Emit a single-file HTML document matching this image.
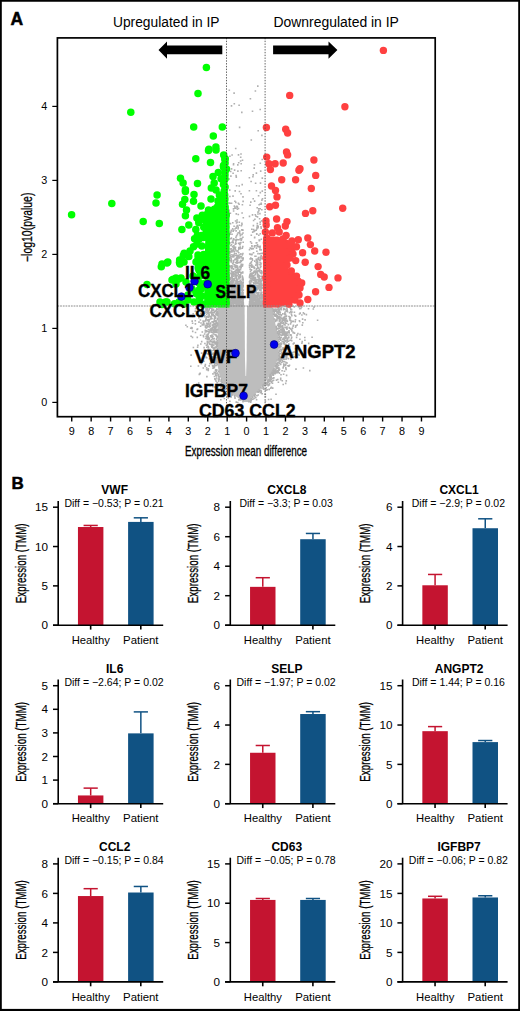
<!DOCTYPE html>
<html><head><meta charset="utf-8"><style>
html,body{margin:0;padding:0;background:#fff;overflow:hidden;width:520px;height:1011px;}
svg{display:block;font-family:"Liberation Sans", sans-serif;}
</style></head><body>
<svg width="520" height="1011" viewBox="0 0 520 1011">
<rect width="520" height="1011" fill="#fff"/>
<text x="10.40" y="25.00" font-size="17.5" text-anchor="start" font-weight="bold" stroke="#000" stroke-width="0.5">A</text>
<text x="113.00" y="26.60" font-size="13.8" text-anchor="start" textLength="106.5" lengthAdjust="spacingAndGlyphs">Upregulated in IP</text>
<text x="273.40" y="26.60" font-size="13.8" text-anchor="start" textLength="125.5" lengthAdjust="spacingAndGlyphs">Downregulated in IP</text>
<polygon points="218.0,306 218.0,309 217.9,312 217.9,315 217.9,318 217.8,321 217.8,324 217.8,327 217.7,330 217.7,333 217.7,336 217.6,339 217.6,342 217.6,345 217.5,348 217.5,351 217.5,354 217.5,357 217.5,360 217.5,363 217.7,366 218.3,369 218.9,372 219.5,375 220.7,378 221.9,381 223.1,384 225.5,387 228.5,390 231.5,393 235.4,396 239.5,399 244.2,402 248.4,402 250.7,399 253.3,396 256.4,393 259.2,390 261.5,387 263.9,384 266.2,381 268.2,378 270.1,375 272.0,372 273.9,369 275.2,366 276.3,363 277.4,360 278.5,357 278.6,354 278.7,351 278.8,348 278.9,345 278.9,342 278.8,339 278.1,336 277.4,333 276.8,330 276.1,327 275.4,324 274.7,321 274.1,318 273.6,315 273.1,312 272.5,309 272.0,306" fill="#bdbdbd"/>
<path fill="#b0b0b0" d="M212.3 305.6h1.6v1.6h-1.6zM210.8 338.7h1.6v1.6h-1.6zM294.4 320.8h1.6v1.6h-1.6zM212.1 340.6h1.6v1.6h-1.6zM268.9 382.4h1.6v1.6h-1.6zM283.0 351.3h1.6v1.6h-1.6zM211.8 345.6h1.6v1.6h-1.6zM287.2 331.3h1.6v1.6h-1.6zM208.8 315.8h1.6v1.6h-1.6zM218.4 378.5h1.6v1.6h-1.6zM280.5 358.4h1.6v1.6h-1.6zM211.3 321.0h1.6v1.6h-1.6zM215.1 328.6h1.6v1.6h-1.6zM203.3 353.9h1.6v1.6h-1.6zM212.5 313.9h1.6v1.6h-1.6zM273.2 372.1h1.6v1.6h-1.6zM210.8 312.4h1.6v1.6h-1.6zM274.6 370.4h1.6v1.6h-1.6zM220.0 386.3h1.6v1.6h-1.6zM216.2 341.1h1.6v1.6h-1.6zM210.2 315.7h1.6v1.6h-1.6zM281.4 353.9h1.6v1.6h-1.6zM194.8 310.2h1.6v1.6h-1.6zM210.1 311.4h1.6v1.6h-1.6zM285.1 347.9h1.6v1.6h-1.6zM254.1 396.0h1.6v1.6h-1.6zM267.2 383.7h1.6v1.6h-1.6zM207.0 315.4h1.6v1.6h-1.6zM279.3 360.2h1.6v1.6h-1.6zM194.8 308.0h1.6v1.6h-1.6zM204.0 316.0h1.6v1.6h-1.6zM204.1 342.7h1.6v1.6h-1.6zM269.1 380.3h1.6v1.6h-1.6zM211.0 346.3h1.6v1.6h-1.6zM286.8 338.6h1.6v1.6h-1.6zM205.0 319.8h1.6v1.6h-1.6zM278.2 306.3h1.6v1.6h-1.6zM268.6 384.1h1.6v1.6h-1.6zM215.3 305.4h1.6v1.6h-1.6zM211.0 308.9h1.6v1.6h-1.6zM200.4 313.3h1.6v1.6h-1.6zM284.1 315.4h1.6v1.6h-1.6zM277.7 358.6h1.6v1.6h-1.6zM215.7 330.1h1.6v1.6h-1.6zM202.7 312.8h1.6v1.6h-1.6zM206.6 322.8h1.6v1.6h-1.6zM214.7 317.0h1.6v1.6h-1.6zM286.9 337.9h1.6v1.6h-1.6zM286.2 320.5h1.6v1.6h-1.6zM281.3 320.1h1.6v1.6h-1.6zM274.4 305.6h1.6v1.6h-1.6zM291.2 311.2h1.6v1.6h-1.6zM272.7 369.2h1.6v1.6h-1.6zM278.1 329.8h1.6v1.6h-1.6zM210.7 328.9h1.6v1.6h-1.6zM238.5 398.8h1.6v1.6h-1.6zM286.7 310.8h1.6v1.6h-1.6zM290.3 308.6h1.6v1.6h-1.6zM208.2 338.9h1.6v1.6h-1.6zM214.2 330.1h1.6v1.6h-1.6zM279.2 337.0h1.6v1.6h-1.6zM269.2 379.9h1.6v1.6h-1.6zM212.2 347.1h1.6v1.6h-1.6zM258.2 390.4h1.6v1.6h-1.6zM274.2 308.9h1.6v1.6h-1.6zM207.8 346.7h1.6v1.6h-1.6zM280.3 331.5h1.6v1.6h-1.6zM212.6 311.9h1.6v1.6h-1.6zM278.3 343.7h1.6v1.6h-1.6zM220.0 399.0h1.6v1.6h-1.6zM212.2 335.4h1.6v1.6h-1.6zM211.5 324.7h1.6v1.6h-1.6zM204.2 314.9h1.6v1.6h-1.6zM283.0 320.0h1.6v1.6h-1.6zM278.2 338.9h1.6v1.6h-1.6zM279.9 377.6h1.6v1.6h-1.6zM283.3 331.8h1.6v1.6h-1.6zM205.1 326.8h1.6v1.6h-1.6zM295.8 336.6h1.6v1.6h-1.6zM278.5 311.3h1.6v1.6h-1.6zM204.5 329.5h1.6v1.6h-1.6zM271.8 374.1h1.6v1.6h-1.6zM290.6 308.9h1.6v1.6h-1.6zM216.4 343.5h1.6v1.6h-1.6zM285.7 305.9h1.6v1.6h-1.6zM214.0 329.3h1.6v1.6h-1.6zM252.1 398.4h1.6v1.6h-1.6zM283.4 329.2h1.6v1.6h-1.6zM285.8 322.4h1.6v1.6h-1.6zM214.5 306.1h1.6v1.6h-1.6zM206.6 311.5h1.6v1.6h-1.6zM285.1 326.8h1.6v1.6h-1.6zM227.5 392.3h1.6v1.6h-1.6zM197.7 385.1h1.6v1.6h-1.6zM258.5 390.7h1.6v1.6h-1.6zM211.3 328.0h1.6v1.6h-1.6zM271.7 382.4h1.6v1.6h-1.6zM285.4 317.5h1.6v1.6h-1.6zM205.4 330.9h1.6v1.6h-1.6zM285.3 334.2h1.6v1.6h-1.6zM213.7 312.0h1.6v1.6h-1.6zM199.3 372.4h1.6v1.6h-1.6zM288.9 327.5h1.6v1.6h-1.6zM280.6 317.7h1.6v1.6h-1.6zM242.2 400.8h1.6v1.6h-1.6zM282.2 338.2h1.6v1.6h-1.6zM212.8 340.5h1.6v1.6h-1.6zM207.1 312.0h1.6v1.6h-1.6zM278.2 346.6h1.6v1.6h-1.6zM211.8 331.8h1.6v1.6h-1.6zM282.7 328.1h1.6v1.6h-1.6zM205.9 313.4h1.6v1.6h-1.6zM254.1 394.2h1.6v1.6h-1.6zM276.9 366.0h1.6v1.6h-1.6zM272.9 308.4h1.6v1.6h-1.6zM273.1 377.1h1.6v1.6h-1.6zM277.6 305.4h1.6v1.6h-1.6zM213.4 319.5h1.6v1.6h-1.6zM278.1 354.5h1.6v1.6h-1.6zM206.5 343.6h1.6v1.6h-1.6zM280.2 325.7h1.6v1.6h-1.6zM213.8 311.1h1.6v1.6h-1.6zM207.4 337.7h1.6v1.6h-1.6zM286.2 341.4h1.6v1.6h-1.6zM280.6 308.0h1.6v1.6h-1.6zM263.0 388.4h1.6v1.6h-1.6zM190.7 326.8h1.6v1.6h-1.6zM214.6 315.8h1.6v1.6h-1.6zM278.0 307.1h1.6v1.6h-1.6zM214.5 353.1h1.6v1.6h-1.6zM211.8 364.7h1.6v1.6h-1.6zM204.9 337.7h1.6v1.6h-1.6zM210.9 307.5h1.6v1.6h-1.6zM277.1 361.4h1.6v1.6h-1.6zM212.1 365.1h1.6v1.6h-1.6zM220.7 389.8h1.6v1.6h-1.6zM291.7 327.3h1.6v1.6h-1.6zM285.3 334.8h1.6v1.6h-1.6zM292.4 320.6h1.6v1.6h-1.6zM204.2 310.4h1.6v1.6h-1.6zM208.0 323.1h1.6v1.6h-1.6zM229.1 400.4h1.6v1.6h-1.6zM283.8 352.4h1.6v1.6h-1.6zM213.7 325.7h1.6v1.6h-1.6zM282.9 363.2h1.6v1.6h-1.6zM279.7 363.7h1.6v1.6h-1.6zM292.3 331.8h1.6v1.6h-1.6zM234.1 396.5h1.6v1.6h-1.6zM256.8 391.1h1.6v1.6h-1.6zM248.5 400.6h1.6v1.6h-1.6zM217.9 375.6h1.6v1.6h-1.6zM278.8 343.3h1.6v1.6h-1.6zM215.7 350.1h1.6v1.6h-1.6zM280.1 316.9h1.6v1.6h-1.6zM290.3 334.6h1.6v1.6h-1.6zM250.9 397.9h1.6v1.6h-1.6zM206.4 307.5h1.6v1.6h-1.6zM215.7 309.1h1.6v1.6h-1.6zM302.0 322.0h1.6v1.6h-1.6zM221.2 382.0h1.6v1.6h-1.6zM309.0 369.8h1.6v1.6h-1.6zM289.0 316.9h1.6v1.6h-1.6zM191.7 336.6h1.6v1.6h-1.6zM289.1 317.4h1.6v1.6h-1.6zM211.7 342.1h1.6v1.6h-1.6zM281.2 352.8h1.6v1.6h-1.6zM278.3 357.1h1.6v1.6h-1.6zM207.2 309.8h1.6v1.6h-1.6zM298.6 306.2h1.6v1.6h-1.6zM286.0 355.1h1.6v1.6h-1.6zM216.1 329.9h1.6v1.6h-1.6zM205.7 330.0h1.6v1.6h-1.6zM254.6 393.8h1.6v1.6h-1.6zM310.0 352.3h1.6v1.6h-1.6zM284.8 313.6h1.6v1.6h-1.6zM276.4 305.9h1.6v1.6h-1.6zM277.8 327.2h1.6v1.6h-1.6zM286.1 334.7h1.6v1.6h-1.6zM284.8 340.3h1.6v1.6h-1.6zM304.0 336.7h1.6v1.6h-1.6zM209.8 322.9h1.6v1.6h-1.6zM205.6 344.4h1.6v1.6h-1.6zM279.6 348.5h1.6v1.6h-1.6zM253.3 397.7h1.6v1.6h-1.6zM213.6 354.5h1.6v1.6h-1.6zM214.5 364.9h1.6v1.6h-1.6zM227.4 397.1h1.6v1.6h-1.6zM277.8 336.9h1.6v1.6h-1.6zM211.8 325.1h1.6v1.6h-1.6zM204.0 350.3h1.6v1.6h-1.6zM281.5 359.5h1.6v1.6h-1.6zM209.1 351.0h1.6v1.6h-1.6zM210.4 353.7h1.6v1.6h-1.6zM217.7 384.3h1.6v1.6h-1.6zM211.8 335.5h1.6v1.6h-1.6zM282.8 322.5h1.6v1.6h-1.6zM276.7 363.5h1.6v1.6h-1.6zM268.2 380.1h1.6v1.6h-1.6zM191.2 326.9h1.6v1.6h-1.6zM223.0 394.9h1.6v1.6h-1.6zM290.6 337.8h1.6v1.6h-1.6zM217.4 373.8h1.6v1.6h-1.6zM283.0 365.3h1.6v1.6h-1.6zM207.5 367.9h1.6v1.6h-1.6zM274.6 365.7h1.6v1.6h-1.6zM253.3 394.8h1.6v1.6h-1.6zM217.8 370.6h1.6v1.6h-1.6zM282.1 330.6h1.6v1.6h-1.6zM278.7 352.8h1.6v1.6h-1.6zM264.5 393.4h1.6v1.6h-1.6zM206.0 307.9h1.6v1.6h-1.6zM211.0 314.0h1.6v1.6h-1.6zM211.2 308.2h1.6v1.6h-1.6zM202.3 314.4h1.6v1.6h-1.6zM282.9 357.8h1.6v1.6h-1.6zM216.5 348.8h1.6v1.6h-1.6zM202.8 335.8h1.6v1.6h-1.6zM276.9 332.7h1.6v1.6h-1.6zM282.6 353.9h1.6v1.6h-1.6zM283.5 342.8h1.6v1.6h-1.6zM286.8 351.5h1.6v1.6h-1.6zM178.5 315.1h1.6v1.6h-1.6zM216.2 325.8h1.6v1.6h-1.6zM295.2 368.3h1.6v1.6h-1.6zM273.7 318.2h1.6v1.6h-1.6zM212.1 344.0h1.6v1.6h-1.6zM276.3 311.6h1.6v1.6h-1.6zM256.2 394.9h1.6v1.6h-1.6zM281.7 322.4h1.6v1.6h-1.6zM207.7 310.3h1.6v1.6h-1.6zM277.1 359.2h1.6v1.6h-1.6zM286.3 327.7h1.6v1.6h-1.6zM211.3 334.2h1.6v1.6h-1.6zM301.4 340.8h1.6v1.6h-1.6zM272.8 370.3h1.6v1.6h-1.6zM215.1 333.9h1.6v1.6h-1.6zM282.5 341.0h1.6v1.6h-1.6zM186.5 326.0h1.6v1.6h-1.6zM269.7 373.7h1.6v1.6h-1.6zM267.9 379.0h1.6v1.6h-1.6zM215.7 343.3h1.6v1.6h-1.6zM282.6 342.2h1.6v1.6h-1.6zM278.8 349.5h1.6v1.6h-1.6zM264.3 383.1h1.6v1.6h-1.6zM207.1 334.4h1.6v1.6h-1.6zM223.9 392.8h1.6v1.6h-1.6zM288.4 326.8h1.6v1.6h-1.6zM286.0 356.2h1.6v1.6h-1.6zM190.0 365.4h1.6v1.6h-1.6zM278.4 353.1h1.6v1.6h-1.6zM231.4 394.1h1.6v1.6h-1.6zM235.5 401.3h1.6v1.6h-1.6zM214.1 364.9h1.6v1.6h-1.6zM276.2 318.8h1.6v1.6h-1.6zM280.5 336.6h1.6v1.6h-1.6zM286.4 337.2h1.6v1.6h-1.6zM282.4 366.4h1.6v1.6h-1.6zM214.0 378.1h1.6v1.6h-1.6zM279.0 332.6h1.6v1.6h-1.6zM208.1 353.1h1.6v1.6h-1.6zM206.1 324.9h1.6v1.6h-1.6zM299.4 312.3h1.6v1.6h-1.6zM210.3 317.0h1.6v1.6h-1.6zM213.6 327.8h1.6v1.6h-1.6zM234.2 396.6h1.6v1.6h-1.6zM195.7 306.7h1.6v1.6h-1.6zM208.7 319.0h1.6v1.6h-1.6zM206.7 309.8h1.6v1.6h-1.6zM213.9 322.5h1.6v1.6h-1.6zM277.7 358.2h1.6v1.6h-1.6zM217.6 378.7h1.6v1.6h-1.6zM293.6 311.5h1.6v1.6h-1.6zM288.8 311.9h1.6v1.6h-1.6zM206.0 346.4h1.6v1.6h-1.6zM213.7 349.9h1.6v1.6h-1.6zM196.5 336.6h1.6v1.6h-1.6zM284.5 318.9h1.6v1.6h-1.6zM285.8 319.9h1.6v1.6h-1.6zM274.6 308.8h1.6v1.6h-1.6zM201.2 314.0h1.6v1.6h-1.6zM292.7 324.5h1.6v1.6h-1.6zM276.4 317.1h1.6v1.6h-1.6zM277.3 312.4h1.6v1.6h-1.6zM216.6 350.0h1.6v1.6h-1.6zM194.5 319.9h1.6v1.6h-1.6zM289.8 310.8h1.6v1.6h-1.6zM260.8 387.2h1.6v1.6h-1.6zM280.0 363.2h1.6v1.6h-1.6zM206.2 336.8h1.6v1.6h-1.6zM208.3 318.8h1.6v1.6h-1.6zM279.6 357.6h1.6v1.6h-1.6zM277.6 322.7h1.6v1.6h-1.6zM274.4 310.5h1.6v1.6h-1.6zM273.3 369.9h1.6v1.6h-1.6zM275.3 367.8h1.6v1.6h-1.6zM275.3 319.3h1.6v1.6h-1.6zM277.9 317.8h1.6v1.6h-1.6zM278.5 309.5h1.6v1.6h-1.6zM286.1 327.3h1.6v1.6h-1.6zM288.9 346.1h1.6v1.6h-1.6zM277.3 308.4h1.6v1.6h-1.6zM276.1 320.0h1.6v1.6h-1.6zM277.8 313.5h1.6v1.6h-1.6zM279.6 331.3h1.6v1.6h-1.6zM289.3 339.4h1.6v1.6h-1.6zM312.5 308.2h1.6v1.6h-1.6zM283.1 333.0h1.6v1.6h-1.6zM212.2 353.5h1.6v1.6h-1.6zM215.2 320.1h1.6v1.6h-1.6zM227.2 393.9h1.6v1.6h-1.6zM216.0 308.0h1.6v1.6h-1.6zM194.7 331.7h1.6v1.6h-1.6zM214.6 329.4h1.6v1.6h-1.6zM279.9 379.0h1.6v1.6h-1.6zM216.3 331.6h1.6v1.6h-1.6zM277.1 306.7h1.6v1.6h-1.6zM215.1 313.3h1.6v1.6h-1.6zM214.5 371.7h1.6v1.6h-1.6zM206.8 336.2h1.6v1.6h-1.6zM203.1 360.5h1.6v1.6h-1.6zM210.0 339.8h1.6v1.6h-1.6zM213.3 323.3h1.6v1.6h-1.6zM191.2 327.7h1.6v1.6h-1.6zM279.3 359.3h1.6v1.6h-1.6zM276.1 367.5h1.6v1.6h-1.6zM200.8 352.3h1.6v1.6h-1.6zM216.6 361.9h1.6v1.6h-1.6zM278.6 372.3h1.6v1.6h-1.6zM207.9 341.2h1.6v1.6h-1.6zM276.9 316.9h1.6v1.6h-1.6zM285.2 336.6h1.6v1.6h-1.6zM197.3 308.3h1.6v1.6h-1.6zM277.2 331.3h1.6v1.6h-1.6zM265.6 381.7h1.6v1.6h-1.6zM230.6 394.5h1.6v1.6h-1.6zM281.4 332.3h1.6v1.6h-1.6zM215.1 354.4h1.6v1.6h-1.6zM212.8 349.3h1.6v1.6h-1.6zM223.4 388.7h1.6v1.6h-1.6zM199.0 373.2h1.6v1.6h-1.6zM282.3 347.1h1.6v1.6h-1.6zM214.5 378.6h1.6v1.6h-1.6zM276.6 315.1h1.6v1.6h-1.6zM281.2 327.3h1.6v1.6h-1.6zM288.1 315.7h1.6v1.6h-1.6zM280.8 353.6h1.6v1.6h-1.6zM205.7 327.1h1.6v1.6h-1.6zM270.8 381.7h1.6v1.6h-1.6zM216.6 313.2h1.6v1.6h-1.6zM211.6 356.2h1.6v1.6h-1.6zM208.4 307.8h1.6v1.6h-1.6zM285.3 305.7h1.6v1.6h-1.6zM275.8 365.0h1.6v1.6h-1.6zM288.2 334.2h1.6v1.6h-1.6zM282.8 337.3h1.6v1.6h-1.6zM249.9 401.4h1.6v1.6h-1.6zM280.5 343.5h1.6v1.6h-1.6zM212.4 321.8h1.6v1.6h-1.6zM208.4 308.9h1.6v1.6h-1.6zM280.6 355.9h1.6v1.6h-1.6zM211.6 327.1h1.6v1.6h-1.6zM207.8 310.2h1.6v1.6h-1.6zM213.2 355.6h1.6v1.6h-1.6zM214.7 369.5h1.6v1.6h-1.6zM278.9 306.8h1.6v1.6h-1.6zM227.6 390.3h1.6v1.6h-1.6zM279.8 308.1h1.6v1.6h-1.6zM215.8 375.1h1.6v1.6h-1.6zM281.3 369.9h1.6v1.6h-1.6zM215.5 357.5h1.6v1.6h-1.6zM286.8 340.0h1.6v1.6h-1.6zM215.6 331.5h1.6v1.6h-1.6zM270.0 378.7h1.6v1.6h-1.6zM208.2 331.8h1.6v1.6h-1.6zM208.2 348.8h1.6v1.6h-1.6zM205.5 356.8h1.6v1.6h-1.6zM262.7 386.5h1.6v1.6h-1.6zM264.4 383.3h1.6v1.6h-1.6zM280.7 351.5h1.6v1.6h-1.6zM202.1 313.1h1.6v1.6h-1.6zM215.1 358.5h1.6v1.6h-1.6zM216.3 362.5h1.6v1.6h-1.6zM304.3 319.1h1.6v1.6h-1.6zM267.9 378.6h1.6v1.6h-1.6zM264.0 384.4h1.6v1.6h-1.6zM199.9 312.4h1.6v1.6h-1.6zM283.0 308.2h1.6v1.6h-1.6zM301.1 342.5h1.6v1.6h-1.6zM205.3 335.6h1.6v1.6h-1.6zM290.9 329.1h1.6v1.6h-1.6zM217.5 373.9h1.6v1.6h-1.6zM272.9 308.9h1.6v1.6h-1.6zM296.4 324.2h1.6v1.6h-1.6zM214.5 356.6h1.6v1.6h-1.6zM278.8 355.3h1.6v1.6h-1.6zM272.8 313.3h1.6v1.6h-1.6zM214.1 320.3h1.6v1.6h-1.6zM216.9 314.8h1.6v1.6h-1.6zM278.5 336.3h1.6v1.6h-1.6zM288.2 329.9h1.6v1.6h-1.6zM191.9 330.6h1.6v1.6h-1.6zM280.1 342.3h1.6v1.6h-1.6zM270.0 376.7h1.6v1.6h-1.6zM276.5 369.7h1.6v1.6h-1.6zM214.9 378.8h1.6v1.6h-1.6zM278.7 362.5h1.6v1.6h-1.6zM284.1 313.5h1.6v1.6h-1.6zM203.4 312.4h1.6v1.6h-1.6zM283.1 305.4h1.6v1.6h-1.6zM284.2 335.6h1.6v1.6h-1.6zM279.8 359.2h1.6v1.6h-1.6zM212.8 308.4h1.6v1.6h-1.6zM281.9 354.5h1.6v1.6h-1.6zM216.4 347.4h1.6v1.6h-1.6zM207.7 338.9h1.6v1.6h-1.6zM220.4 378.8h1.6v1.6h-1.6zM288.0 336.2h1.6v1.6h-1.6zM215.8 345.0h1.6v1.6h-1.6zM285.4 361.7h1.6v1.6h-1.6zM281.3 354.8h1.6v1.6h-1.6zM211.0 329.2h1.6v1.6h-1.6zM285.4 356.6h1.6v1.6h-1.6zM209.4 325.5h1.6v1.6h-1.6zM214.5 328.0h1.6v1.6h-1.6zM281.9 338.5h1.6v1.6h-1.6zM212.6 356.5h1.6v1.6h-1.6zM298.9 320.7h1.6v1.6h-1.6zM285.4 339.5h1.6v1.6h-1.6zM283.7 370.4h1.6v1.6h-1.6zM197.1 344.6h1.6v1.6h-1.6zM215.3 360.3h1.6v1.6h-1.6zM209.9 357.3h1.6v1.6h-1.6zM270.6 386.5h1.6v1.6h-1.6zM279.1 338.4h1.6v1.6h-1.6zM225.1 392.3h1.6v1.6h-1.6zM285.5 380.1h1.6v1.6h-1.6zM284.2 308.5h1.6v1.6h-1.6zM273.6 308.6h1.6v1.6h-1.6zM214.5 346.2h1.6v1.6h-1.6zM215.8 373.0h1.6v1.6h-1.6zM214.6 334.2h1.6v1.6h-1.6zM285.8 374.6h1.6v1.6h-1.6zM279.4 313.3h1.6v1.6h-1.6zM283.1 317.7h1.6v1.6h-1.6zM278.2 354.5h1.6v1.6h-1.6zM275.6 313.6h1.6v1.6h-1.6zM212.3 312.1h1.6v1.6h-1.6zM213.6 366.8h1.6v1.6h-1.6zM215.6 361.1h1.6v1.6h-1.6zM211.5 309.6h1.6v1.6h-1.6zM277.1 361.9h1.6v1.6h-1.6zM214.1 317.8h1.6v1.6h-1.6zM210.4 351.3h1.6v1.6h-1.6zM273.5 311.2h1.6v1.6h-1.6zM206.8 353.1h1.6v1.6h-1.6zM216.8 386.0h1.6v1.6h-1.6zM209.2 329.9h1.6v1.6h-1.6zM204.8 306.5h1.6v1.6h-1.6zM212.8 341.9h1.6v1.6h-1.6zM285.0 367.1h1.6v1.6h-1.6zM194.5 310.5h1.6v1.6h-1.6zM278.3 369.4h1.6v1.6h-1.6zM209.1 343.4h1.6v1.6h-1.6zM293.2 356.1h1.6v1.6h-1.6zM278.6 320.0h1.6v1.6h-1.6zM209.1 362.8h1.6v1.6h-1.6zM214.2 362.3h1.6v1.6h-1.6zM213.0 348.3h1.6v1.6h-1.6zM292.0 354.1h1.6v1.6h-1.6zM264.8 389.3h1.6v1.6h-1.6zM207.5 369.6h1.6v1.6h-1.6zM278.2 337.0h1.6v1.6h-1.6zM215.5 370.4h1.6v1.6h-1.6zM212.5 320.9h1.6v1.6h-1.6zM273.9 309.9h1.6v1.6h-1.6zM289.9 319.9h1.6v1.6h-1.6zM213.9 340.6h1.6v1.6h-1.6zM290.8 308.8h1.6v1.6h-1.6zM263.9 383.5h1.6v1.6h-1.6zM237.0 401.7h1.6v1.6h-1.6zM279.4 324.1h1.6v1.6h-1.6zM210.6 362.7h1.6v1.6h-1.6zM206.8 326.2h1.6v1.6h-1.6zM203.0 314.2h1.6v1.6h-1.6zM210.9 358.2h1.6v1.6h-1.6zM281.4 340.5h1.6v1.6h-1.6zM274.7 308.2h1.6v1.6h-1.6zM212.6 329.5h1.6v1.6h-1.6zM288.3 331.5h1.6v1.6h-1.6zM298.7 313.2h1.6v1.6h-1.6zM283.4 338.7h1.6v1.6h-1.6zM278.4 343.1h1.6v1.6h-1.6zM208.4 318.8h1.6v1.6h-1.6zM294.7 326.4h1.6v1.6h-1.6zM273.4 314.0h1.6v1.6h-1.6zM285.3 309.8h1.6v1.6h-1.6zM277.0 331.0h1.6v1.6h-1.6zM271.7 372.4h1.6v1.6h-1.6zM288.1 343.3h1.6v1.6h-1.6zM280.7 349.6h1.6v1.6h-1.6zM278.0 351.7h1.6v1.6h-1.6zM204.3 365.3h1.6v1.6h-1.6zM282.6 348.0h1.6v1.6h-1.6zM217.3 384.8h1.6v1.6h-1.6zM283.9 361.0h1.6v1.6h-1.6zM280.9 306.4h1.6v1.6h-1.6zM216.5 360.6h1.6v1.6h-1.6zM288.1 336.9h1.6v1.6h-1.6zM284.8 364.6h1.6v1.6h-1.6zM289.0 316.2h1.6v1.6h-1.6zM216.3 328.7h1.6v1.6h-1.6zM212.7 309.7h1.6v1.6h-1.6zM282.6 328.5h1.6v1.6h-1.6zM269.5 374.1h1.6v1.6h-1.6zM209.9 360.1h1.6v1.6h-1.6zM285.8 319.3h1.6v1.6h-1.6zM295.1 325.1h1.6v1.6h-1.6zM250.1 398.4h1.6v1.6h-1.6zM201.4 308.5h1.6v1.6h-1.6zM286.2 331.3h1.6v1.6h-1.6zM284.7 322.3h1.6v1.6h-1.6zM199.8 325.4h1.6v1.6h-1.6zM208.4 331.1h1.6v1.6h-1.6zM274.8 371.9h1.6v1.6h-1.6zM215.9 358.5h1.6v1.6h-1.6zM212.8 328.5h1.6v1.6h-1.6zM267.2 378.9h1.6v1.6h-1.6zM213.2 331.2h1.6v1.6h-1.6zM210.7 327.8h1.6v1.6h-1.6zM213.3 337.9h1.6v1.6h-1.6zM248.0 400.9h1.6v1.6h-1.6zM279.1 344.3h1.6v1.6h-1.6zM275.8 314.4h1.6v1.6h-1.6zM214.5 343.2h1.6v1.6h-1.6zM216.8 372.3h1.6v1.6h-1.6zM285.7 315.3h1.6v1.6h-1.6zM279.0 320.0h1.6v1.6h-1.6zM197.9 382.3h1.6v1.6h-1.6zM215.8 350.2h1.6v1.6h-1.6zM208.1 313.4h1.6v1.6h-1.6zM239.8 399.0h1.6v1.6h-1.6zM283.9 305.5h1.6v1.6h-1.6zM279.5 337.5h1.6v1.6h-1.6zM279.3 359.5h1.6v1.6h-1.6zM205.7 311.5h1.6v1.6h-1.6zM208.5 337.8h1.6v1.6h-1.6zM259.6 392.0h1.6v1.6h-1.6zM311.3 336.4h1.6v1.6h-1.6zM209.3 384.8h1.6v1.6h-1.6zM283.3 358.5h1.6v1.6h-1.6zM284.2 336.6h1.6v1.6h-1.6zM276.0 310.9h1.6v1.6h-1.6zM287.0 347.8h1.6v1.6h-1.6zM287.6 306.0h1.6v1.6h-1.6zM270.0 387.3h1.6v1.6h-1.6zM282.8 340.4h1.6v1.6h-1.6zM278.7 350.1h1.6v1.6h-1.6zM291.3 305.4h1.6v1.6h-1.6zM280.6 342.6h1.6v1.6h-1.6zM275.7 379.3h1.6v1.6h-1.6zM223.4 389.0h1.6v1.6h-1.6zM285.4 310.3h1.6v1.6h-1.6zM293.7 332.3h1.6v1.6h-1.6zM203.1 322.8h1.6v1.6h-1.6zM264.5 382.9h1.6v1.6h-1.6zM204.5 320.1h1.6v1.6h-1.6zM265.5 387.1h1.6v1.6h-1.6zM287.8 340.4h1.6v1.6h-1.6zM284.9 382.6h1.6v1.6h-1.6zM278.9 313.7h1.6v1.6h-1.6zM207.4 350.1h1.6v1.6h-1.6zM279.3 316.2h1.6v1.6h-1.6zM204.6 363.7h1.6v1.6h-1.6zM275.4 309.2h1.6v1.6h-1.6zM212.8 338.2h1.6v1.6h-1.6zM279.3 345.1h1.6v1.6h-1.6zM190.3 354.3h1.6v1.6h-1.6zM268.7 378.3h1.6v1.6h-1.6zM228.8 390.6h1.6v1.6h-1.6zM275.8 309.3h1.6v1.6h-1.6zM212.9 367.0h1.6v1.6h-1.6zM291.0 314.8h1.6v1.6h-1.6zM206.8 338.6h1.6v1.6h-1.6zM215.1 349.9h1.6v1.6h-1.6zM214.0 328.9h1.6v1.6h-1.6zM273.3 368.1h1.6v1.6h-1.6zM291.3 352.2h1.6v1.6h-1.6zM257.4 394.2h1.6v1.6h-1.6zM211.6 336.0h1.6v1.6h-1.6zM215.2 350.3h1.6v1.6h-1.6zM289.7 323.2h1.6v1.6h-1.6zM274.3 314.8h1.6v1.6h-1.6zM214.9 341.6h1.6v1.6h-1.6zM272.9 372.8h1.6v1.6h-1.6zM220.3 380.6h1.6v1.6h-1.6zM202.3 320.2h1.6v1.6h-1.6zM301.1 314.2h1.6v1.6h-1.6zM283.1 316.6h1.6v1.6h-1.6zM214.7 326.0h1.6v1.6h-1.6zM316.8 319.5h1.6v1.6h-1.6zM215.6 325.3h1.6v1.6h-1.6zM215.2 360.8h1.6v1.6h-1.6zM216.3 381.9h1.6v1.6h-1.6zM234.2 397.5h1.6v1.6h-1.6zM203.8 315.9h1.6v1.6h-1.6zM275.5 363.7h1.6v1.6h-1.6zM223.1 385.0h1.6v1.6h-1.6zM283.1 341.2h1.6v1.6h-1.6zM282.4 328.9h1.6v1.6h-1.6zM215.7 331.2h1.6v1.6h-1.6zM284.2 349.7h1.6v1.6h-1.6zM281.1 357.7h1.6v1.6h-1.6zM211.2 344.0h1.6v1.6h-1.6zM194.6 323.1h1.6v1.6h-1.6zM257.5 391.3h1.6v1.6h-1.6zM212.7 341.4h1.6v1.6h-1.6zM282.5 353.4h1.6v1.6h-1.6zM275.4 366.7h1.6v1.6h-1.6zM202.5 334.7h1.6v1.6h-1.6zM275.6 308.6h1.6v1.6h-1.6zM277.7 315.8h1.6v1.6h-1.6zM187.2 315.2h1.6v1.6h-1.6zM283.4 334.1h1.6v1.6h-1.6zM263.2 383.6h1.6v1.6h-1.6zM288.7 364.4h1.6v1.6h-1.6zM214.9 326.2h1.6v1.6h-1.6zM271.8 372.2h1.6v1.6h-1.6zM277.8 323.8h1.6v1.6h-1.6zM280.0 307.5h1.6v1.6h-1.6zM282.3 367.2h1.6v1.6h-1.6zM219.0 376.0h1.6v1.6h-1.6zM273.7 309.7h1.6v1.6h-1.6zM294.9 315.3h1.6v1.6h-1.6zM207.1 323.7h1.6v1.6h-1.6zM291.1 330.1h1.6v1.6h-1.6zM278.0 368.1h1.6v1.6h-1.6zM202.5 311.9h1.6v1.6h-1.6zM298.3 354.4h1.6v1.6h-1.6zM215.3 380.4h1.6v1.6h-1.6zM260.0 389.5h1.6v1.6h-1.6zM274.4 315.5h1.6v1.6h-1.6zM216.6 317.4h1.6v1.6h-1.6zM213.9 347.1h1.6v1.6h-1.6zM280.6 309.0h1.6v1.6h-1.6zM274.3 313.6h1.6v1.6h-1.6zM210.4 341.0h1.6v1.6h-1.6zM270.5 373.2h1.6v1.6h-1.6zM216.1 337.4h1.6v1.6h-1.6zM285.0 335.2h1.6v1.6h-1.6zM275.2 371.8h1.6v1.6h-1.6zM207.4 333.2h1.6v1.6h-1.6zM215.4 322.5h1.6v1.6h-1.6zM212.1 365.7h1.6v1.6h-1.6zM213.8 363.9h1.6v1.6h-1.6zM275.9 328.9h1.6v1.6h-1.6zM284.0 339.5h1.6v1.6h-1.6zM201.8 312.8h1.6v1.6h-1.6zM191.8 322.4h1.6v1.6h-1.6zM216.9 328.9h1.6v1.6h-1.6zM298.6 319.9h1.6v1.6h-1.6zM282.6 322.0h1.6v1.6h-1.6zM272.6 311.0h1.6v1.6h-1.6zM215.0 326.7h1.6v1.6h-1.6zM220.9 383.4h1.6v1.6h-1.6zM286.1 307.8h1.6v1.6h-1.6zM216.5 345.5h1.6v1.6h-1.6zM216.0 351.9h1.6v1.6h-1.6zM279.9 323.0h1.6v1.6h-1.6zM278.2 357.0h1.6v1.6h-1.6zM207.0 319.7h1.6v1.6h-1.6zM213.9 354.3h1.6v1.6h-1.6zM282.7 342.9h1.6v1.6h-1.6zM210.2 328.3h1.6v1.6h-1.6zM278.6 336.1h1.6v1.6h-1.6zM225.5 393.9h1.6v1.6h-1.6zM213.7 341.7h1.6v1.6h-1.6zM275.0 315.4h1.6v1.6h-1.6zM285.8 357.7h1.6v1.6h-1.6zM211.7 353.3h1.6v1.6h-1.6zM289.8 328.1h1.6v1.6h-1.6zM215.4 321.3h1.6v1.6h-1.6zM280.3 313.9h1.6v1.6h-1.6zM214.1 347.9h1.6v1.6h-1.6zM212.2 373.1h1.6v1.6h-1.6zM291.5 320.6h1.6v1.6h-1.6zM205.0 352.6h1.6v1.6h-1.6zM282.3 317.3h1.6v1.6h-1.6zM281.6 333.3h1.6v1.6h-1.6zM202.5 321.1h1.6v1.6h-1.6zM290.2 358.3h1.6v1.6h-1.6zM208.4 308.5h1.6v1.6h-1.6zM281.6 332.2h1.6v1.6h-1.6zM191.4 320.3h1.6v1.6h-1.6zM213.4 365.6h1.6v1.6h-1.6zM278.0 361.5h1.6v1.6h-1.6zM281.7 333.3h1.6v1.6h-1.6zM210.2 343.6h1.6v1.6h-1.6zM297.6 305.8h1.6v1.6h-1.6zM284.5 355.2h1.6v1.6h-1.6zM214.4 317.3h1.6v1.6h-1.6zM284.7 332.2h1.6v1.6h-1.6zM211.0 345.8h1.6v1.6h-1.6zM202.5 309.1h1.6v1.6h-1.6zM275.2 393.4h1.6v1.6h-1.6zM215.7 314.2h1.6v1.6h-1.6zM212.6 329.6h1.6v1.6h-1.6zM199.6 319.2h1.6v1.6h-1.6zM216.4 310.6h1.6v1.6h-1.6zM283.9 352.2h1.6v1.6h-1.6zM293.3 342.2h1.6v1.6h-1.6zM287.3 345.3h1.6v1.6h-1.6zM266.9 380.3h1.6v1.6h-1.6zM203.9 351.5h1.6v1.6h-1.6zM283.1 318.9h1.6v1.6h-1.6zM200.9 340.8h1.6v1.6h-1.6zM285.9 351.9h1.6v1.6h-1.6zM279.3 323.5h1.6v1.6h-1.6zM278.3 313.5h1.6v1.6h-1.6zM278.1 367.0h1.6v1.6h-1.6zM278.8 319.0h1.6v1.6h-1.6zM278.1 358.1h1.6v1.6h-1.6zM216.2 356.9h1.6v1.6h-1.6zM278.2 359.0h1.6v1.6h-1.6zM279.5 360.3h1.6v1.6h-1.6zM281.3 319.5h1.6v1.6h-1.6zM223.8 385.8h1.6v1.6h-1.6zM279.3 360.7h1.6v1.6h-1.6zM281.5 379.9h1.6v1.6h-1.6zM277.8 327.6h1.6v1.6h-1.6zM208.4 313.9h1.6v1.6h-1.6zM205.0 319.0h1.6v1.6h-1.6zM201.4 305.9h1.6v1.6h-1.6zM213.0 314.8h1.6v1.6h-1.6zM277.8 309.9h1.6v1.6h-1.6zM206.0 335.5h1.6v1.6h-1.6zM192.6 346.7h1.6v1.6h-1.6zM278.5 359.7h1.6v1.6h-1.6zM215.0 374.6h1.6v1.6h-1.6zM213.0 352.2h1.6v1.6h-1.6zM279.5 326.1h1.6v1.6h-1.6zM267.8 398.7h1.6v1.6h-1.6zM283.3 364.2h1.6v1.6h-1.6zM204.3 349.4h1.6v1.6h-1.6zM211.2 352.6h1.6v1.6h-1.6zM278.0 325.4h1.6v1.6h-1.6zM286.6 320.3h1.6v1.6h-1.6zM208.9 324.5h1.6v1.6h-1.6zM197.6 365.2h1.6v1.6h-1.6zM216.5 363.9h1.6v1.6h-1.6zM210.3 330.5h1.6v1.6h-1.6zM249.5 399.8h1.6v1.6h-1.6zM216.3 312.1h1.6v1.6h-1.6zM267.2 381.3h1.6v1.6h-1.6zM207.6 311.8h1.6v1.6h-1.6zM284.6 352.4h1.6v1.6h-1.6zM294.8 347.9h1.6v1.6h-1.6zM211.6 305.3h1.6v1.6h-1.6zM282.0 326.8h1.6v1.6h-1.6zM290.6 313.3h1.6v1.6h-1.6zM305.6 313.8h1.6v1.6h-1.6zM203.7 349.2h1.6v1.6h-1.6zM272.6 374.3h1.6v1.6h-1.6zM270.8 380.9h1.6v1.6h-1.6zM212.9 347.4h1.6v1.6h-1.6zM288.8 318.0h1.6v1.6h-1.6zM207.0 330.7h1.6v1.6h-1.6zM264.3 393.5h1.6v1.6h-1.6zM279.5 352.9h1.6v1.6h-1.6zM220.7 385.8h1.6v1.6h-1.6zM275.5 325.8h1.6v1.6h-1.6zM209.5 340.6h1.6v1.6h-1.6zM212.2 324.0h1.6v1.6h-1.6zM275.9 327.6h1.6v1.6h-1.6zM278.8 368.5h1.6v1.6h-1.6zM279.1 327.2h1.6v1.6h-1.6zM288.4 332.1h1.6v1.6h-1.6zM278.5 349.9h1.6v1.6h-1.6zM275.5 367.7h1.6v1.6h-1.6zM290.0 308.5h1.6v1.6h-1.6zM221.4 381.4h1.6v1.6h-1.6zM230.4 396.1h1.6v1.6h-1.6zM214.9 371.4h1.6v1.6h-1.6zM282.0 313.1h1.6v1.6h-1.6zM230.6 392.8h1.6v1.6h-1.6zM281.6 324.7h1.6v1.6h-1.6zM262.7 388.3h1.6v1.6h-1.6zM290.0 334.1h1.6v1.6h-1.6zM202.5 367.2h1.6v1.6h-1.6zM279.7 325.1h1.6v1.6h-1.6zM209.8 322.3h1.6v1.6h-1.6zM301.8 318.3h1.6v1.6h-1.6zM219.8 383.5h1.6v1.6h-1.6zM288.1 336.6h1.6v1.6h-1.6zM273.4 371.3h1.6v1.6h-1.6zM213.5 371.5h1.6v1.6h-1.6zM279.5 311.4h1.6v1.6h-1.6zM277.6 381.5h1.6v1.6h-1.6zM209.6 348.7h1.6v1.6h-1.6zM205.8 367.1h1.6v1.6h-1.6zM205.1 324.6h1.6v1.6h-1.6zM215.8 350.4h1.6v1.6h-1.6zM208.0 315.2h1.6v1.6h-1.6zM208.9 315.6h1.6v1.6h-1.6zM211.5 324.6h1.6v1.6h-1.6zM273.1 309.2h1.6v1.6h-1.6zM290.3 321.7h1.6v1.6h-1.6zM299.1 338.4h1.6v1.6h-1.6zM260.2 387.2h1.6v1.6h-1.6zM255.0 396.9h1.6v1.6h-1.6zM210.3 335.8h1.6v1.6h-1.6zM284.1 339.5h1.6v1.6h-1.6zM191.8 315.7h1.6v1.6h-1.6zM277.0 311.2h1.6v1.6h-1.6zM262.0 385.3h1.6v1.6h-1.6zM293.9 314.6h1.6v1.6h-1.6zM282.5 318.7h1.6v1.6h-1.6zM207.4 345.7h1.6v1.6h-1.6zM261.4 392.9h1.6v1.6h-1.6zM217.9 380.7h1.6v1.6h-1.6zM255.8 398.9h1.6v1.6h-1.6zM215.4 310.0h1.6v1.6h-1.6zM205.8 318.8h1.6v1.6h-1.6zM286.1 328.4h1.6v1.6h-1.6zM276.2 316.8h1.6v1.6h-1.6zM283.1 360.7h1.6v1.6h-1.6zM279.0 346.5h1.6v1.6h-1.6zM206.5 340.9h1.6v1.6h-1.6zM284.2 311.6h1.6v1.6h-1.6zM280.0 321.4h1.6v1.6h-1.6zM286.6 332.1h1.6v1.6h-1.6zM206.4 323.5h1.6v1.6h-1.6zM190.3 335.5h1.6v1.6h-1.6zM289.5 307.1h1.6v1.6h-1.6zM216.3 329.2h1.6v1.6h-1.6zM210.6 310.6h1.6v1.6h-1.6zM211.4 352.4h1.6v1.6h-1.6zM278.8 322.7h1.6v1.6h-1.6zM209.5 328.6h1.6v1.6h-1.6zM279.4 319.2h1.6v1.6h-1.6zM215.4 361.2h1.6v1.6h-1.6zM214.3 372.8h1.6v1.6h-1.6zM208.2 320.6h1.6v1.6h-1.6zM208.4 365.1h1.6v1.6h-1.6zM260.3 390.2h1.6v1.6h-1.6zM276.7 315.2h1.6v1.6h-1.6zM277.6 371.3h1.6v1.6h-1.6zM216.6 335.5h1.6v1.6h-1.6zM216.7 342.1h1.6v1.6h-1.6zM216.7 324.1h1.6v1.6h-1.6zM210.4 336.1h1.6v1.6h-1.6zM271.9 387.3h1.6v1.6h-1.6zM298.0 353.5h1.6v1.6h-1.6zM207.5 325.5h1.6v1.6h-1.6zM281.4 328.9h1.6v1.6h-1.6zM293.5 306.1h1.6v1.6h-1.6zM274.1 308.6h1.6v1.6h-1.6zM208.1 352.1h1.6v1.6h-1.6zM292.6 331.5h1.6v1.6h-1.6zM274.3 373.0h1.6v1.6h-1.6zM203.3 346.8h1.6v1.6h-1.6zM211.0 313.6h1.6v1.6h-1.6zM216.4 339.7h1.6v1.6h-1.6zM202.3 323.3h1.6v1.6h-1.6zM210.8 317.9h1.6v1.6h-1.6zM313.2 306.3h1.6v1.6h-1.6zM207.1 345.5h1.6v1.6h-1.6zM211.0 350.0h1.6v1.6h-1.6zM214.1 360.2h1.6v1.6h-1.6zM216.4 335.6h1.6v1.6h-1.6zM214.4 323.4h1.6v1.6h-1.6zM278.3 357.6h1.6v1.6h-1.6zM215.5 360.5h1.6v1.6h-1.6zM282.8 373.4h1.6v1.6h-1.6zM215.6 335.5h1.6v1.6h-1.6zM207.8 312.2h1.6v1.6h-1.6zM215.7 338.4h1.6v1.6h-1.6zM279.2 314.0h1.6v1.6h-1.6zM214.2 315.4h1.6v1.6h-1.6zM238.1 399.1h1.6v1.6h-1.6zM278.5 331.0h1.6v1.6h-1.6zM213.5 340.3h1.6v1.6h-1.6zM270.8 372.2h1.6v1.6h-1.6zM207.3 369.0h1.6v1.6h-1.6zM307.7 308.0h1.6v1.6h-1.6zM282.6 334.1h1.6v1.6h-1.6zM218.2 376.9h1.6v1.6h-1.6zM264.9 382.4h1.6v1.6h-1.6zM216.0 314.0h1.6v1.6h-1.6zM279.6 337.7h1.6v1.6h-1.6zM275.5 370.9h1.6v1.6h-1.6zM270.4 377.1h1.6v1.6h-1.6zM204.6 326.1h1.6v1.6h-1.6zM283.1 307.4h1.6v1.6h-1.6zM216.2 328.6h1.6v1.6h-1.6zM267.0 380.3h1.6v1.6h-1.6zM200.0 343.2h1.6v1.6h-1.6zM272.3 309.4h1.6v1.6h-1.6zM270.4 375.3h1.6v1.6h-1.6zM215.6 346.5h1.6v1.6h-1.6zM185.1 324.5h1.6v1.6h-1.6zM281.6 325.3h1.6v1.6h-1.6zM222.4 396.0h1.6v1.6h-1.6zM213.9 386.2h1.6v1.6h-1.6zM279.0 327.5h1.6v1.6h-1.6zM239.8 399.1h1.6v1.6h-1.6zM280.8 361.5h1.6v1.6h-1.6zM277.6 308.3h1.6v1.6h-1.6zM217.7 380.4h1.6v1.6h-1.6zM284.3 320.6h1.6v1.6h-1.6zM271.8 307.8h1.6v1.6h-1.6zM281.9 331.1h1.6v1.6h-1.6zM210.3 349.8h1.6v1.6h-1.6zM266.9 382.0h1.6v1.6h-1.6zM278.4 341.0h1.6v1.6h-1.6zM295.1 351.4h1.6v1.6h-1.6zM276.4 367.4h1.6v1.6h-1.6zM260.5 391.8h1.6v1.6h-1.6zM206.5 306.2h1.6v1.6h-1.6zM292.3 325.4h1.6v1.6h-1.6zM294.7 318.9h1.6v1.6h-1.6zM279.1 360.2h1.6v1.6h-1.6zM303.6 313.1h1.6v1.6h-1.6zM211.3 361.2h1.6v1.6h-1.6zM280.2 356.6h1.6v1.6h-1.6zM264.6 395.8h1.6v1.6h-1.6zM281.8 357.4h1.6v1.6h-1.6zM213.5 337.7h1.6v1.6h-1.6zM214.4 333.9h1.6v1.6h-1.6zM280.7 321.8h1.6v1.6h-1.6zM218.0 378.3h1.6v1.6h-1.6zM206.8 312.5h1.6v1.6h-1.6zM218.1 379.6h1.6v1.6h-1.6zM207.3 335.9h1.6v1.6h-1.6zM213.5 326.1h1.6v1.6h-1.6zM215.7 321.6h1.6v1.6h-1.6zM213.7 375.7h1.6v1.6h-1.6zM284.3 333.0h1.6v1.6h-1.6zM276.6 310.5h1.6v1.6h-1.6zM265.9 382.8h1.6v1.6h-1.6zM282.1 361.0h1.6v1.6h-1.6zM282.3 330.1h1.6v1.6h-1.6zM277.8 333.8h1.6v1.6h-1.6zM280.2 373.9h1.6v1.6h-1.6zM215.1 342.3h1.6v1.6h-1.6zM212.9 344.4h1.6v1.6h-1.6zM285.3 368.6h1.6v1.6h-1.6zM266.7 382.7h1.6v1.6h-1.6zM198.3 356.9h1.6v1.6h-1.6zM279.9 329.1h1.6v1.6h-1.6zM209.8 307.5h1.6v1.6h-1.6zM206.5 338.8h1.6v1.6h-1.6zM210.1 356.2h1.6v1.6h-1.6zM275.0 365.1h1.6v1.6h-1.6zM280.3 313.9h1.6v1.6h-1.6zM276.8 324.6h1.6v1.6h-1.6zM278.8 317.4h1.6v1.6h-1.6zM205.3 317.3h1.6v1.6h-1.6zM265.8 384.0h1.6v1.6h-1.6zM283.1 364.0h1.6v1.6h-1.6zM284.6 335.5h1.6v1.6h-1.6zM212.3 330.2h1.6v1.6h-1.6zM263.0 384.1h1.6v1.6h-1.6zM279.7 334.2h1.6v1.6h-1.6zM215.5 334.9h1.6v1.6h-1.6zM284.4 317.3h1.6v1.6h-1.6zM216.5 336.5h1.6v1.6h-1.6zM276.6 315.7h1.6v1.6h-1.6zM196.8 328.2h1.6v1.6h-1.6zM271.6 372.1h1.6v1.6h-1.6zM202.9 320.8h1.6v1.6h-1.6zM278.3 315.7h1.6v1.6h-1.6zM205.9 356.9h1.6v1.6h-1.6zM286.0 333.3h1.6v1.6h-1.6zM217.1 312.6h1.6v1.6h-1.6zM277.0 378.7h1.6v1.6h-1.6zM279.0 350.5h1.6v1.6h-1.6zM302.6 312.1h1.6v1.6h-1.6zM207.5 319.1h1.6v1.6h-1.6zM192.4 312.9h1.6v1.6h-1.6zM279.9 339.3h1.6v1.6h-1.6zM269.0 376.3h1.6v1.6h-1.6zM228.1 392.3h1.6v1.6h-1.6zM280.9 329.2h1.6v1.6h-1.6zM285.0 363.4h1.6v1.6h-1.6zM214.5 364.8h1.6v1.6h-1.6zM227.1 388.7h1.6v1.6h-1.6zM206.5 308.4h1.6v1.6h-1.6zM223.6 397.7h1.6v1.6h-1.6zM205.9 368.9h1.6v1.6h-1.6zM213.7 331.3h1.6v1.6h-1.6zM277.8 311.6h1.6v1.6h-1.6zM211.1 311.6h1.6v1.6h-1.6zM211.2 317.7h1.6v1.6h-1.6zM210.3 350.9h1.6v1.6h-1.6zM278.7 313.7h1.6v1.6h-1.6zM290.6 311.4h1.6v1.6h-1.6zM287.7 357.8h1.6v1.6h-1.6zM281.3 330.4h1.6v1.6h-1.6zM284.2 330.9h1.6v1.6h-1.6zM210.2 335.0h1.6v1.6h-1.6zM304.1 339.4h1.6v1.6h-1.6zM201.4 315.8h1.6v1.6h-1.6zM207.4 336.2h1.6v1.6h-1.6zM199.8 334.5h1.6v1.6h-1.6zM251.9 396.3h1.6v1.6h-1.6zM276.4 371.8h1.6v1.6h-1.6zM262.3 387.2h1.6v1.6h-1.6zM215.8 360.1h1.6v1.6h-1.6zM205.1 307.8h1.6v1.6h-1.6zM301.5 324.3h1.6v1.6h-1.6zM217.9 374.5h1.6v1.6h-1.6zM204.3 312.2h1.6v1.6h-1.6zM213.0 333.2h1.6v1.6h-1.6zM211.3 352.5h1.6v1.6h-1.6zM258.5 389.3h1.6v1.6h-1.6zM285.2 358.3h1.6v1.6h-1.6zM287.8 347.1h1.6v1.6h-1.6zM202.2 359.6h1.6v1.6h-1.6zM264.6 400.4h1.6v1.6h-1.6zM280.1 345.8h1.6v1.6h-1.6zM203.2 324.2h1.6v1.6h-1.6zM216.2 360.3h1.6v1.6h-1.6zM283.4 351.8h1.6v1.6h-1.6zM205.3 309.6h1.6v1.6h-1.6zM300.9 306.2h1.6v1.6h-1.6zM210.7 345.4h1.6v1.6h-1.6zM196.8 346.4h1.6v1.6h-1.6zM212.2 367.4h1.6v1.6h-1.6zM278.6 320.6h1.6v1.6h-1.6zM269.2 375.0h1.6v1.6h-1.6zM307.9 342.6h1.6v1.6h-1.6zM277.4 333.1h1.6v1.6h-1.6zM281.6 318.1h1.6v1.6h-1.6zM285.3 356.1h1.6v1.6h-1.6zM279.1 337.3h1.6v1.6h-1.6zM201.3 310.7h1.6v1.6h-1.6zM291.6 305.4h1.6v1.6h-1.6zM276.2 365.6h1.6v1.6h-1.6zM274.2 305.2h1.6v1.6h-1.6zM276.3 310.4h1.6v1.6h-1.6zM282.5 348.6h1.6v1.6h-1.6zM280.1 343.9h1.6v1.6h-1.6zM248.2 400.7h1.6v1.6h-1.6zM277.2 328.0h1.6v1.6h-1.6zM274.4 319.6h1.6v1.6h-1.6zM265.5 389.3h1.6v1.6h-1.6zM232.0 393.9h1.6v1.6h-1.6zM290.9 336.5h1.6v1.6h-1.6zM198.0 316.8h1.6v1.6h-1.6zM283.2 357.1h1.6v1.6h-1.6zM207.4 306.3h1.6v1.6h-1.6zM267.4 384.9h1.6v1.6h-1.6zM281.3 348.6h1.6v1.6h-1.6zM207.2 306.1h1.6v1.6h-1.6zM289.7 319.6h1.6v1.6h-1.6zM204.7 305.9h1.6v1.6h-1.6zM273.5 311.6h1.6v1.6h-1.6zM268.2 379.7h1.6v1.6h-1.6zM277.9 368.9h1.6v1.6h-1.6zM215.5 321.3h1.6v1.6h-1.6zM286.5 334.4h1.6v1.6h-1.6zM211.6 336.3h1.6v1.6h-1.6zM295.5 356.8h1.6v1.6h-1.6zM276.7 359.2h1.6v1.6h-1.6zM269.5 379.3h1.6v1.6h-1.6zM289.6 317.0h1.6v1.6h-1.6zM286.3 362.2h1.6v1.6h-1.6zM214.3 342.6h1.6v1.6h-1.6zM201.5 331.2h1.6v1.6h-1.6zM277.5 333.2h1.6v1.6h-1.6zM209.3 329.3h1.6v1.6h-1.6zM208.7 326.2h1.6v1.6h-1.6zM278.7 309.0h1.6v1.6h-1.6zM200.1 306.0h1.6v1.6h-1.6zM273.9 314.8h1.6v1.6h-1.6zM213.1 311.8h1.6v1.6h-1.6zM282.9 309.0h1.6v1.6h-1.6zM213.5 315.1h1.6v1.6h-1.6zM213.1 325.3h1.6v1.6h-1.6zM277.2 369.7h1.6v1.6h-1.6zM207.9 321.1h1.6v1.6h-1.6zM277.4 323.4h1.6v1.6h-1.6zM285.1 343.5h1.6v1.6h-1.6zM278.6 347.0h1.6v1.6h-1.6zM293.2 342.4h1.6v1.6h-1.6zM224.7 388.4h1.6v1.6h-1.6zM277.9 334.2h1.6v1.6h-1.6zM206.1 375.8h1.6v1.6h-1.6zM215.8 377.2h1.6v1.6h-1.6zM284.4 333.5h1.6v1.6h-1.6zM206.3 333.8h1.6v1.6h-1.6zM289.2 319.3h1.6v1.6h-1.6zM216.8 323.1h1.6v1.6h-1.6zM276.2 362.6h1.6v1.6h-1.6zM214.6 310.7h1.6v1.6h-1.6zM214.2 361.2h1.6v1.6h-1.6zM217.7 378.2h1.6v1.6h-1.6zM216.5 318.8h1.6v1.6h-1.6zM208.4 337.3h1.6v1.6h-1.6zM289.6 354.0h1.6v1.6h-1.6zM272.0 377.5h1.6v1.6h-1.6zM203.9 333.2h1.6v1.6h-1.6zM259.6 389.8h1.6v1.6h-1.6zM200.5 363.0h1.6v1.6h-1.6zM276.7 315.3h1.6v1.6h-1.6zM278.7 310.4h1.6v1.6h-1.6zM286.5 338.7h1.6v1.6h-1.6zM207.6 316.4h1.6v1.6h-1.6zM210.3 331.5h1.6v1.6h-1.6zM274.7 369.1h1.6v1.6h-1.6zM201.5 324.1h1.6v1.6h-1.6zM283.7 341.5h1.6v1.6h-1.6zM290.9 340.0h1.6v1.6h-1.6zM298.9 307.9h1.6v1.6h-1.6zM302.6 367.2h1.6v1.6h-1.6zM288.1 365.5h1.6v1.6h-1.6zM283.0 337.7h1.6v1.6h-1.6zM274.1 371.9h1.6v1.6h-1.6zM277.8 364.5h1.6v1.6h-1.6zM277.3 317.2h1.6v1.6h-1.6zM215.3 364.6h1.6v1.6h-1.6zM213.0 326.3h1.6v1.6h-1.6zM286.4 309.3h1.6v1.6h-1.6zM283.0 355.7h1.6v1.6h-1.6zM213.6 317.8h1.6v1.6h-1.6zM211.3 358.3h1.6v1.6h-1.6zM198.2 321.3h1.6v1.6h-1.6zM260.5 390.4h1.6v1.6h-1.6zM196.3 328.7h1.6v1.6h-1.6zM212.3 359.1h1.6v1.6h-1.6zM198.5 373.6h1.6v1.6h-1.6zM287.5 323.8h1.6v1.6h-1.6zM228.6 391.2h1.6v1.6h-1.6zM267.5 381.3h1.6v1.6h-1.6zM296.2 334.3h1.6v1.6h-1.6zM212.8 352.8h1.6v1.6h-1.6zM233.8 395.0h1.6v1.6h-1.6zM197.0 310.2h1.6v1.6h-1.6zM293.3 351.2h1.6v1.6h-1.6zM208.7 358.1h1.6v1.6h-1.6zM282.2 326.6h1.6v1.6h-1.6zM283.3 323.9h1.6v1.6h-1.6zM269.6 373.8h1.6v1.6h-1.6zM278.3 335.7h1.6v1.6h-1.6zM272.2 370.0h1.6v1.6h-1.6zM231.5 393.3h1.6v1.6h-1.6zM292.5 343.1h1.6v1.6h-1.6zM210.3 328.1h1.6v1.6h-1.6zM206.0 315.8h1.6v1.6h-1.6zM216.0 312.3h1.6v1.6h-1.6zM286.3 331.9h1.6v1.6h-1.6zM211.9 337.8h1.6v1.6h-1.6zM281.5 355.2h1.6v1.6h-1.6zM214.5 310.2h1.6v1.6h-1.6zM276.2 365.3h1.6v1.6h-1.6zM216.3 343.9h1.6v1.6h-1.6zM205.8 322.5h1.6v1.6h-1.6zM262.3 384.3h1.6v1.6h-1.6zM215.2 324.2h1.6v1.6h-1.6zM284.0 343.7h1.6v1.6h-1.6zM207.6 329.0h1.6v1.6h-1.6zM208.9 307.2h1.6v1.6h-1.6zM216.3 321.7h1.6v1.6h-1.6zM206.6 342.3h1.6v1.6h-1.6zM209.8 335.1h1.6v1.6h-1.6zM214.5 320.1h1.6v1.6h-1.6zM275.0 372.2h1.6v1.6h-1.6zM250.2 399.9h1.6v1.6h-1.6zM212.1 386.0h1.6v1.6h-1.6zM208.2 353.0h1.6v1.6h-1.6zM214.7 331.7h1.6v1.6h-1.6zM204.8 320.0h1.6v1.6h-1.6zM268.4 388.6h1.6v1.6h-1.6zM273.9 313.8h1.6v1.6h-1.6zM276.2 370.5h1.6v1.6h-1.6zM281.1 334.4h1.6v1.6h-1.6zM189.9 327.5h1.6v1.6h-1.6zM216.5 311.0h1.6v1.6h-1.6zM278.8 329.9h1.6v1.6h-1.6zM216.5 308.4h1.6v1.6h-1.6zM287.1 365.0h1.6v1.6h-1.6zM278.5 310.8h1.6v1.6h-1.6zM214.5 324.1h1.6v1.6h-1.6zM280.6 314.9h1.6v1.6h-1.6zM283.9 312.9h1.6v1.6h-1.6zM299.3 333.6h1.6v1.6h-1.6zM215.1 369.0h1.6v1.6h-1.6zM219.1 376.0h1.6v1.6h-1.6zM279.9 328.9h1.6v1.6h-1.6zM292.0 351.8h1.6v1.6h-1.6zM297.1 332.8h1.6v1.6h-1.6zM272.8 379.4h1.6v1.6h-1.6zM206.2 316.2h1.6v1.6h-1.6zM278.5 320.0h1.6v1.6h-1.6zM300.1 307.6h1.6v1.6h-1.6zM284.5 324.2h1.6v1.6h-1.6zM204.5 331.2h1.6v1.6h-1.6zM276.8 332.4h1.6v1.6h-1.6zM280.6 321.7h1.6v1.6h-1.6zM266.5 388.9h1.6v1.6h-1.6zM215.5 329.6h1.6v1.6h-1.6zM213.6 327.1h1.6v1.6h-1.6zM250.5 399.7h1.6v1.6h-1.6zM276.1 316.3h1.6v1.6h-1.6zM216.0 369.2h1.6v1.6h-1.6zM210.7 361.4h1.6v1.6h-1.6zM215.4 326.2h1.6v1.6h-1.6zM277.0 311.9h1.6v1.6h-1.6zM213.3 349.2h1.6v1.6h-1.6zM278.2 355.8h1.6v1.6h-1.6zM286.2 326.3h1.6v1.6h-1.6zM200.2 322.2h1.6v1.6h-1.6zM275.8 362.9h1.6v1.6h-1.6zM215.5 353.5h1.6v1.6h-1.6zM215.8 362.5h1.6v1.6h-1.6zM278.1 345.8h1.6v1.6h-1.6zM284.5 334.6h1.6v1.6h-1.6zM284.2 326.6h1.6v1.6h-1.6zM269.4 377.2h1.6v1.6h-1.6zM282.4 383.7h1.6v1.6h-1.6zM209.4 312.0h1.6v1.6h-1.6zM284.5 333.9h1.6v1.6h-1.6zM271.8 380.2h1.6v1.6h-1.6zM207.3 348.4h1.6v1.6h-1.6zM211.3 314.8h1.6v1.6h-1.6zM261.2 392.9h1.6v1.6h-1.6zM210.8 327.4h1.6v1.6h-1.6zM201.1 314.1h1.6v1.6h-1.6zM213.7 375.7h1.6v1.6h-1.6zM284.7 337.5h1.6v1.6h-1.6zM273.1 309.6h1.6v1.6h-1.6zM213.9 316.1h1.6v1.6h-1.6zM278.0 327.7h1.6v1.6h-1.6zM205.4 356.6h1.6v1.6h-1.6zM283.3 316.6h1.6v1.6h-1.6zM210.3 340.9h1.6v1.6h-1.6zM209.8 318.2h1.6v1.6h-1.6zM274.6 320.6h1.6v1.6h-1.6zM279.2 356.8h1.6v1.6h-1.6zM278.7 333.2h1.6v1.6h-1.6zM214.3 358.8h1.6v1.6h-1.6zM281.0 355.1h1.6v1.6h-1.6zM209.0 307.1h1.6v1.6h-1.6zM270.3 398.4h1.6v1.6h-1.6zM281.4 320.4h1.6v1.6h-1.6zM208.6 342.8h1.6v1.6h-1.6zM271.4 371.5h1.6v1.6h-1.6zM265.0 384.1h1.6v1.6h-1.6zM182.2 312.1h1.6v1.6h-1.6zM276.4 365.4h1.6v1.6h-1.6zM270.7 378.9h1.6v1.6h-1.6zM283.4 330.5h1.6v1.6h-1.6zM231.5 284.2h1.6v1.6h-1.6zM230.6 229.6h1.6v1.6h-1.6zM230.7 275.4h1.6v1.6h-1.6zM239.5 290.0h1.6v1.6h-1.6zM241.8 259.4h1.6v1.6h-1.6zM230.5 248.0h1.6v1.6h-1.6zM239.5 234.9h1.6v1.6h-1.6zM229.8 304.3h1.6v1.6h-1.6zM241.3 286.2h1.6v1.6h-1.6zM238.9 257.1h1.6v1.6h-1.6zM234.3 299.2h1.6v1.6h-1.6zM240.8 263.4h1.6v1.6h-1.6zM241.7 288.1h1.6v1.6h-1.6zM232.9 290.9h1.6v1.6h-1.6zM241.8 291.0h1.6v1.6h-1.6zM232.3 273.0h1.6v1.6h-1.6zM228.9 299.1h1.6v1.6h-1.6zM240.5 287.2h1.6v1.6h-1.6zM241.6 282.2h1.6v1.6h-1.6zM238.0 254.4h1.6v1.6h-1.6zM237.0 290.0h1.6v1.6h-1.6zM238.8 247.1h1.6v1.6h-1.6zM234.2 291.7h1.6v1.6h-1.6zM229.9 294.0h1.6v1.6h-1.6zM232.1 285.8h1.6v1.6h-1.6zM240.0 304.3h1.6v1.6h-1.6zM237.7 299.1h1.6v1.6h-1.6zM241.9 276.5h1.6v1.6h-1.6zM238.5 300.8h1.6v1.6h-1.6zM237.3 298.0h1.6v1.6h-1.6zM229.9 256.3h1.6v1.6h-1.6zM233.7 293.1h1.6v1.6h-1.6zM234.1 265.9h1.6v1.6h-1.6zM232.8 261.3h1.6v1.6h-1.6zM232.3 304.4h1.6v1.6h-1.6zM228.9 289.7h1.6v1.6h-1.6zM234.2 259.0h1.6v1.6h-1.6zM241.7 286.5h1.6v1.6h-1.6zM239.7 303.4h1.6v1.6h-1.6zM234.9 287.4h1.6v1.6h-1.6zM228.9 189.3h1.6v1.6h-1.6zM237.9 299.9h1.6v1.6h-1.6zM240.8 302.2h1.6v1.6h-1.6zM230.7 277.1h1.6v1.6h-1.6zM228.6 303.3h1.6v1.6h-1.6zM228.4 297.1h1.6v1.6h-1.6zM238.5 246.8h1.6v1.6h-1.6zM230.5 261.1h1.6v1.6h-1.6zM233.7 275.2h1.6v1.6h-1.6zM242.3 301.2h1.6v1.6h-1.6zM239.6 290.2h1.6v1.6h-1.6zM233.9 277.5h1.6v1.6h-1.6zM230.6 285.9h1.6v1.6h-1.6zM237.1 295.0h1.6v1.6h-1.6zM229.2 304.6h1.6v1.6h-1.6zM234.8 280.2h1.6v1.6h-1.6zM236.1 272.0h1.6v1.6h-1.6zM238.5 298.1h1.6v1.6h-1.6zM240.7 285.5h1.6v1.6h-1.6zM241.8 304.0h1.6v1.6h-1.6zM235.4 299.7h1.6v1.6h-1.6zM240.2 271.8h1.6v1.6h-1.6zM238.2 299.0h1.6v1.6h-1.6zM230.8 293.8h1.6v1.6h-1.6zM228.3 258.9h1.6v1.6h-1.6zM232.3 255.1h1.6v1.6h-1.6zM229.3 295.5h1.6v1.6h-1.6zM238.6 301.8h1.6v1.6h-1.6zM229.6 299.6h1.6v1.6h-1.6zM240.7 291.6h1.6v1.6h-1.6zM239.5 291.9h1.6v1.6h-1.6zM231.7 291.6h1.6v1.6h-1.6zM230.7 276.1h1.6v1.6h-1.6zM239.4 268.6h1.6v1.6h-1.6zM240.3 239.3h1.6v1.6h-1.6zM238.4 290.1h1.6v1.6h-1.6zM241.6 303.8h1.6v1.6h-1.6zM230.9 279.7h1.6v1.6h-1.6zM238.6 297.4h1.6v1.6h-1.6zM237.6 261.9h1.6v1.6h-1.6zM234.1 298.1h1.6v1.6h-1.6zM229.7 302.0h1.6v1.6h-1.6zM235.1 236.6h1.6v1.6h-1.6zM238.3 203.5h1.6v1.6h-1.6zM238.1 297.2h1.6v1.6h-1.6zM233.1 285.0h1.6v1.6h-1.6zM233.4 291.7h1.6v1.6h-1.6zM232.8 238.3h1.6v1.6h-1.6zM241.1 302.5h1.6v1.6h-1.6zM233.9 285.3h1.6v1.6h-1.6zM241.2 223.7h1.6v1.6h-1.6zM238.7 304.8h1.6v1.6h-1.6zM234.0 297.9h1.6v1.6h-1.6zM242.4 278.4h1.6v1.6h-1.6zM231.4 298.9h1.6v1.6h-1.6zM228.9 269.6h1.6v1.6h-1.6zM238.6 275.8h1.6v1.6h-1.6zM239.2 285.3h1.6v1.6h-1.6zM242.4 281.4h1.6v1.6h-1.6zM234.1 300.1h1.6v1.6h-1.6zM238.0 302.2h1.6v1.6h-1.6zM232.5 297.5h1.6v1.6h-1.6zM236.7 257.4h1.6v1.6h-1.6zM235.3 230.1h1.6v1.6h-1.6zM231.0 275.8h1.6v1.6h-1.6zM239.7 248.0h1.6v1.6h-1.6zM233.2 302.7h1.6v1.6h-1.6zM229.1 242.1h1.6v1.6h-1.6zM231.5 304.9h1.6v1.6h-1.6zM234.5 264.9h1.6v1.6h-1.6zM237.5 298.6h1.6v1.6h-1.6zM242.6 297.9h1.6v1.6h-1.6zM235.4 250.2h1.6v1.6h-1.6zM235.1 266.2h1.6v1.6h-1.6zM239.2 297.3h1.6v1.6h-1.6zM235.7 264.7h1.6v1.6h-1.6zM239.5 274.1h1.6v1.6h-1.6zM236.7 292.3h1.6v1.6h-1.6zM233.1 297.3h1.6v1.6h-1.6zM238.0 302.1h1.6v1.6h-1.6zM236.3 221.3h1.6v1.6h-1.6zM235.9 238.8h1.6v1.6h-1.6zM240.7 288.7h1.6v1.6h-1.6zM229.0 284.1h1.6v1.6h-1.6zM237.4 299.1h1.6v1.6h-1.6zM233.3 294.0h1.6v1.6h-1.6zM229.5 302.6h1.6v1.6h-1.6zM238.7 243.4h1.6v1.6h-1.6zM235.3 266.2h1.6v1.6h-1.6zM241.9 302.0h1.6v1.6h-1.6zM236.2 270.0h1.6v1.6h-1.6zM228.5 286.7h1.6v1.6h-1.6zM238.3 284.5h1.6v1.6h-1.6zM240.2 153.2h1.6v1.6h-1.6zM232.3 298.1h1.6v1.6h-1.6zM228.7 265.6h1.6v1.6h-1.6zM236.9 289.7h1.6v1.6h-1.6zM230.0 280.9h1.6v1.6h-1.6zM241.3 228.9h1.6v1.6h-1.6zM237.4 226.5h1.6v1.6h-1.6zM230.3 302.1h1.6v1.6h-1.6zM242.0 245.8h1.6v1.6h-1.6zM234.8 296.9h1.6v1.6h-1.6zM235.5 276.8h1.6v1.6h-1.6zM236.6 233.6h1.6v1.6h-1.6zM235.8 296.3h1.6v1.6h-1.6zM240.6 304.5h1.6v1.6h-1.6zM228.4 283.7h1.6v1.6h-1.6zM237.2 302.8h1.6v1.6h-1.6zM240.2 298.3h1.6v1.6h-1.6zM240.2 265.3h1.6v1.6h-1.6zM232.9 237.9h1.6v1.6h-1.6zM233.0 290.4h1.6v1.6h-1.6zM231.9 273.6h1.6v1.6h-1.6zM238.5 293.7h1.6v1.6h-1.6zM232.6 292.4h1.6v1.6h-1.6zM236.5 255.3h1.6v1.6h-1.6zM232.2 300.4h1.6v1.6h-1.6zM238.2 298.9h1.6v1.6h-1.6zM228.3 291.8h1.6v1.6h-1.6zM238.4 268.8h1.6v1.6h-1.6zM241.5 298.1h1.6v1.6h-1.6zM230.4 291.2h1.6v1.6h-1.6zM233.1 285.3h1.6v1.6h-1.6zM238.3 286.1h1.6v1.6h-1.6zM231.6 298.2h1.6v1.6h-1.6zM238.5 256.4h1.6v1.6h-1.6zM233.5 301.7h1.6v1.6h-1.6zM228.6 290.2h1.6v1.6h-1.6zM235.8 304.9h1.6v1.6h-1.6zM241.6 292.8h1.6v1.6h-1.6zM238.4 185.2h1.6v1.6h-1.6zM239.3 305.0h1.6v1.6h-1.6zM237.2 258.0h1.6v1.6h-1.6zM241.7 286.3h1.6v1.6h-1.6zM238.3 285.2h1.6v1.6h-1.6zM232.5 259.8h1.6v1.6h-1.6zM242.3 258.1h1.6v1.6h-1.6zM241.0 229.1h1.6v1.6h-1.6zM239.8 160.2h1.6v1.6h-1.6zM230.0 283.6h1.6v1.6h-1.6zM238.2 286.1h1.6v1.6h-1.6zM229.4 300.2h1.6v1.6h-1.6zM238.5 302.3h1.6v1.6h-1.6zM236.6 208.4h1.6v1.6h-1.6zM242.2 279.7h1.6v1.6h-1.6zM235.1 261.7h1.6v1.6h-1.6zM238.4 293.6h1.6v1.6h-1.6zM229.3 282.5h1.6v1.6h-1.6zM234.3 301.2h1.6v1.6h-1.6zM230.7 283.9h1.6v1.6h-1.6zM236.5 304.5h1.6v1.6h-1.6zM238.1 238.9h1.6v1.6h-1.6zM228.8 271.9h1.6v1.6h-1.6zM241.2 265.5h1.6v1.6h-1.6zM230.5 249.8h1.6v1.6h-1.6zM240.7 281.5h1.6v1.6h-1.6zM241.3 281.9h1.6v1.6h-1.6zM236.5 280.9h1.6v1.6h-1.6zM232.2 195.3h1.6v1.6h-1.6zM237.5 302.9h1.6v1.6h-1.6zM232.9 229.5h1.6v1.6h-1.6zM231.3 304.2h1.6v1.6h-1.6zM236.5 288.3h1.6v1.6h-1.6zM240.2 272.9h1.6v1.6h-1.6zM230.0 289.6h1.6v1.6h-1.6zM230.7 243.7h1.6v1.6h-1.6zM228.5 283.2h1.6v1.6h-1.6zM239.7 295.4h1.6v1.6h-1.6zM238.4 283.1h1.6v1.6h-1.6zM236.3 293.9h1.6v1.6h-1.6zM241.5 275.2h1.6v1.6h-1.6zM231.5 277.7h1.6v1.6h-1.6zM235.0 296.4h1.6v1.6h-1.6zM232.7 273.5h1.6v1.6h-1.6zM242.0 277.7h1.6v1.6h-1.6zM240.9 296.7h1.6v1.6h-1.6zM237.8 281.1h1.6v1.6h-1.6zM238.4 301.2h1.6v1.6h-1.6zM237.1 250.1h1.6v1.6h-1.6zM234.9 262.0h1.6v1.6h-1.6zM235.0 274.4h1.6v1.6h-1.6zM228.7 303.8h1.6v1.6h-1.6zM238.0 292.7h1.6v1.6h-1.6zM237.0 164.1h1.6v1.6h-1.6zM239.3 299.9h1.6v1.6h-1.6zM230.2 250.7h1.6v1.6h-1.6zM233.2 299.8h1.6v1.6h-1.6zM237.9 304.0h1.6v1.6h-1.6zM232.1 297.7h1.6v1.6h-1.6zM232.9 254.2h1.6v1.6h-1.6zM230.4 287.4h1.6v1.6h-1.6zM240.6 260.6h1.6v1.6h-1.6zM231.2 233.4h1.6v1.6h-1.6zM242.1 292.4h1.6v1.6h-1.6zM233.9 292.1h1.6v1.6h-1.6zM234.1 302.7h1.6v1.6h-1.6zM239.5 261.1h1.6v1.6h-1.6zM237.4 283.8h1.6v1.6h-1.6zM236.3 282.6h1.6v1.6h-1.6zM236.6 205.7h1.6v1.6h-1.6zM234.7 301.6h1.6v1.6h-1.6zM236.9 266.7h1.6v1.6h-1.6zM240.2 192.9h1.6v1.6h-1.6zM232.4 249.3h1.6v1.6h-1.6zM230.8 286.2h1.6v1.6h-1.6zM230.9 256.0h1.6v1.6h-1.6zM241.9 272.2h1.6v1.6h-1.6zM238.5 302.8h1.6v1.6h-1.6zM230.4 266.8h1.6v1.6h-1.6zM238.5 290.4h1.6v1.6h-1.6zM236.2 282.0h1.6v1.6h-1.6zM242.1 252.8h1.6v1.6h-1.6zM241.9 283.4h1.6v1.6h-1.6zM230.8 268.0h1.6v1.6h-1.6zM232.8 297.7h1.6v1.6h-1.6zM241.3 257.4h1.6v1.6h-1.6zM235.5 290.3h1.6v1.6h-1.6zM242.4 303.1h1.6v1.6h-1.6zM236.7 281.9h1.6v1.6h-1.6zM234.5 289.2h1.6v1.6h-1.6zM233.8 246.5h1.6v1.6h-1.6zM232.8 260.6h1.6v1.6h-1.6zM239.7 286.7h1.6v1.6h-1.6zM229.4 302.4h1.6v1.6h-1.6zM240.5 297.9h1.6v1.6h-1.6zM236.8 278.8h1.6v1.6h-1.6zM239.5 281.1h1.6v1.6h-1.6zM234.1 258.9h1.6v1.6h-1.6zM230.0 302.5h1.6v1.6h-1.6zM233.3 305.0h1.6v1.6h-1.6zM236.8 297.0h1.6v1.6h-1.6zM231.7 250.2h1.6v1.6h-1.6zM233.4 297.4h1.6v1.6h-1.6zM234.8 295.1h1.6v1.6h-1.6zM232.5 301.3h1.6v1.6h-1.6zM232.4 303.1h1.6v1.6h-1.6zM233.8 296.6h1.6v1.6h-1.6zM233.7 283.8h1.6v1.6h-1.6zM238.5 303.1h1.6v1.6h-1.6zM237.3 227.9h1.6v1.6h-1.6zM234.6 297.8h1.6v1.6h-1.6zM236.8 281.9h1.6v1.6h-1.6zM230.6 294.1h1.6v1.6h-1.6zM240.8 284.0h1.6v1.6h-1.6zM234.3 207.3h1.6v1.6h-1.6zM237.8 289.6h1.6v1.6h-1.6zM240.4 288.3h1.6v1.6h-1.6zM240.9 284.9h1.6v1.6h-1.6zM229.0 300.9h1.6v1.6h-1.6zM228.3 268.4h1.6v1.6h-1.6zM229.2 304.1h1.6v1.6h-1.6zM238.7 294.2h1.6v1.6h-1.6zM236.0 279.3h1.6v1.6h-1.6zM232.1 281.6h1.6v1.6h-1.6zM239.6 276.3h1.6v1.6h-1.6zM242.6 298.0h1.6v1.6h-1.6zM239.1 298.3h1.6v1.6h-1.6zM239.1 296.6h1.6v1.6h-1.6zM241.5 292.8h1.6v1.6h-1.6zM232.2 281.9h1.6v1.6h-1.6zM238.5 295.3h1.6v1.6h-1.6zM236.5 261.0h1.6v1.6h-1.6zM228.8 256.9h1.6v1.6h-1.6zM236.3 219.2h1.6v1.6h-1.6zM235.3 298.7h1.6v1.6h-1.6zM238.1 268.7h1.6v1.6h-1.6zM229.6 276.9h1.6v1.6h-1.6zM237.9 248.4h1.6v1.6h-1.6zM235.5 281.2h1.6v1.6h-1.6zM237.3 301.3h1.6v1.6h-1.6zM232.4 303.0h1.6v1.6h-1.6zM235.1 290.6h1.6v1.6h-1.6zM233.6 205.3h1.6v1.6h-1.6zM236.0 290.1h1.6v1.6h-1.6zM231.9 287.3h1.6v1.6h-1.6zM235.4 252.7h1.6v1.6h-1.6zM238.8 281.0h1.6v1.6h-1.6zM231.2 271.3h1.6v1.6h-1.6zM231.7 300.0h1.6v1.6h-1.6zM234.2 295.6h1.6v1.6h-1.6zM241.9 300.9h1.6v1.6h-1.6zM230.2 302.3h1.6v1.6h-1.6zM233.3 291.4h1.6v1.6h-1.6zM235.3 227.3h1.6v1.6h-1.6zM232.0 304.9h1.6v1.6h-1.6zM229.1 259.7h1.6v1.6h-1.6zM233.3 305.2h1.6v1.6h-1.6zM241.1 222.4h1.6v1.6h-1.6zM236.2 262.5h1.6v1.6h-1.6zM239.2 300.3h1.6v1.6h-1.6zM240.1 252.9h1.6v1.6h-1.6zM242.0 295.8h1.6v1.6h-1.6zM232.3 291.8h1.6v1.6h-1.6zM237.0 287.2h1.6v1.6h-1.6zM232.6 275.3h1.6v1.6h-1.6zM241.4 293.0h1.6v1.6h-1.6zM237.1 254.7h1.6v1.6h-1.6zM238.5 297.0h1.6v1.6h-1.6zM242.4 257.3h1.6v1.6h-1.6zM234.9 271.4h1.6v1.6h-1.6zM239.5 301.7h1.6v1.6h-1.6zM234.5 254.7h1.6v1.6h-1.6zM228.4 275.3h1.6v1.6h-1.6zM235.9 259.1h1.6v1.6h-1.6zM239.0 303.7h1.6v1.6h-1.6zM230.8 270.3h1.6v1.6h-1.6zM239.2 297.2h1.6v1.6h-1.6zM231.1 304.2h1.6v1.6h-1.6zM236.9 298.0h1.6v1.6h-1.6zM239.5 246.2h1.6v1.6h-1.6zM234.2 270.4h1.6v1.6h-1.6zM236.8 302.7h1.6v1.6h-1.6zM240.3 283.7h1.6v1.6h-1.6zM240.4 298.3h1.6v1.6h-1.6zM232.1 287.8h1.6v1.6h-1.6zM241.6 278.3h1.6v1.6h-1.6zM237.1 284.5h1.6v1.6h-1.6zM242.0 299.1h1.6v1.6h-1.6zM236.2 303.7h1.6v1.6h-1.6zM234.9 241.8h1.6v1.6h-1.6zM231.8 291.9h1.6v1.6h-1.6zM233.6 297.5h1.6v1.6h-1.6zM231.4 281.4h1.6v1.6h-1.6zM237.6 256.1h1.6v1.6h-1.6zM235.5 285.5h1.6v1.6h-1.6zM228.4 274.2h1.6v1.6h-1.6zM239.9 296.2h1.6v1.6h-1.6zM228.5 300.7h1.6v1.6h-1.6zM235.0 294.8h1.6v1.6h-1.6zM235.8 298.4h1.6v1.6h-1.6zM238.8 268.5h1.6v1.6h-1.6zM229.6 296.2h1.6v1.6h-1.6zM233.3 273.0h1.6v1.6h-1.6zM241.4 292.8h1.6v1.6h-1.6zM232.1 296.0h1.6v1.6h-1.6zM241.0 237.8h1.6v1.6h-1.6zM228.2 297.6h1.6v1.6h-1.6zM237.9 162.0h1.6v1.6h-1.6zM239.2 243.9h1.6v1.6h-1.6zM236.0 271.8h1.6v1.6h-1.6zM232.8 303.6h1.6v1.6h-1.6zM240.2 280.6h1.6v1.6h-1.6zM238.9 230.3h1.6v1.6h-1.6zM235.6 303.6h1.6v1.6h-1.6zM230.9 274.1h1.6v1.6h-1.6zM240.4 301.3h1.6v1.6h-1.6zM238.6 302.5h1.6v1.6h-1.6zM231.0 305.1h1.6v1.6h-1.6zM239.8 279.5h1.6v1.6h-1.6zM235.3 289.4h1.6v1.6h-1.6zM241.3 283.9h1.6v1.6h-1.6zM237.2 297.8h1.6v1.6h-1.6zM238.8 266.2h1.6v1.6h-1.6zM239.7 298.2h1.6v1.6h-1.6zM241.8 296.1h1.6v1.6h-1.6zM242.5 216.9h1.6v1.6h-1.6zM237.4 272.8h1.6v1.6h-1.6zM240.1 283.1h1.6v1.6h-1.6zM235.5 176.3h1.6v1.6h-1.6zM235.0 300.8h1.6v1.6h-1.6zM233.5 283.6h1.6v1.6h-1.6zM228.4 288.0h1.6v1.6h-1.6zM239.8 288.1h1.6v1.6h-1.6zM238.7 269.0h1.6v1.6h-1.6zM238.7 287.7h1.6v1.6h-1.6zM234.1 302.4h1.6v1.6h-1.6zM242.5 302.3h1.6v1.6h-1.6zM239.4 275.6h1.6v1.6h-1.6zM229.7 281.1h1.6v1.6h-1.6zM236.9 292.9h1.6v1.6h-1.6zM237.9 297.0h1.6v1.6h-1.6zM232.3 281.4h1.6v1.6h-1.6zM239.1 242.3h1.6v1.6h-1.6zM240.8 289.4h1.6v1.6h-1.6zM235.5 291.7h1.6v1.6h-1.6zM230.2 303.3h1.6v1.6h-1.6zM229.0 252.3h1.6v1.6h-1.6zM241.8 305.1h1.6v1.6h-1.6zM230.7 275.7h1.6v1.6h-1.6zM239.1 299.8h1.6v1.6h-1.6zM229.7 292.5h1.6v1.6h-1.6zM235.5 304.2h1.6v1.6h-1.6zM240.8 297.4h1.6v1.6h-1.6zM232.4 300.6h1.6v1.6h-1.6zM235.0 304.9h1.6v1.6h-1.6zM229.2 284.3h1.6v1.6h-1.6zM232.0 280.4h1.6v1.6h-1.6zM236.3 288.5h1.6v1.6h-1.6zM232.3 256.1h1.6v1.6h-1.6zM239.2 276.9h1.6v1.6h-1.6zM232.9 272.8h1.6v1.6h-1.6zM233.2 295.8h1.6v1.6h-1.6zM231.6 298.6h1.6v1.6h-1.6zM235.2 276.6h1.6v1.6h-1.6zM233.1 255.9h1.6v1.6h-1.6zM238.1 297.6h1.6v1.6h-1.6zM230.6 298.1h1.6v1.6h-1.6zM239.2 292.2h1.6v1.6h-1.6zM242.3 299.8h1.6v1.6h-1.6zM239.6 294.1h1.6v1.6h-1.6zM230.3 304.9h1.6v1.6h-1.6zM236.3 285.7h1.6v1.6h-1.6zM235.7 296.2h1.6v1.6h-1.6zM234.0 279.4h1.6v1.6h-1.6zM237.8 300.9h1.6v1.6h-1.6zM238.9 293.3h1.6v1.6h-1.6zM241.7 300.8h1.6v1.6h-1.6zM239.7 276.7h1.6v1.6h-1.6zM236.1 254.5h1.6v1.6h-1.6zM241.0 303.6h1.6v1.6h-1.6zM237.0 268.1h1.6v1.6h-1.6zM231.6 275.6h1.6v1.6h-1.6zM236.1 295.8h1.6v1.6h-1.6zM238.5 269.6h1.6v1.6h-1.6zM242.3 300.6h1.6v1.6h-1.6zM230.0 299.5h1.6v1.6h-1.6zM236.1 295.8h1.6v1.6h-1.6zM235.0 239.8h1.6v1.6h-1.6zM234.9 303.2h1.6v1.6h-1.6zM237.5 298.9h1.6v1.6h-1.6zM229.9 251.1h1.6v1.6h-1.6zM237.2 268.8h1.6v1.6h-1.6zM242.2 297.6h1.6v1.6h-1.6zM232.1 298.1h1.6v1.6h-1.6zM239.1 271.3h1.6v1.6h-1.6zM240.6 301.8h1.6v1.6h-1.6zM231.0 293.4h1.6v1.6h-1.6zM232.8 284.6h1.6v1.6h-1.6zM234.9 293.0h1.6v1.6h-1.6zM228.3 288.7h1.6v1.6h-1.6zM231.5 298.0h1.6v1.6h-1.6zM230.1 292.6h1.6v1.6h-1.6zM237.5 295.9h1.6v1.6h-1.6zM240.5 259.7h1.6v1.6h-1.6zM235.7 275.2h1.6v1.6h-1.6zM242.2 279.3h1.6v1.6h-1.6zM235.6 257.8h1.6v1.6h-1.6zM240.4 263.8h1.6v1.6h-1.6zM236.1 279.3h1.6v1.6h-1.6zM229.3 233.5h1.6v1.6h-1.6zM240.2 298.7h1.6v1.6h-1.6zM232.3 301.8h1.6v1.6h-1.6zM236.1 304.9h1.6v1.6h-1.6zM234.6 305.2h1.6v1.6h-1.6zM235.6 280.2h1.6v1.6h-1.6zM239.8 282.1h1.6v1.6h-1.6zM241.5 301.9h1.6v1.6h-1.6zM240.4 266.8h1.6v1.6h-1.6zM235.2 273.1h1.6v1.6h-1.6zM236.0 260.9h1.6v1.6h-1.6zM233.8 289.4h1.6v1.6h-1.6zM240.4 288.0h1.6v1.6h-1.6zM233.6 303.0h1.6v1.6h-1.6zM240.7 271.7h1.6v1.6h-1.6zM232.2 296.4h1.6v1.6h-1.6zM237.6 298.5h1.6v1.6h-1.6zM236.4 296.5h1.6v1.6h-1.6zM234.6 297.2h1.6v1.6h-1.6zM234.5 248.0h1.6v1.6h-1.6zM236.6 303.8h1.6v1.6h-1.6zM242.1 300.6h1.6v1.6h-1.6zM239.6 281.6h1.6v1.6h-1.6zM235.3 243.0h1.6v1.6h-1.6zM230.8 277.1h1.6v1.6h-1.6zM238.8 288.3h1.6v1.6h-1.6zM239.6 298.4h1.6v1.6h-1.6zM232.1 295.4h1.6v1.6h-1.6zM237.1 250.8h1.6v1.6h-1.6zM241.2 296.9h1.6v1.6h-1.6zM237.4 287.0h1.6v1.6h-1.6zM239.8 298.8h1.6v1.6h-1.6zM239.3 261.7h1.6v1.6h-1.6zM230.7 266.1h1.6v1.6h-1.6zM238.0 276.9h1.6v1.6h-1.6zM228.4 251.0h1.6v1.6h-1.6zM233.7 263.9h1.6v1.6h-1.6zM236.9 287.0h1.6v1.6h-1.6zM241.9 284.0h1.6v1.6h-1.6zM236.1 303.4h1.6v1.6h-1.6zM237.1 289.8h1.6v1.6h-1.6zM236.4 274.7h1.6v1.6h-1.6zM230.0 290.6h1.6v1.6h-1.6zM229.1 195.7h1.6v1.6h-1.6zM241.1 303.1h1.6v1.6h-1.6zM236.0 278.0h1.6v1.6h-1.6zM231.0 272.9h1.6v1.6h-1.6zM237.7 300.8h1.6v1.6h-1.6zM242.4 296.6h1.6v1.6h-1.6zM239.9 156.5h1.6v1.6h-1.6zM238.8 304.1h1.6v1.6h-1.6zM235.0 302.2h1.6v1.6h-1.6zM230.2 291.8h1.6v1.6h-1.6zM240.4 283.4h1.6v1.6h-1.6zM229.9 305.0h1.6v1.6h-1.6zM235.7 299.5h1.6v1.6h-1.6zM241.5 247.4h1.6v1.6h-1.6zM236.0 261.2h1.6v1.6h-1.6zM229.4 296.3h1.6v1.6h-1.6zM240.8 263.5h1.6v1.6h-1.6zM236.0 286.8h1.6v1.6h-1.6zM234.5 300.0h1.6v1.6h-1.6zM242.1 295.1h1.6v1.6h-1.6zM236.2 258.8h1.6v1.6h-1.6zM230.9 264.9h1.6v1.6h-1.6zM232.5 278.0h1.6v1.6h-1.6zM233.8 286.0h1.6v1.6h-1.6zM233.9 289.9h1.6v1.6h-1.6zM235.4 291.9h1.6v1.6h-1.6zM240.4 281.0h1.6v1.6h-1.6zM241.1 288.1h1.6v1.6h-1.6zM237.4 304.0h1.6v1.6h-1.6zM233.8 290.1h1.6v1.6h-1.6zM232.2 299.5h1.6v1.6h-1.6zM229.9 303.3h1.6v1.6h-1.6zM238.0 251.9h1.6v1.6h-1.6zM233.7 294.8h1.6v1.6h-1.6zM242.2 282.3h1.6v1.6h-1.6zM230.7 294.3h1.6v1.6h-1.6zM238.3 278.0h1.6v1.6h-1.6zM242.2 293.4h1.6v1.6h-1.6zM235.8 288.1h1.6v1.6h-1.6zM234.4 243.4h1.6v1.6h-1.6zM237.9 287.3h1.6v1.6h-1.6zM240.9 300.5h1.6v1.6h-1.6zM232.2 297.3h1.6v1.6h-1.6zM240.1 241.8h1.6v1.6h-1.6zM230.9 289.2h1.6v1.6h-1.6zM231.8 262.4h1.6v1.6h-1.6zM233.1 244.9h1.6v1.6h-1.6zM238.1 296.4h1.6v1.6h-1.6zM241.7 303.7h1.6v1.6h-1.6zM239.8 283.6h1.6v1.6h-1.6zM228.9 301.9h1.6v1.6h-1.6zM229.4 302.0h1.6v1.6h-1.6zM231.3 255.7h1.6v1.6h-1.6zM235.2 301.6h1.6v1.6h-1.6zM231.4 276.6h1.6v1.6h-1.6zM230.6 293.3h1.6v1.6h-1.6zM232.7 294.4h1.6v1.6h-1.6zM242.1 229.3h1.6v1.6h-1.6zM239.2 242.3h1.6v1.6h-1.6zM228.7 293.6h1.6v1.6h-1.6zM230.7 291.7h1.6v1.6h-1.6zM236.9 303.9h1.6v1.6h-1.6zM236.0 287.4h1.6v1.6h-1.6zM236.3 298.7h1.6v1.6h-1.6zM235.8 185.0h1.6v1.6h-1.6zM228.8 298.9h1.6v1.6h-1.6zM230.0 293.7h1.6v1.6h-1.6zM232.4 279.5h1.6v1.6h-1.6zM230.2 291.1h1.6v1.6h-1.6zM233.7 252.8h1.6v1.6h-1.6zM241.6 297.3h1.6v1.6h-1.6zM235.8 257.0h1.6v1.6h-1.6zM235.4 281.1h1.6v1.6h-1.6zM232.8 272.3h1.6v1.6h-1.6zM240.8 287.6h1.6v1.6h-1.6zM230.8 291.5h1.6v1.6h-1.6zM236.5 300.4h1.6v1.6h-1.6zM235.5 287.8h1.6v1.6h-1.6zM234.4 258.3h1.6v1.6h-1.6zM234.5 239.2h1.6v1.6h-1.6zM239.6 260.4h1.6v1.6h-1.6zM237.7 299.2h1.6v1.6h-1.6zM235.8 281.4h1.6v1.6h-1.6zM236.3 302.6h1.6v1.6h-1.6zM239.7 268.8h1.6v1.6h-1.6zM236.7 269.1h1.6v1.6h-1.6zM234.4 298.2h1.6v1.6h-1.6zM230.2 303.5h1.6v1.6h-1.6zM241.9 289.3h1.6v1.6h-1.6zM228.3 289.4h1.6v1.6h-1.6zM230.0 238.0h1.6v1.6h-1.6zM233.1 248.1h1.6v1.6h-1.6zM241.2 292.6h1.6v1.6h-1.6zM229.7 265.9h1.6v1.6h-1.6zM232.6 295.2h1.6v1.6h-1.6zM240.7 283.4h1.6v1.6h-1.6zM236.4 290.4h1.6v1.6h-1.6zM230.2 272.8h1.6v1.6h-1.6zM230.8 301.4h1.6v1.6h-1.6zM234.6 295.2h1.6v1.6h-1.6zM239.3 305.2h1.6v1.6h-1.6zM231.1 251.2h1.6v1.6h-1.6zM230.1 289.5h1.6v1.6h-1.6zM240.3 293.4h1.6v1.6h-1.6zM235.8 234.9h1.6v1.6h-1.6zM242.0 278.1h1.6v1.6h-1.6zM235.9 287.1h1.6v1.6h-1.6zM242.2 196.1h1.6v1.6h-1.6zM239.5 286.5h1.6v1.6h-1.6zM237.3 296.9h1.6v1.6h-1.6zM231.5 276.0h1.6v1.6h-1.6zM233.5 289.4h1.6v1.6h-1.6zM236.3 279.6h1.6v1.6h-1.6zM229.2 299.1h1.6v1.6h-1.6zM240.7 256.0h1.6v1.6h-1.6zM241.2 272.0h1.6v1.6h-1.6zM240.2 298.8h1.6v1.6h-1.6zM230.1 244.7h1.6v1.6h-1.6zM228.4 298.8h1.6v1.6h-1.6zM240.9 302.4h1.6v1.6h-1.6zM240.9 294.3h1.6v1.6h-1.6zM232.8 293.5h1.6v1.6h-1.6zM240.2 292.4h1.6v1.6h-1.6zM232.1 300.7h1.6v1.6h-1.6zM237.7 291.2h1.6v1.6h-1.6zM240.0 295.3h1.6v1.6h-1.6zM232.3 263.2h1.6v1.6h-1.6zM230.3 301.6h1.6v1.6h-1.6zM238.6 297.9h1.6v1.6h-1.6zM233.4 287.8h1.6v1.6h-1.6zM241.8 276.7h1.6v1.6h-1.6zM229.1 232.9h1.6v1.6h-1.6zM240.6 288.4h1.6v1.6h-1.6zM232.5 271.2h1.6v1.6h-1.6zM236.2 301.1h1.6v1.6h-1.6zM232.2 294.2h1.6v1.6h-1.6zM242.0 277.1h1.6v1.6h-1.6zM238.1 301.6h1.6v1.6h-1.6zM237.6 202.5h1.6v1.6h-1.6zM238.7 294.3h1.6v1.6h-1.6zM232.6 289.8h1.6v1.6h-1.6zM236.6 265.3h1.6v1.6h-1.6zM234.4 273.4h1.6v1.6h-1.6zM237.6 274.0h1.6v1.6h-1.6zM237.8 238.9h1.6v1.6h-1.6zM236.4 297.6h1.6v1.6h-1.6zM235.5 298.8h1.6v1.6h-1.6zM230.6 282.5h1.6v1.6h-1.6zM235.6 297.4h1.6v1.6h-1.6zM242.3 200.6h1.6v1.6h-1.6zM230.6 237.3h1.6v1.6h-1.6zM229.4 281.9h1.6v1.6h-1.6zM231.9 278.9h1.6v1.6h-1.6zM242.6 304.2h1.6v1.6h-1.6zM228.9 257.2h1.6v1.6h-1.6zM230.6 293.7h1.6v1.6h-1.6zM230.3 303.0h1.6v1.6h-1.6zM237.6 302.9h1.6v1.6h-1.6zM229.2 254.6h1.6v1.6h-1.6zM239.5 281.6h1.6v1.6h-1.6zM240.7 271.8h1.6v1.6h-1.6zM238.6 293.4h1.6v1.6h-1.6zM236.6 293.8h1.6v1.6h-1.6zM232.4 241.9h1.6v1.6h-1.6zM241.6 292.3h1.6v1.6h-1.6zM241.3 296.1h1.6v1.6h-1.6zM233.2 298.6h1.6v1.6h-1.6zM231.6 302.5h1.6v1.6h-1.6zM233.9 305.2h1.6v1.6h-1.6zM233.8 278.9h1.6v1.6h-1.6zM240.7 293.1h1.6v1.6h-1.6zM234.1 286.6h1.6v1.6h-1.6zM228.4 279.3h1.6v1.6h-1.6zM229.9 284.2h1.6v1.6h-1.6zM232.3 295.1h1.6v1.6h-1.6zM242.3 299.6h1.6v1.6h-1.6zM242.5 289.5h1.6v1.6h-1.6zM231.8 245.7h1.6v1.6h-1.6zM236.0 298.9h1.6v1.6h-1.6zM237.3 302.5h1.6v1.6h-1.6zM231.9 304.3h1.6v1.6h-1.6zM235.7 301.5h1.6v1.6h-1.6zM238.7 280.4h1.6v1.6h-1.6zM232.9 300.0h1.6v1.6h-1.6zM237.0 282.4h1.6v1.6h-1.6zM239.2 289.9h1.6v1.6h-1.6zM235.5 226.5h1.6v1.6h-1.6zM236.9 260.1h1.6v1.6h-1.6zM228.5 278.3h1.6v1.6h-1.6zM237.5 255.6h1.6v1.6h-1.6zM240.4 304.4h1.6v1.6h-1.6zM232.2 280.0h1.6v1.6h-1.6zM235.6 266.8h1.6v1.6h-1.6zM233.1 293.6h1.6v1.6h-1.6zM231.2 289.0h1.6v1.6h-1.6zM235.9 284.0h1.6v1.6h-1.6zM235.1 269.6h1.6v1.6h-1.6zM232.9 280.9h1.6v1.6h-1.6zM238.2 271.2h1.6v1.6h-1.6zM240.8 296.8h1.6v1.6h-1.6zM235.3 287.8h1.6v1.6h-1.6zM234.4 285.1h1.6v1.6h-1.6zM240.0 286.2h1.6v1.6h-1.6zM234.5 274.7h1.6v1.6h-1.6zM236.5 299.9h1.6v1.6h-1.6zM241.6 295.6h1.6v1.6h-1.6zM242.4 284.6h1.6v1.6h-1.6zM234.5 294.6h1.6v1.6h-1.6zM237.8 283.6h1.6v1.6h-1.6zM228.4 212.4h1.6v1.6h-1.6zM231.3 293.1h1.6v1.6h-1.6zM241.0 303.4h1.6v1.6h-1.6zM233.2 295.8h1.6v1.6h-1.6zM231.2 300.1h1.6v1.6h-1.6zM235.4 239.8h1.6v1.6h-1.6zM240.5 293.4h1.6v1.6h-1.6zM241.1 297.3h1.6v1.6h-1.6zM242.0 298.0h1.6v1.6h-1.6zM232.0 304.6h1.6v1.6h-1.6zM236.8 281.3h1.6v1.6h-1.6zM233.0 250.0h1.6v1.6h-1.6zM239.3 254.0h1.6v1.6h-1.6zM234.5 282.3h1.6v1.6h-1.6zM235.9 299.1h1.6v1.6h-1.6zM237.1 271.6h1.6v1.6h-1.6zM234.3 299.3h1.6v1.6h-1.6zM231.0 295.7h1.6v1.6h-1.6zM238.7 232.2h1.6v1.6h-1.6zM237.7 269.6h1.6v1.6h-1.6zM230.4 258.1h1.6v1.6h-1.6zM242.0 271.3h1.6v1.6h-1.6zM239.4 303.8h1.6v1.6h-1.6zM239.8 297.3h1.6v1.6h-1.6zM231.0 288.5h1.6v1.6h-1.6zM238.6 224.5h1.6v1.6h-1.6zM234.9 207.5h1.6v1.6h-1.6zM231.6 298.0h1.6v1.6h-1.6zM239.0 297.4h1.6v1.6h-1.6zM237.4 286.2h1.6v1.6h-1.6zM234.2 295.2h1.6v1.6h-1.6zM229.4 254.2h1.6v1.6h-1.6zM236.1 289.6h1.6v1.6h-1.6zM239.1 233.0h1.6v1.6h-1.6zM232.5 267.9h1.6v1.6h-1.6zM239.5 265.5h1.6v1.6h-1.6zM234.7 267.0h1.6v1.6h-1.6zM240.3 284.1h1.6v1.6h-1.6zM232.5 290.5h1.6v1.6h-1.6zM237.8 304.8h1.6v1.6h-1.6zM232.0 265.4h1.6v1.6h-1.6zM233.1 296.2h1.6v1.6h-1.6zM236.8 293.8h1.6v1.6h-1.6zM229.1 265.1h1.6v1.6h-1.6zM230.3 260.8h1.6v1.6h-1.6zM241.5 296.9h1.6v1.6h-1.6zM230.0 279.0h1.6v1.6h-1.6zM230.4 259.5h1.6v1.6h-1.6zM233.3 225.4h1.6v1.6h-1.6zM239.5 261.2h1.6v1.6h-1.6zM233.8 304.9h1.6v1.6h-1.6zM229.3 248.2h1.6v1.6h-1.6zM232.5 287.6h1.6v1.6h-1.6zM241.8 296.8h1.6v1.6h-1.6zM238.4 289.5h1.6v1.6h-1.6zM231.7 283.5h1.6v1.6h-1.6zM239.4 255.9h1.6v1.6h-1.6zM235.7 222.2h1.6v1.6h-1.6zM236.7 299.4h1.6v1.6h-1.6zM230.0 231.5h1.6v1.6h-1.6zM238.8 297.6h1.6v1.6h-1.6zM239.2 276.0h1.6v1.6h-1.6zM239.2 304.8h1.6v1.6h-1.6zM228.4 303.0h1.6v1.6h-1.6zM235.7 269.1h1.6v1.6h-1.6zM241.5 254.1h1.6v1.6h-1.6zM239.3 247.7h1.6v1.6h-1.6zM232.3 293.3h1.6v1.6h-1.6zM233.6 271.0h1.6v1.6h-1.6zM235.5 277.1h1.6v1.6h-1.6zM228.8 279.2h1.6v1.6h-1.6zM230.3 288.7h1.6v1.6h-1.6zM229.7 222.8h1.6v1.6h-1.6zM237.1 304.8h1.6v1.6h-1.6zM240.6 287.7h1.6v1.6h-1.6zM236.4 282.1h1.6v1.6h-1.6zM230.9 289.0h1.6v1.6h-1.6zM231.2 281.3h1.6v1.6h-1.6zM231.6 280.9h1.6v1.6h-1.6zM236.3 262.4h1.6v1.6h-1.6zM228.7 295.8h1.6v1.6h-1.6zM233.3 295.0h1.6v1.6h-1.6zM240.0 259.7h1.6v1.6h-1.6zM238.0 246.8h1.6v1.6h-1.6zM239.2 280.8h1.6v1.6h-1.6zM241.7 264.8h1.6v1.6h-1.6zM234.1 284.2h1.6v1.6h-1.6zM239.4 284.0h1.6v1.6h-1.6zM231.6 305.2h1.6v1.6h-1.6zM239.5 237.8h1.6v1.6h-1.6zM240.2 266.7h1.6v1.6h-1.6zM237.9 299.4h1.6v1.6h-1.6zM237.7 276.2h1.6v1.6h-1.6zM240.6 305.2h1.6v1.6h-1.6zM234.0 264.2h1.6v1.6h-1.6zM237.6 287.8h1.6v1.6h-1.6zM240.1 295.5h1.6v1.6h-1.6zM228.7 277.1h1.6v1.6h-1.6zM242.2 304.4h1.6v1.6h-1.6zM238.4 294.4h1.6v1.6h-1.6zM239.9 303.5h1.6v1.6h-1.6zM236.5 300.9h1.6v1.6h-1.6zM240.5 303.1h1.6v1.6h-1.6zM241.9 263.7h1.6v1.6h-1.6zM237.9 303.6h1.6v1.6h-1.6zM232.0 222.0h1.6v1.6h-1.6zM235.0 275.2h1.6v1.6h-1.6zM239.6 294.2h1.6v1.6h-1.6zM236.9 294.8h1.6v1.6h-1.6zM235.2 302.5h1.6v1.6h-1.6zM234.8 298.0h1.6v1.6h-1.6zM242.5 302.2h1.6v1.6h-1.6zM237.8 275.9h1.6v1.6h-1.6zM234.8 239.3h1.6v1.6h-1.6zM242.3 292.1h1.6v1.6h-1.6zM228.2 290.7h1.6v1.6h-1.6zM240.3 294.6h1.6v1.6h-1.6zM231.7 293.8h1.6v1.6h-1.6zM238.4 302.5h1.6v1.6h-1.6zM231.4 302.2h1.6v1.6h-1.6zM233.4 250.9h1.6v1.6h-1.6zM231.5 301.3h1.6v1.6h-1.6zM236.3 298.4h1.6v1.6h-1.6zM237.9 262.0h1.6v1.6h-1.6zM236.4 283.6h1.6v1.6h-1.6zM228.7 292.1h1.6v1.6h-1.6zM240.9 265.5h1.6v1.6h-1.6zM242.3 285.4h1.6v1.6h-1.6zM240.2 295.2h1.6v1.6h-1.6zM229.6 278.0h1.6v1.6h-1.6zM234.3 300.2h1.6v1.6h-1.6zM236.3 294.4h1.6v1.6h-1.6zM238.3 298.8h1.6v1.6h-1.6zM230.2 292.5h1.6v1.6h-1.6zM239.4 274.1h1.6v1.6h-1.6zM236.8 288.0h1.6v1.6h-1.6zM231.6 266.7h1.6v1.6h-1.6zM240.8 296.1h1.6v1.6h-1.6zM239.1 294.5h1.6v1.6h-1.6zM239.5 304.5h1.6v1.6h-1.6zM228.2 210.6h1.6v1.6h-1.6zM235.7 297.1h1.6v1.6h-1.6zM234.9 293.6h1.6v1.6h-1.6zM237.1 290.4h1.6v1.6h-1.6zM234.0 286.3h1.6v1.6h-1.6zM240.2 299.2h1.6v1.6h-1.6zM231.3 285.3h1.6v1.6h-1.6zM237.9 295.9h1.6v1.6h-1.6zM235.6 282.6h1.6v1.6h-1.6zM235.4 295.4h1.6v1.6h-1.6zM234.8 266.1h1.6v1.6h-1.6zM232.8 268.3h1.6v1.6h-1.6zM238.0 276.7h1.6v1.6h-1.6zM232.6 295.6h1.6v1.6h-1.6zM236.1 297.7h1.6v1.6h-1.6zM231.1 254.0h1.6v1.6h-1.6zM240.1 300.3h1.6v1.6h-1.6zM230.5 287.7h1.6v1.6h-1.6zM240.5 295.0h1.6v1.6h-1.6zM232.9 271.4h1.6v1.6h-1.6zM240.5 303.0h1.6v1.6h-1.6zM232.7 164.0h1.6v1.6h-1.6zM237.7 302.7h1.6v1.6h-1.6zM234.0 285.2h1.6v1.6h-1.6zM242.2 286.1h1.6v1.6h-1.6zM238.5 274.5h1.6v1.6h-1.6zM236.0 256.4h1.6v1.6h-1.6zM241.0 304.2h1.6v1.6h-1.6zM257.3 270.1h1.6v1.6h-1.6zM257.3 276.4h1.6v1.6h-1.6zM248.9 281.9h1.6v1.6h-1.6zM257.0 292.1h1.6v1.6h-1.6zM250.3 180.7h1.6v1.6h-1.6zM259.7 289.1h1.6v1.6h-1.6zM252.3 277.2h1.6v1.6h-1.6zM252.8 289.1h1.6v1.6h-1.6zM249.6 292.0h1.6v1.6h-1.6zM257.2 285.1h1.6v1.6h-1.6zM260.2 303.6h1.6v1.6h-1.6zM256.0 242.0h1.6v1.6h-1.6zM256.2 263.2h1.6v1.6h-1.6zM252.6 294.4h1.6v1.6h-1.6zM258.2 287.6h1.6v1.6h-1.6zM254.8 301.2h1.6v1.6h-1.6zM258.4 277.7h1.6v1.6h-1.6zM260.3 279.7h1.6v1.6h-1.6zM260.9 282.7h1.6v1.6h-1.6zM252.9 294.0h1.6v1.6h-1.6zM256.2 285.9h1.6v1.6h-1.6zM257.5 276.0h1.6v1.6h-1.6zM256.5 225.1h1.6v1.6h-1.6zM248.8 275.4h1.6v1.6h-1.6zM249.4 291.0h1.6v1.6h-1.6zM260.2 226.0h1.6v1.6h-1.6zM260.8 301.3h1.6v1.6h-1.6zM254.8 300.5h1.6v1.6h-1.6zM257.3 245.7h1.6v1.6h-1.6zM253.6 294.1h1.6v1.6h-1.6zM251.1 303.4h1.6v1.6h-1.6zM250.1 291.5h1.6v1.6h-1.6zM253.3 266.3h1.6v1.6h-1.6zM252.9 289.2h1.6v1.6h-1.6zM249.5 304.5h1.6v1.6h-1.6zM259.1 263.8h1.6v1.6h-1.6zM249.3 262.7h1.6v1.6h-1.6zM256.2 287.4h1.6v1.6h-1.6zM251.2 295.8h1.6v1.6h-1.6zM260.2 289.4h1.6v1.6h-1.6zM258.9 295.9h1.6v1.6h-1.6zM251.9 301.3h1.6v1.6h-1.6zM258.3 278.5h1.6v1.6h-1.6zM251.6 290.2h1.6v1.6h-1.6zM256.8 288.6h1.6v1.6h-1.6zM261.7 299.7h1.6v1.6h-1.6zM251.0 280.0h1.6v1.6h-1.6zM258.3 304.2h1.6v1.6h-1.6zM254.1 285.2h1.6v1.6h-1.6zM260.9 282.4h1.6v1.6h-1.6zM259.4 297.8h1.6v1.6h-1.6zM251.0 228.5h1.6v1.6h-1.6zM250.7 260.9h1.6v1.6h-1.6zM258.9 302.3h1.6v1.6h-1.6zM253.8 279.5h1.6v1.6h-1.6zM251.9 304.3h1.6v1.6h-1.6zM260.2 285.2h1.6v1.6h-1.6zM256.3 298.8h1.6v1.6h-1.6zM257.4 277.0h1.6v1.6h-1.6zM256.8 282.4h1.6v1.6h-1.6zM259.1 299.0h1.6v1.6h-1.6zM256.8 275.4h1.6v1.6h-1.6zM253.2 274.4h1.6v1.6h-1.6zM257.5 297.8h1.6v1.6h-1.6zM255.2 271.2h1.6v1.6h-1.6zM249.6 291.2h1.6v1.6h-1.6zM258.7 259.3h1.6v1.6h-1.6zM261.6 294.9h1.6v1.6h-1.6zM253.3 301.6h1.6v1.6h-1.6zM253.6 285.9h1.6v1.6h-1.6zM249.0 289.4h1.6v1.6h-1.6zM255.6 299.1h1.6v1.6h-1.6zM255.4 287.2h1.6v1.6h-1.6zM251.0 254.0h1.6v1.6h-1.6zM261.3 304.7h1.6v1.6h-1.6zM251.7 214.1h1.6v1.6h-1.6zM248.6 303.6h1.6v1.6h-1.6zM252.1 292.9h1.6v1.6h-1.6zM249.5 298.6h1.6v1.6h-1.6zM250.1 272.9h1.6v1.6h-1.6zM256.7 216.1h1.6v1.6h-1.6zM252.4 290.3h1.6v1.6h-1.6zM257.6 302.7h1.6v1.6h-1.6zM256.7 270.7h1.6v1.6h-1.6zM258.8 283.6h1.6v1.6h-1.6zM251.3 300.4h1.6v1.6h-1.6zM257.6 293.9h1.6v1.6h-1.6zM253.8 301.8h1.6v1.6h-1.6zM251.0 304.9h1.6v1.6h-1.6zM258.9 279.0h1.6v1.6h-1.6zM255.9 303.8h1.6v1.6h-1.6zM256.4 300.5h1.6v1.6h-1.6zM261.1 297.9h1.6v1.6h-1.6zM251.6 286.6h1.6v1.6h-1.6zM259.1 298.3h1.6v1.6h-1.6zM257.1 279.0h1.6v1.6h-1.6zM256.8 266.3h1.6v1.6h-1.6zM254.5 289.0h1.6v1.6h-1.6zM250.4 293.1h1.6v1.6h-1.6zM256.6 300.2h1.6v1.6h-1.6zM259.8 302.0h1.6v1.6h-1.6zM260.2 256.3h1.6v1.6h-1.6zM260.0 304.7h1.6v1.6h-1.6zM254.5 272.6h1.6v1.6h-1.6zM256.9 273.9h1.6v1.6h-1.6zM254.4 280.8h1.6v1.6h-1.6zM254.9 296.1h1.6v1.6h-1.6zM250.5 269.4h1.6v1.6h-1.6zM250.0 295.2h1.6v1.6h-1.6zM250.2 301.0h1.6v1.6h-1.6zM254.4 302.9h1.6v1.6h-1.6zM255.6 303.0h1.6v1.6h-1.6zM254.3 302.4h1.6v1.6h-1.6zM251.3 304.6h1.6v1.6h-1.6zM253.2 295.2h1.6v1.6h-1.6zM250.0 290.0h1.6v1.6h-1.6zM255.7 298.7h1.6v1.6h-1.6zM259.0 303.6h1.6v1.6h-1.6zM255.3 296.2h1.6v1.6h-1.6zM261.2 302.1h1.6v1.6h-1.6zM259.7 284.0h1.6v1.6h-1.6zM251.4 300.3h1.6v1.6h-1.6zM249.6 272.7h1.6v1.6h-1.6zM253.1 293.1h1.6v1.6h-1.6zM252.8 303.6h1.6v1.6h-1.6zM254.5 288.3h1.6v1.6h-1.6zM252.5 285.6h1.6v1.6h-1.6zM254.4 295.8h1.6v1.6h-1.6zM259.0 296.6h1.6v1.6h-1.6zM259.7 281.3h1.6v1.6h-1.6zM254.8 302.6h1.6v1.6h-1.6zM259.1 302.5h1.6v1.6h-1.6zM249.9 301.9h1.6v1.6h-1.6zM259.4 284.9h1.6v1.6h-1.6zM260.7 303.9h1.6v1.6h-1.6zM251.2 246.0h1.6v1.6h-1.6zM252.9 294.6h1.6v1.6h-1.6zM253.0 282.6h1.6v1.6h-1.6zM250.8 300.6h1.6v1.6h-1.6zM253.8 237.0h1.6v1.6h-1.6zM255.2 278.8h1.6v1.6h-1.6zM261.0 291.5h1.6v1.6h-1.6zM260.3 252.7h1.6v1.6h-1.6zM249.8 303.7h1.6v1.6h-1.6zM248.7 249.0h1.6v1.6h-1.6zM252.4 299.5h1.6v1.6h-1.6zM251.0 303.2h1.6v1.6h-1.6zM260.1 280.7h1.6v1.6h-1.6zM249.8 277.9h1.6v1.6h-1.6zM256.2 227.8h1.6v1.6h-1.6zM255.1 290.3h1.6v1.6h-1.6zM261.5 303.4h1.6v1.6h-1.6zM261.4 252.6h1.6v1.6h-1.6zM248.8 266.3h1.6v1.6h-1.6zM256.6 305.2h1.6v1.6h-1.6zM261.0 296.1h1.6v1.6h-1.6zM260.9 280.2h1.6v1.6h-1.6zM260.2 262.5h1.6v1.6h-1.6zM249.0 303.6h1.6v1.6h-1.6zM261.5 190.3h1.6v1.6h-1.6zM250.6 292.7h1.6v1.6h-1.6zM255.1 245.0h1.6v1.6h-1.6zM257.8 302.2h1.6v1.6h-1.6zM254.1 260.4h1.6v1.6h-1.6zM249.3 292.4h1.6v1.6h-1.6zM251.7 299.6h1.6v1.6h-1.6zM258.1 209.9h1.6v1.6h-1.6zM254.7 301.7h1.6v1.6h-1.6zM260.4 294.1h1.6v1.6h-1.6zM256.1 292.8h1.6v1.6h-1.6zM259.7 257.3h1.6v1.6h-1.6zM251.3 273.4h1.6v1.6h-1.6zM252.6 298.1h1.6v1.6h-1.6zM251.1 286.7h1.6v1.6h-1.6zM255.7 268.7h1.6v1.6h-1.6zM251.6 295.2h1.6v1.6h-1.6zM258.3 300.6h1.6v1.6h-1.6zM254.8 281.6h1.6v1.6h-1.6zM256.8 289.0h1.6v1.6h-1.6zM248.6 304.8h1.6v1.6h-1.6zM260.4 270.0h1.6v1.6h-1.6zM255.3 304.4h1.6v1.6h-1.6zM259.3 261.7h1.6v1.6h-1.6zM259.0 253.0h1.6v1.6h-1.6zM250.5 289.1h1.6v1.6h-1.6zM250.7 290.5h1.6v1.6h-1.6zM252.6 224.8h1.6v1.6h-1.6zM252.9 291.2h1.6v1.6h-1.6zM257.2 303.8h1.6v1.6h-1.6zM249.3 296.9h1.6v1.6h-1.6zM252.8 298.9h1.6v1.6h-1.6zM253.9 277.7h1.6v1.6h-1.6zM256.5 295.6h1.6v1.6h-1.6zM251.3 265.5h1.6v1.6h-1.6zM250.8 263.7h1.6v1.6h-1.6zM260.0 300.4h1.6v1.6h-1.6zM251.1 290.2h1.6v1.6h-1.6zM260.2 296.4h1.6v1.6h-1.6zM253.9 299.7h1.6v1.6h-1.6zM252.6 299.0h1.6v1.6h-1.6zM260.4 298.0h1.6v1.6h-1.6zM260.7 284.4h1.6v1.6h-1.6zM252.7 274.9h1.6v1.6h-1.6zM259.8 292.2h1.6v1.6h-1.6zM259.4 303.4h1.6v1.6h-1.6zM251.5 275.6h1.6v1.6h-1.6zM259.1 296.0h1.6v1.6h-1.6zM257.1 286.4h1.6v1.6h-1.6zM258.2 286.2h1.6v1.6h-1.6zM259.6 248.7h1.6v1.6h-1.6zM251.9 294.8h1.6v1.6h-1.6zM249.0 274.3h1.6v1.6h-1.6zM255.8 271.1h1.6v1.6h-1.6zM252.3 299.7h1.6v1.6h-1.6zM261.2 298.8h1.6v1.6h-1.6zM250.1 305.0h1.6v1.6h-1.6zM253.8 295.8h1.6v1.6h-1.6zM255.1 282.4h1.6v1.6h-1.6zM256.2 284.5h1.6v1.6h-1.6zM249.3 268.3h1.6v1.6h-1.6zM260.4 202.6h1.6v1.6h-1.6zM256.1 233.4h1.6v1.6h-1.6zM254.6 294.2h1.6v1.6h-1.6zM255.5 295.4h1.6v1.6h-1.6zM258.4 239.2h1.6v1.6h-1.6zM251.9 305.2h1.6v1.6h-1.6zM249.3 297.6h1.6v1.6h-1.6zM250.5 303.8h1.6v1.6h-1.6zM256.0 304.5h1.6v1.6h-1.6zM254.2 303.8h1.6v1.6h-1.6zM258.6 295.0h1.6v1.6h-1.6zM257.5 292.5h1.6v1.6h-1.6zM253.5 284.4h1.6v1.6h-1.6zM254.5 214.0h1.6v1.6h-1.6zM259.6 256.5h1.6v1.6h-1.6zM250.9 257.9h1.6v1.6h-1.6zM257.3 273.8h1.6v1.6h-1.6zM260.7 301.7h1.6v1.6h-1.6zM260.4 254.9h1.6v1.6h-1.6zM259.3 282.7h1.6v1.6h-1.6zM257.0 300.8h1.6v1.6h-1.6zM259.0 303.2h1.6v1.6h-1.6zM252.4 272.4h1.6v1.6h-1.6zM259.0 248.8h1.6v1.6h-1.6zM261.4 304.4h1.6v1.6h-1.6zM259.8 302.0h1.6v1.6h-1.6zM258.3 280.6h1.6v1.6h-1.6zM257.6 292.4h1.6v1.6h-1.6zM248.7 215.6h1.6v1.6h-1.6zM257.6 285.8h1.6v1.6h-1.6zM259.7 289.9h1.6v1.6h-1.6zM255.9 268.0h1.6v1.6h-1.6zM256.6 296.4h1.6v1.6h-1.6zM256.8 300.4h1.6v1.6h-1.6zM252.3 283.9h1.6v1.6h-1.6zM255.3 291.3h1.6v1.6h-1.6zM259.4 223.5h1.6v1.6h-1.6zM255.4 261.9h1.6v1.6h-1.6zM255.5 294.9h1.6v1.6h-1.6zM260.0 303.8h1.6v1.6h-1.6zM259.0 259.7h1.6v1.6h-1.6zM259.3 286.0h1.6v1.6h-1.6zM256.4 288.4h1.6v1.6h-1.6zM253.3 299.6h1.6v1.6h-1.6zM254.5 282.5h1.6v1.6h-1.6zM249.4 279.8h1.6v1.6h-1.6zM249.7 270.6h1.6v1.6h-1.6zM253.9 295.6h1.6v1.6h-1.6zM251.8 299.0h1.6v1.6h-1.6zM250.1 272.7h1.6v1.6h-1.6zM250.2 288.6h1.6v1.6h-1.6zM259.6 281.1h1.6v1.6h-1.6zM260.7 277.5h1.6v1.6h-1.6zM258.7 302.4h1.6v1.6h-1.6zM259.2 246.8h1.6v1.6h-1.6zM256.7 301.3h1.6v1.6h-1.6zM251.2 253.4h1.6v1.6h-1.6zM249.8 282.5h1.6v1.6h-1.6zM252.5 247.9h1.6v1.6h-1.6zM254.2 278.9h1.6v1.6h-1.6zM255.1 297.1h1.6v1.6h-1.6zM255.0 296.6h1.6v1.6h-1.6zM256.7 264.8h1.6v1.6h-1.6zM256.4 305.1h1.6v1.6h-1.6zM251.6 292.4h1.6v1.6h-1.6zM259.6 301.0h1.6v1.6h-1.6zM251.3 275.1h1.6v1.6h-1.6zM252.7 251.9h1.6v1.6h-1.6zM259.1 203.5h1.6v1.6h-1.6zM248.8 283.8h1.6v1.6h-1.6zM261.0 295.8h1.6v1.6h-1.6zM259.5 280.4h1.6v1.6h-1.6zM257.8 292.5h1.6v1.6h-1.6zM249.8 241.0h1.6v1.6h-1.6zM253.0 302.2h1.6v1.6h-1.6zM250.0 264.9h1.6v1.6h-1.6zM253.5 293.4h1.6v1.6h-1.6zM248.7 280.9h1.6v1.6h-1.6zM256.7 243.9h1.6v1.6h-1.6zM256.4 262.5h1.6v1.6h-1.6zM259.5 259.2h1.6v1.6h-1.6zM256.1 278.9h1.6v1.6h-1.6zM251.9 265.2h1.6v1.6h-1.6zM261.2 296.2h1.6v1.6h-1.6zM250.5 234.4h1.6v1.6h-1.6zM250.0 257.2h1.6v1.6h-1.6zM252.6 299.3h1.6v1.6h-1.6zM260.4 292.3h1.6v1.6h-1.6zM261.7 287.1h1.6v1.6h-1.6zM252.8 292.3h1.6v1.6h-1.6zM259.6 282.7h1.6v1.6h-1.6zM259.2 280.5h1.6v1.6h-1.6zM258.9 268.2h1.6v1.6h-1.6zM249.0 299.1h1.6v1.6h-1.6zM250.0 288.7h1.6v1.6h-1.6zM254.0 292.4h1.6v1.6h-1.6zM258.5 299.7h1.6v1.6h-1.6zM253.7 270.7h1.6v1.6h-1.6zM257.7 258.3h1.6v1.6h-1.6zM259.2 301.8h1.6v1.6h-1.6zM261.2 294.0h1.6v1.6h-1.6zM251.2 277.5h1.6v1.6h-1.6zM253.2 278.8h1.6v1.6h-1.6zM250.7 293.6h1.6v1.6h-1.6zM250.4 300.4h1.6v1.6h-1.6zM259.2 295.8h1.6v1.6h-1.6zM249.2 280.2h1.6v1.6h-1.6zM260.1 265.6h1.6v1.6h-1.6zM253.8 267.1h1.6v1.6h-1.6zM256.7 260.5h1.6v1.6h-1.6zM252.9 298.4h1.6v1.6h-1.6zM258.1 303.1h1.6v1.6h-1.6zM250.6 296.7h1.6v1.6h-1.6zM256.1 250.4h1.6v1.6h-1.6zM251.8 286.6h1.6v1.6h-1.6zM258.6 285.3h1.6v1.6h-1.6zM259.2 299.8h1.6v1.6h-1.6zM251.9 298.3h1.6v1.6h-1.6zM253.5 297.2h1.6v1.6h-1.6zM257.3 267.0h1.6v1.6h-1.6zM253.9 296.4h1.6v1.6h-1.6zM249.1 297.5h1.6v1.6h-1.6zM250.5 285.8h1.6v1.6h-1.6zM258.7 268.2h1.6v1.6h-1.6zM251.6 293.1h1.6v1.6h-1.6zM254.6 271.9h1.6v1.6h-1.6zM256.8 301.3h1.6v1.6h-1.6zM257.6 287.6h1.6v1.6h-1.6zM251.4 287.4h1.6v1.6h-1.6zM250.4 304.5h1.6v1.6h-1.6zM258.8 270.9h1.6v1.6h-1.6zM251.4 272.3h1.6v1.6h-1.6zM253.5 297.6h1.6v1.6h-1.6zM259.5 233.0h1.6v1.6h-1.6zM250.7 269.1h1.6v1.6h-1.6zM250.0 301.6h1.6v1.6h-1.6zM252.4 197.9h1.6v1.6h-1.6zM248.7 264.5h1.6v1.6h-1.6zM260.9 271.7h1.6v1.6h-1.6zM251.9 286.0h1.6v1.6h-1.6zM252.3 276.0h1.6v1.6h-1.6zM257.1 294.4h1.6v1.6h-1.6zM249.6 253.6h1.6v1.6h-1.6zM261.5 275.8h1.6v1.6h-1.6zM253.1 304.4h1.6v1.6h-1.6zM261.5 293.7h1.6v1.6h-1.6zM251.6 297.1h1.6v1.6h-1.6zM260.3 249.1h1.6v1.6h-1.6zM250.1 302.6h1.6v1.6h-1.6zM249.0 284.0h1.6v1.6h-1.6zM251.5 284.5h1.6v1.6h-1.6zM255.5 300.9h1.6v1.6h-1.6zM250.8 273.6h1.6v1.6h-1.6zM257.1 281.5h1.6v1.6h-1.6zM260.8 304.6h1.6v1.6h-1.6zM255.1 255.4h1.6v1.6h-1.6zM259.1 296.7h1.6v1.6h-1.6zM249.5 276.2h1.6v1.6h-1.6zM255.1 291.5h1.6v1.6h-1.6zM261.1 270.7h1.6v1.6h-1.6zM254.7 277.0h1.6v1.6h-1.6zM249.4 301.9h1.6v1.6h-1.6zM257.9 294.0h1.6v1.6h-1.6zM249.1 289.4h1.6v1.6h-1.6zM249.2 262.7h1.6v1.6h-1.6zM254.6 277.3h1.6v1.6h-1.6zM249.2 286.4h1.6v1.6h-1.6zM252.9 279.5h1.6v1.6h-1.6zM251.7 299.5h1.6v1.6h-1.6zM258.7 296.2h1.6v1.6h-1.6zM253.6 270.2h1.6v1.6h-1.6zM255.7 281.2h1.6v1.6h-1.6zM250.5 298.2h1.6v1.6h-1.6zM249.8 298.3h1.6v1.6h-1.6zM253.4 276.6h1.6v1.6h-1.6zM249.3 204.4h1.6v1.6h-1.6zM258.6 299.2h1.6v1.6h-1.6zM257.7 256.8h1.6v1.6h-1.6zM249.8 301.2h1.6v1.6h-1.6zM256.8 296.4h1.6v1.6h-1.6zM258.9 286.8h1.6v1.6h-1.6zM260.6 284.4h1.6v1.6h-1.6zM251.5 278.6h1.6v1.6h-1.6zM250.0 302.4h1.6v1.6h-1.6zM258.3 297.7h1.6v1.6h-1.6zM251.0 300.7h1.6v1.6h-1.6zM248.7 304.5h1.6v1.6h-1.6zM251.2 303.6h1.6v1.6h-1.6zM254.1 276.4h1.6v1.6h-1.6zM255.4 229.5h1.6v1.6h-1.6zM250.7 280.4h1.6v1.6h-1.6zM249.5 285.9h1.6v1.6h-1.6zM257.7 287.6h1.6v1.6h-1.6zM253.2 291.2h1.6v1.6h-1.6zM251.7 288.2h1.6v1.6h-1.6zM253.9 229.8h1.6v1.6h-1.6zM252.3 276.6h1.6v1.6h-1.6zM260.1 287.3h1.6v1.6h-1.6zM250.7 280.8h1.6v1.6h-1.6zM252.8 293.3h1.6v1.6h-1.6zM250.2 299.5h1.6v1.6h-1.6zM251.4 297.6h1.6v1.6h-1.6zM261.2 271.9h1.6v1.6h-1.6zM258.1 285.4h1.6v1.6h-1.6zM258.4 280.4h1.6v1.6h-1.6zM251.3 301.7h1.6v1.6h-1.6zM255.2 303.0h1.6v1.6h-1.6zM252.2 304.8h1.6v1.6h-1.6zM250.1 303.3h1.6v1.6h-1.6zM249.7 273.8h1.6v1.6h-1.6zM257.4 130.0h1.6v1.6h-1.6zM251.3 278.8h1.6v1.6h-1.6zM255.5 280.9h1.6v1.6h-1.6zM257.1 279.0h1.6v1.6h-1.6zM251.1 245.0h1.6v1.6h-1.6zM249.8 295.2h1.6v1.6h-1.6zM260.4 301.2h1.6v1.6h-1.6zM259.9 302.4h1.6v1.6h-1.6zM251.2 278.6h1.6v1.6h-1.6zM249.1 282.4h1.6v1.6h-1.6zM254.1 229.8h1.6v1.6h-1.6zM251.3 288.8h1.6v1.6h-1.6zM260.2 275.4h1.6v1.6h-1.6zM255.6 282.5h1.6v1.6h-1.6zM260.7 258.0h1.6v1.6h-1.6zM250.5 298.2h1.6v1.6h-1.6zM254.4 280.8h1.6v1.6h-1.6zM259.5 266.4h1.6v1.6h-1.6zM250.0 275.0h1.6v1.6h-1.6zM250.1 295.1h1.6v1.6h-1.6zM253.7 279.8h1.6v1.6h-1.6zM259.7 272.1h1.6v1.6h-1.6zM250.1 296.3h1.6v1.6h-1.6zM259.3 245.6h1.6v1.6h-1.6zM254.7 273.9h1.6v1.6h-1.6zM255.7 298.3h1.6v1.6h-1.6zM260.2 301.1h1.6v1.6h-1.6zM257.2 252.8h1.6v1.6h-1.6zM257.0 258.2h1.6v1.6h-1.6zM251.1 302.1h1.6v1.6h-1.6zM254.9 305.0h1.6v1.6h-1.6zM251.9 231.3h1.6v1.6h-1.6zM252.2 303.4h1.6v1.6h-1.6zM256.8 293.1h1.6v1.6h-1.6zM258.1 280.2h1.6v1.6h-1.6zM255.3 280.1h1.6v1.6h-1.6zM256.3 260.3h1.6v1.6h-1.6zM253.3 278.6h1.6v1.6h-1.6zM257.0 263.4h1.6v1.6h-1.6zM251.0 266.5h1.6v1.6h-1.6zM254.9 264.3h1.6v1.6h-1.6zM249.7 292.6h1.6v1.6h-1.6zM255.8 284.6h1.6v1.6h-1.6zM261.5 285.0h1.6v1.6h-1.6zM254.1 291.7h1.6v1.6h-1.6zM257.6 286.5h1.6v1.6h-1.6zM254.1 298.8h1.6v1.6h-1.6zM249.0 288.5h1.6v1.6h-1.6zM250.2 289.4h1.6v1.6h-1.6zM257.7 283.1h1.6v1.6h-1.6zM257.5 267.5h1.6v1.6h-1.6zM249.4 258.1h1.6v1.6h-1.6zM255.9 295.5h1.6v1.6h-1.6zM256.5 222.8h1.6v1.6h-1.6zM255.5 258.6h1.6v1.6h-1.6zM258.1 302.3h1.6v1.6h-1.6zM258.6 280.5h1.6v1.6h-1.6zM257.8 291.7h1.6v1.6h-1.6zM258.6 282.4h1.6v1.6h-1.6zM250.1 276.2h1.6v1.6h-1.6zM252.1 303.1h1.6v1.6h-1.6zM258.3 276.1h1.6v1.6h-1.6zM252.5 294.8h1.6v1.6h-1.6zM252.7 287.8h1.6v1.6h-1.6zM259.1 212.8h1.6v1.6h-1.6zM260.6 280.7h1.6v1.6h-1.6zM258.5 305.0h1.6v1.6h-1.6zM249.7 300.8h1.6v1.6h-1.6zM258.4 294.9h1.6v1.6h-1.6zM261.0 283.1h1.6v1.6h-1.6zM258.8 303.4h1.6v1.6h-1.6zM253.4 276.4h1.6v1.6h-1.6zM254.0 302.5h1.6v1.6h-1.6zM260.1 287.8h1.6v1.6h-1.6zM252.0 305.1h1.6v1.6h-1.6zM256.4 288.6h1.6v1.6h-1.6zM258.4 269.3h1.6v1.6h-1.6zM255.4 289.1h1.6v1.6h-1.6zM259.0 287.0h1.6v1.6h-1.6zM251.7 259.5h1.6v1.6h-1.6zM248.8 287.0h1.6v1.6h-1.6zM255.6 288.9h1.6v1.6h-1.6zM249.3 304.9h1.6v1.6h-1.6zM253.7 271.5h1.6v1.6h-1.6zM256.9 298.1h1.6v1.6h-1.6zM258.8 304.1h1.6v1.6h-1.6zM259.1 289.5h1.6v1.6h-1.6zM252.6 281.7h1.6v1.6h-1.6zM259.8 257.6h1.6v1.6h-1.6zM250.8 286.0h1.6v1.6h-1.6zM252.2 295.8h1.6v1.6h-1.6zM257.3 301.4h1.6v1.6h-1.6zM250.5 139.2h1.6v1.6h-1.6zM249.3 294.5h1.6v1.6h-1.6zM252.1 176.0h1.6v1.6h-1.6zM251.2 296.1h1.6v1.6h-1.6zM250.0 284.1h1.6v1.6h-1.6zM250.7 300.3h1.6v1.6h-1.6zM257.9 304.4h1.6v1.6h-1.6zM257.6 298.4h1.6v1.6h-1.6zM255.5 268.8h1.6v1.6h-1.6zM256.8 273.9h1.6v1.6h-1.6zM251.6 288.8h1.6v1.6h-1.6zM256.2 226.7h1.6v1.6h-1.6zM248.8 301.9h1.6v1.6h-1.6zM261.2 284.1h1.6v1.6h-1.6zM250.6 292.2h1.6v1.6h-1.6zM258.7 269.8h1.6v1.6h-1.6zM256.9 261.7h1.6v1.6h-1.6zM258.9 303.5h1.6v1.6h-1.6zM258.9 300.4h1.6v1.6h-1.6zM258.9 300.6h1.6v1.6h-1.6zM250.2 262.0h1.6v1.6h-1.6zM255.7 296.1h1.6v1.6h-1.6zM255.0 299.2h1.6v1.6h-1.6zM256.8 245.3h1.6v1.6h-1.6zM254.8 288.5h1.6v1.6h-1.6zM259.4 278.5h1.6v1.6h-1.6zM258.1 279.8h1.6v1.6h-1.6zM257.8 195.0h1.6v1.6h-1.6zM261.6 279.5h1.6v1.6h-1.6zM254.5 304.3h1.6v1.6h-1.6zM261.3 300.1h1.6v1.6h-1.6zM251.3 300.2h1.6v1.6h-1.6zM250.2 290.4h1.6v1.6h-1.6zM255.5 299.0h1.6v1.6h-1.6zM258.4 274.8h1.6v1.6h-1.6zM253.2 278.9h1.6v1.6h-1.6zM254.8 301.8h1.6v1.6h-1.6zM251.8 295.3h1.6v1.6h-1.6zM255.7 288.7h1.6v1.6h-1.6zM248.7 304.9h1.6v1.6h-1.6zM253.8 245.0h1.6v1.6h-1.6zM252.8 303.8h1.6v1.6h-1.6zM249.1 290.0h1.6v1.6h-1.6zM250.2 275.6h1.6v1.6h-1.6zM254.0 260.2h1.6v1.6h-1.6zM258.4 246.1h1.6v1.6h-1.6zM248.8 300.9h1.6v1.6h-1.6zM261.3 296.5h1.6v1.6h-1.6zM260.4 203.1h1.6v1.6h-1.6zM257.0 287.3h1.6v1.6h-1.6zM253.4 267.7h1.6v1.6h-1.6zM255.7 242.1h1.6v1.6h-1.6zM249.1 301.8h1.6v1.6h-1.6zM259.8 285.6h1.6v1.6h-1.6zM251.6 277.4h1.6v1.6h-1.6zM261.4 295.7h1.6v1.6h-1.6zM260.4 279.2h1.6v1.6h-1.6zM259.8 280.3h1.6v1.6h-1.6zM250.1 273.1h1.6v1.6h-1.6zM257.8 299.3h1.6v1.6h-1.6zM254.9 270.5h1.6v1.6h-1.6zM261.2 287.7h1.6v1.6h-1.6zM258.2 295.7h1.6v1.6h-1.6zM260.2 263.1h1.6v1.6h-1.6zM250.3 287.0h1.6v1.6h-1.6zM251.6 301.9h1.6v1.6h-1.6zM256.3 304.2h1.6v1.6h-1.6zM256.5 302.3h1.6v1.6h-1.6zM257.4 225.6h1.6v1.6h-1.6zM249.7 295.6h1.6v1.6h-1.6zM250.3 297.5h1.6v1.6h-1.6zM257.8 287.9h1.6v1.6h-1.6zM259.0 289.2h1.6v1.6h-1.6zM256.6 272.5h1.6v1.6h-1.6zM248.7 276.6h1.6v1.6h-1.6zM252.5 295.7h1.6v1.6h-1.6zM251.9 289.5h1.6v1.6h-1.6zM252.2 277.0h1.6v1.6h-1.6zM251.9 303.7h1.6v1.6h-1.6zM259.7 280.4h1.6v1.6h-1.6zM259.3 279.2h1.6v1.6h-1.6zM258.1 298.6h1.6v1.6h-1.6zM260.5 294.4h1.6v1.6h-1.6zM260.9 272.9h1.6v1.6h-1.6zM261.4 297.3h1.6v1.6h-1.6zM251.6 292.2h1.6v1.6h-1.6zM254.8 300.7h1.6v1.6h-1.6zM254.2 255.4h1.6v1.6h-1.6zM257.9 298.3h1.6v1.6h-1.6zM255.3 302.4h1.6v1.6h-1.6zM251.6 292.6h1.6v1.6h-1.6zM260.9 302.9h1.6v1.6h-1.6zM259.9 294.0h1.6v1.6h-1.6zM257.2 281.8h1.6v1.6h-1.6zM251.4 258.1h1.6v1.6h-1.6zM255.7 247.3h1.6v1.6h-1.6zM253.3 277.5h1.6v1.6h-1.6zM261.5 300.3h1.6v1.6h-1.6zM252.0 290.5h1.6v1.6h-1.6zM259.7 297.2h1.6v1.6h-1.6zM254.5 280.7h1.6v1.6h-1.6zM250.9 248.1h1.6v1.6h-1.6zM258.1 293.9h1.6v1.6h-1.6zM256.0 260.0h1.6v1.6h-1.6zM261.7 275.4h1.6v1.6h-1.6zM250.9 264.0h1.6v1.6h-1.6zM248.9 253.2h1.6v1.6h-1.6zM256.2 272.0h1.6v1.6h-1.6zM258.0 291.9h1.6v1.6h-1.6zM260.5 238.5h1.6v1.6h-1.6zM258.8 239.6h1.6v1.6h-1.6zM260.1 283.7h1.6v1.6h-1.6zM251.9 296.4h1.6v1.6h-1.6zM260.7 286.7h1.6v1.6h-1.6zM257.6 293.9h1.6v1.6h-1.6zM254.0 302.1h1.6v1.6h-1.6zM256.0 295.0h1.6v1.6h-1.6zM252.2 300.2h1.6v1.6h-1.6zM259.0 304.5h1.6v1.6h-1.6zM252.2 291.6h1.6v1.6h-1.6zM250.3 294.4h1.6v1.6h-1.6zM254.9 284.3h1.6v1.6h-1.6zM257.4 279.7h1.6v1.6h-1.6zM260.3 304.6h1.6v1.6h-1.6zM252.9 271.3h1.6v1.6h-1.6zM259.3 284.2h1.6v1.6h-1.6zM259.2 304.1h1.6v1.6h-1.6zM251.9 266.1h1.6v1.6h-1.6zM234.1 206.1h1.6v1.6h-1.6zM231.9 228.1h1.6v1.6h-1.6zM232.8 210.2h1.6v1.6h-1.6zM236.4 224.8h1.6v1.6h-1.6zM232.2 239.4h1.6v1.6h-1.6zM229.1 222.7h1.6v1.6h-1.6zM230.8 202.5h1.6v1.6h-1.6zM242.1 236.4h1.6v1.6h-1.6zM237.7 207.7h1.6v1.6h-1.6zM232.5 246.8h1.6v1.6h-1.6zM237.4 232.0h1.6v1.6h-1.6zM240.6 238.8h1.6v1.6h-1.6zM228.3 209.5h1.6v1.6h-1.6zM229.8 202.5h1.6v1.6h-1.6zM230.5 229.9h1.6v1.6h-1.6zM234.1 200.4h1.6v1.6h-1.6zM234.8 248.9h1.6v1.6h-1.6zM228.5 202.3h1.6v1.6h-1.6zM242.2 232.2h1.6v1.6h-1.6zM235.5 213.1h1.6v1.6h-1.6zM241.3 212.2h1.6v1.6h-1.6zM241.6 203.9h1.6v1.6h-1.6zM238.5 221.5h1.6v1.6h-1.6zM229.6 212.5h1.6v1.6h-1.6zM231.7 249.2h1.6v1.6h-1.6zM240.6 225.0h1.6v1.6h-1.6zM242.4 241.4h1.6v1.6h-1.6zM236.6 239.0h1.6v1.6h-1.6zM232.4 230.3h1.6v1.6h-1.6zM236.6 206.6h1.6v1.6h-1.6zM234.7 246.5h1.6v1.6h-1.6zM229.5 231.6h1.6v1.6h-1.6zM241.3 233.6h1.6v1.6h-1.6zM232.1 240.9h1.6v1.6h-1.6zM231.2 241.4h1.6v1.6h-1.6zM235.0 201.6h1.6v1.6h-1.6zM237.5 213.7h1.6v1.6h-1.6zM239.7 234.5h1.6v1.6h-1.6zM234.4 227.9h1.6v1.6h-1.6zM232.7 208.1h1.6v1.6h-1.6zM237.8 242.4h1.6v1.6h-1.6zM236.8 225.4h1.6v1.6h-1.6zM238.8 232.1h1.6v1.6h-1.6zM236.0 205.6h1.6v1.6h-1.6zM234.8 220.2h1.6v1.6h-1.6zM240.4 162.9h1.6v1.6h-1.6zM230.1 175.3h1.6v1.6h-1.6zM228.3 178.2h1.6v1.6h-1.6zM229.9 170.7h1.6v1.6h-1.6zM230.8 168.1h1.6v1.6h-1.6zM235.3 174.8h1.6v1.6h-1.6zM231.3 154.2h1.6v1.6h-1.6zM232.3 172.5h1.6v1.6h-1.6zM233.8 169.3h1.6v1.6h-1.6zM240.4 170.0h1.6v1.6h-1.6zM241.7 159.4h1.6v1.6h-1.6zM232.8 163.0h1.6v1.6h-1.6zM237.1 170.3h1.6v1.6h-1.6zM234.4 190.1h1.6v1.6h-1.6zM241.4 183.8h1.6v1.6h-1.6zM237.7 154.1h1.6v1.6h-1.6zM238.7 190.7h1.6v1.6h-1.6zM229.1 155.5h1.6v1.6h-1.6zM238.8 126.6h1.6v1.6h-1.6zM233.3 92.3h1.6v1.6h-1.6zM230.7 105.1h1.6v1.6h-1.6zM228.5 89.4h1.6v1.6h-1.6zM241.0 111.6h1.6v1.6h-1.6zM233.5 102.9h1.6v1.6h-1.6zM234.9 147.7h1.6v1.6h-1.6zM238.3 104.4h1.6v1.6h-1.6zM250.8 242.5h1.6v1.6h-1.6zM255.2 215.4h1.6v1.6h-1.6zM261.7 198.0h1.6v1.6h-1.6zM259.4 207.9h1.6v1.6h-1.6zM259.4 221.3h1.6v1.6h-1.6zM253.6 246.1h1.6v1.6h-1.6zM260.4 227.4h1.6v1.6h-1.6zM261.1 199.3h1.6v1.6h-1.6zM261.0 208.9h1.6v1.6h-1.6zM257.2 211.3h1.6v1.6h-1.6zM252.8 219.7h1.6v1.6h-1.6zM258.0 234.5h1.6v1.6h-1.6zM255.9 233.0h1.6v1.6h-1.6zM260.8 220.1h1.6v1.6h-1.6zM254.1 218.5h1.6v1.6h-1.6zM253.3 230.7h1.6v1.6h-1.6zM249.5 247.3h1.6v1.6h-1.6zM257.2 213.2h1.6v1.6h-1.6zM257.9 208.1h1.6v1.6h-1.6zM252.8 228.8h1.6v1.6h-1.6zM258.8 217.9h1.6v1.6h-1.6zM260.5 203.4h1.6v1.6h-1.6zM256.4 206.9h1.6v1.6h-1.6zM258.3 203.9h1.6v1.6h-1.6zM257.3 226.8h1.6v1.6h-1.6zM253.8 200.3h1.6v1.6h-1.6zM250.0 201.3h1.6v1.6h-1.6zM255.5 242.2h1.6v1.6h-1.6zM253.9 236.5h1.6v1.6h-1.6zM258.5 239.9h1.6v1.6h-1.6zM253.7 164.0h1.6v1.6h-1.6zM254.8 182.4h1.6v1.6h-1.6zM261.5 177.3h1.6v1.6h-1.6zM261.4 158.7h1.6v1.6h-1.6zM259.7 182.3h1.6v1.6h-1.6zM255.6 190.0h1.6v1.6h-1.6zM252.4 174.1h1.6v1.6h-1.6zM248.6 189.9h1.6v1.6h-1.6zM248.6 177.0h1.6v1.6h-1.6zM253.4 167.3h1.6v1.6h-1.6zM259.5 191.8h1.6v1.6h-1.6zM255.6 172.3h1.6v1.6h-1.6zM259.9 170.3h1.6v1.6h-1.6zM259.5 162.4h1.6v1.6h-1.6zM251.7 110.5h1.6v1.6h-1.6zM261.1 134.6h1.6v1.6h-1.6zM257.0 85.3h1.6v1.6h-1.6zM259.4 108.7h1.6v1.6h-1.6zM249.6 98.0h1.6v1.6h-1.6zM254.6 90.2h1.6v1.6h-1.6z"/>
<polygon points="244.6,306 247.0,306 246.6,360 246.1,376 245.5,376 245.0,360" fill="#fff"/>
<polygon points="228,205 229.5,215 229.5,307.5 204,307.5 205,262 205,245 206,230 208,212 212,206" fill="#00ff00"/>
<circle cx="206.4" cy="67.6" r="3.75" fill="#00ff00"/>
<circle cx="198.0" cy="93.5" r="3.75" fill="#00ff00"/>
<circle cx="130.8" cy="112.2" r="3.75" fill="#00ff00"/>
<circle cx="193.7" cy="126.9" r="3.75" fill="#00ff00"/>
<circle cx="222.3" cy="126.9" r="3.75" fill="#00ff00"/>
<circle cx="213.3" cy="136.0" r="3.75" fill="#00ff00"/>
<circle cx="208.9" cy="149.3" r="3.75" fill="#00ff00"/>
<circle cx="215.9" cy="147.0" r="3.75" fill="#00ff00"/>
<circle cx="111.8" cy="203.5" r="3.75" fill="#00ff00"/>
<circle cx="71.6" cy="214.8" r="3.75" fill="#00ff00"/>
<circle cx="157.1" cy="195.1" r="3.75" fill="#00ff00"/>
<circle cx="156.0" cy="203.1" r="3.75" fill="#00ff00"/>
<circle cx="143.2" cy="221.4" r="3.75" fill="#00ff00"/>
<circle cx="159.3" cy="223.6" r="3.75" fill="#00ff00"/>
<circle cx="195.8" cy="158.7" r="3.75" fill="#00ff00"/>
<circle cx="210.5" cy="162.5" r="3.75" fill="#00ff00"/>
<circle cx="208.5" cy="150.6" r="3.75" fill="#00ff00"/>
<circle cx="216.0" cy="150.0" r="3.75" fill="#00ff00"/>
<circle cx="225.2" cy="158.7" r="3.75" fill="#00ff00"/>
<circle cx="223.5" cy="165.6" r="3.75" fill="#00ff00"/>
<circle cx="226.5" cy="169.0" r="3.75" fill="#00ff00"/>
<circle cx="218.3" cy="172.5" r="3.75" fill="#00ff00"/>
<circle cx="213.0" cy="176.5" r="3.75" fill="#00ff00"/>
<circle cx="180.5" cy="178.3" r="3.75" fill="#00ff00"/>
<circle cx="183.1" cy="182.9" r="3.75" fill="#00ff00"/>
<circle cx="197.5" cy="183.5" r="3.75" fill="#00ff00"/>
<circle cx="214.2" cy="182.9" r="3.75" fill="#00ff00"/>
<circle cx="211.3" cy="188.1" r="3.75" fill="#00ff00"/>
<circle cx="221.1" cy="178.8" r="3.75" fill="#00ff00"/>
<circle cx="223.5" cy="184.6" r="3.75" fill="#00ff00"/>
<circle cx="185.4" cy="189.8" r="3.75" fill="#00ff00"/>
<circle cx="194.0" cy="194.4" r="3.75" fill="#00ff00"/>
<circle cx="219.4" cy="195.0" r="3.75" fill="#00ff00"/>
<circle cx="223.5" cy="198.5" r="3.75" fill="#00ff00"/>
<circle cx="184.8" cy="199.6" r="3.75" fill="#00ff00"/>
<circle cx="182.5" cy="204.2" r="3.75" fill="#00ff00"/>
<circle cx="193.5" cy="201.3" r="3.75" fill="#00ff00"/>
<circle cx="201.0" cy="206.0" r="3.75" fill="#00ff00"/>
<circle cx="223.5" cy="204.2" r="3.75" fill="#00ff00"/>
<circle cx="217.7" cy="206.5" r="3.75" fill="#00ff00"/>
<circle cx="208.5" cy="210.0" r="3.75" fill="#00ff00"/>
<circle cx="186.5" cy="210.0" r="3.75" fill="#00ff00"/>
<circle cx="185.4" cy="215.8" r="3.75" fill="#00ff00"/>
<circle cx="196.9" cy="218.0" r="3.75" fill="#00ff00"/>
<circle cx="206.7" cy="214.6" r="3.75" fill="#00ff00"/>
<circle cx="213.0" cy="214.6" r="3.75" fill="#00ff00"/>
<circle cx="221.1" cy="214.6" r="3.75" fill="#00ff00"/>
<circle cx="206.1" cy="221.5" r="3.75" fill="#00ff00"/>
<circle cx="213.0" cy="220.4" r="3.75" fill="#00ff00"/>
<circle cx="181.9" cy="229.6" r="3.75" fill="#00ff00"/>
<circle cx="188.8" cy="225.0" r="3.75" fill="#00ff00"/>
<circle cx="195.8" cy="229.6" r="3.75" fill="#00ff00"/>
<circle cx="203.8" cy="227.3" r="3.75" fill="#00ff00"/>
<circle cx="208.5" cy="230.8" r="3.75" fill="#00ff00"/>
<circle cx="201.5" cy="235.4" r="3.75" fill="#00ff00"/>
<circle cx="194.6" cy="238.8" r="3.75" fill="#00ff00"/>
<circle cx="209.6" cy="237.7" r="3.75" fill="#00ff00"/>
<circle cx="185.4" cy="191.5" r="3.75" fill="#00ff00"/>
<circle cx="216.0" cy="190.0" r="3.75" fill="#00ff00"/>
<circle cx="218.0" cy="201.0" r="3.75" fill="#00ff00"/>
<circle cx="211.0" cy="199.0" r="3.75" fill="#00ff00"/>
<circle cx="215.0" cy="209.0" r="3.75" fill="#00ff00"/>
<circle cx="193.5" cy="246.8" r="3.75" fill="#00ff00"/>
<circle cx="184.2" cy="253.2" r="3.75" fill="#00ff00"/>
<circle cx="179.6" cy="260.0" r="3.75" fill="#00ff00"/>
<circle cx="188.8" cy="256.6" r="3.75" fill="#00ff00"/>
<circle cx="183.3" cy="255.5" r="3.75" fill="#00ff00"/>
<circle cx="179.5" cy="262.5" r="3.75" fill="#00ff00"/>
<circle cx="190.0" cy="251.0" r="3.75" fill="#00ff00"/>
<circle cx="197.0" cy="244.0" r="3.75" fill="#00ff00"/>
<circle cx="198.0" cy="255.0" r="3.75" fill="#00ff00"/>
<circle cx="196.0" cy="262.0" r="3.75" fill="#00ff00"/>
<circle cx="167.8" cy="262.0" r="3.75" fill="#00ff00"/>
<circle cx="161.3" cy="266.8" r="3.75" fill="#00ff00"/>
<circle cx="173.3" cy="279.3" r="3.75" fill="#00ff00"/>
<circle cx="178.3" cy="279.3" r="3.75" fill="#00ff00"/>
<circle cx="162.0" cy="264.0" r="3.75" fill="#00ff00"/>
<circle cx="167.0" cy="263.0" r="3.75" fill="#00ff00"/>
<circle cx="180.0" cy="264.0" r="3.75" fill="#00ff00"/>
<circle cx="184.0" cy="262.0" r="3.75" fill="#00ff00"/>
<circle cx="176.0" cy="278.0" r="3.75" fill="#00ff00"/>
<circle cx="181.0" cy="278.0" r="3.75" fill="#00ff00"/>
<circle cx="172.0" cy="280.0" r="3.75" fill="#00ff00"/>
<circle cx="176.0" cy="284.0" r="3.75" fill="#00ff00"/>
<circle cx="186.0" cy="282.0" r="3.75" fill="#00ff00"/>
<circle cx="193.0" cy="276.0" r="3.75" fill="#00ff00"/>
<circle cx="197.0" cy="279.0" r="3.75" fill="#00ff00"/>
<circle cx="199.0" cy="290.0" r="3.75" fill="#00ff00"/>
<circle cx="196.0" cy="293.0" r="3.75" fill="#00ff00"/>
<circle cx="147.0" cy="284.5" r="3.75" fill="#00ff00"/>
<circle cx="162.0" cy="304.5" r="3.75" fill="#00ff00"/>
<circle cx="174.5" cy="303.8" r="3.75" fill="#00ff00"/>
<circle cx="160.0" cy="302.0" r="3.75" fill="#00ff00"/>
<circle cx="165.6" cy="302.0" r="3.75" fill="#00ff00"/>
<circle cx="167.0" cy="302.0" r="3.75" fill="#00ff00"/>
<circle cx="179.0" cy="302.0" r="3.75" fill="#00ff00"/>
<circle cx="184.0" cy="304.0" r="3.75" fill="#00ff00"/>
<circle cx="188.0" cy="300.0" r="3.75" fill="#00ff00"/>
<circle cx="194.0" cy="302.0" r="3.75" fill="#00ff00"/>
<circle cx="199.0" cy="302.0" r="3.75" fill="#00ff00"/>
<circle cx="202.0" cy="296.0" r="3.75" fill="#00ff00"/>
<circle cx="199.0" cy="270.0" r="3.75" fill="#00ff00"/>
<circle cx="200.0" cy="284.0" r="3.75" fill="#00ff00"/>
<circle cx="192.0" cy="289.0" r="3.75" fill="#00ff00"/>
<circle cx="188.0" cy="295.0" r="3.75" fill="#00ff00"/>
<circle cx="223.7" cy="155.0" r="3.75" fill="#00ff00"/>
<circle cx="224.8" cy="159.0" r="3.75" fill="#00ff00"/>
<circle cx="225.1" cy="163.0" r="3.75" fill="#00ff00"/>
<circle cx="223.5" cy="167.0" r="3.75" fill="#00ff00"/>
<circle cx="225.2" cy="171.0" r="3.75" fill="#00ff00"/>
<circle cx="225.0" cy="175.0" r="3.75" fill="#00ff00"/>
<circle cx="225.0" cy="179.0" r="3.75" fill="#00ff00"/>
<circle cx="223.9" cy="183.0" r="3.75" fill="#00ff00"/>
<circle cx="225.1" cy="187.0" r="3.75" fill="#00ff00"/>
<circle cx="224.2" cy="191.0" r="3.75" fill="#00ff00"/>
<circle cx="224.7" cy="195.0" r="3.75" fill="#00ff00"/>
<circle cx="224.9" cy="199.0" r="3.75" fill="#00ff00"/>
<circle cx="224.7" cy="203.0" r="3.75" fill="#00ff00"/>
<circle cx="225.1" cy="207.0" r="3.75" fill="#00ff00"/>
<circle cx="225.0" cy="211.0" r="3.75" fill="#00ff00"/>
<circle cx="226.2" cy="215.0" r="3.75" fill="#00ff00"/>
<circle cx="225.1" cy="219.0" r="3.75" fill="#00ff00"/>
<circle cx="225.1" cy="223.0" r="3.75" fill="#00ff00"/>
<circle cx="225.7" cy="227.0" r="3.75" fill="#00ff00"/>
<circle cx="225.5" cy="231.0" r="3.75" fill="#00ff00"/>
<circle cx="226.1" cy="235.0" r="3.75" fill="#00ff00"/>
<circle cx="225.8" cy="239.0" r="3.75" fill="#00ff00"/>
<circle cx="226.0" cy="243.0" r="3.75" fill="#00ff00"/>
<circle cx="225.6" cy="247.0" r="3.75" fill="#00ff00"/>
<circle cx="225.5" cy="251.0" r="3.75" fill="#00ff00"/>
<circle cx="225.2" cy="255.0" r="3.75" fill="#00ff00"/>
<circle cx="225.4" cy="259.0" r="3.75" fill="#00ff00"/>
<circle cx="225.1" cy="263.0" r="3.75" fill="#00ff00"/>
<circle cx="225.7" cy="267.0" r="3.75" fill="#00ff00"/>
<circle cx="225.5" cy="271.0" r="3.75" fill="#00ff00"/>
<circle cx="225.7" cy="275.0" r="3.75" fill="#00ff00"/>
<circle cx="225.8" cy="279.0" r="3.75" fill="#00ff00"/>
<circle cx="225.6" cy="283.0" r="3.75" fill="#00ff00"/>
<circle cx="225.1" cy="287.0" r="3.75" fill="#00ff00"/>
<circle cx="225.7" cy="291.0" r="3.75" fill="#00ff00"/>
<circle cx="225.3" cy="295.0" r="3.75" fill="#00ff00"/>
<circle cx="225.6" cy="299.0" r="3.75" fill="#00ff00"/>
<circle cx="226.1" cy="303.0" r="3.75" fill="#00ff00"/>
<circle cx="198.9" cy="282.7" r="3.75" fill="#00ff00"/>
<circle cx="199.3" cy="237.6" r="3.75" fill="#00ff00"/>
<circle cx="197.0" cy="279.2" r="3.75" fill="#00ff00"/>
<circle cx="203.2" cy="237.5" r="3.75" fill="#00ff00"/>
<circle cx="202.3" cy="304.0" r="3.75" fill="#00ff00"/>
<circle cx="201.8" cy="246.0" r="3.75" fill="#00ff00"/>
<circle cx="200.9" cy="268.0" r="3.75" fill="#00ff00"/>
<circle cx="202.3" cy="215.3" r="3.75" fill="#00ff00"/>
<circle cx="203.9" cy="262.7" r="3.75" fill="#00ff00"/>
<circle cx="203.6" cy="254.5" r="3.75" fill="#00ff00"/>
<circle cx="199.1" cy="239.1" r="3.75" fill="#00ff00"/>
<circle cx="199.5" cy="298.5" r="3.75" fill="#00ff00"/>
<circle cx="197.1" cy="294.0" r="3.75" fill="#00ff00"/>
<circle cx="200.0" cy="220.1" r="3.75" fill="#00ff00"/>
<circle cx="204.7" cy="283.2" r="3.75" fill="#00ff00"/>
<circle cx="206.0" cy="233.0" r="3.75" fill="#00ff00"/>
<circle cx="198.8" cy="222.8" r="3.75" fill="#00ff00"/>
<circle cx="199.5" cy="270.4" r="3.75" fill="#00ff00"/>
<circle cx="204.9" cy="237.2" r="3.75" fill="#00ff00"/>
<circle cx="197.3" cy="235.6" r="3.75" fill="#00ff00"/>
<circle cx="201.2" cy="289.0" r="3.75" fill="#00ff00"/>
<circle cx="202.7" cy="257.4" r="3.75" fill="#00ff00"/>
<circle cx="198.1" cy="258.2" r="3.75" fill="#00ff00"/>
<circle cx="200.3" cy="274.2" r="3.75" fill="#00ff00"/>
<circle cx="206.1" cy="273.2" r="3.75" fill="#00ff00"/>
<circle cx="199.6" cy="260.3" r="3.75" fill="#00ff00"/>
<circle cx="204.5" cy="218.1" r="3.75" fill="#00ff00"/>
<circle cx="204.7" cy="285.7" r="3.75" fill="#00ff00"/>
<circle cx="200.0" cy="276.2" r="3.75" fill="#00ff00"/>
<circle cx="198.2" cy="267.8" r="3.75" fill="#00ff00"/>
<circle cx="199.8" cy="295.3" r="3.75" fill="#00ff00"/>
<circle cx="199.0" cy="220.5" r="3.75" fill="#00ff00"/>
<circle cx="198.9" cy="264.4" r="3.75" fill="#00ff00"/>
<circle cx="197.0" cy="279.9" r="3.75" fill="#00ff00"/>
<polygon points="263,237.2 277.5,236.5 293,241.5 297,246.7 294.8,252 291.3,257 289.6,262.3 287,267.5 294.8,272.7 299,277.9 302,283 301.5,290 299,296.9 294.8,302 285,305.5 278,307.5 263,307.5" fill="#ff4040"/>
<circle cx="383.4" cy="50.4" r="3.7" fill="#ff4040"/>
<circle cx="289.7" cy="95.4" r="3.7" fill="#ff4040"/>
<circle cx="344.9" cy="106.7" r="3.7" fill="#ff4040"/>
<circle cx="266.4" cy="127.5" r="3.7" fill="#ff4040"/>
<circle cx="285.7" cy="129.3" r="3.7" fill="#ff4040"/>
<circle cx="287.6" cy="133.0" r="3.7" fill="#ff4040"/>
<circle cx="266.7" cy="157.1" r="3.7" fill="#ff4040"/>
<circle cx="286.5" cy="152.0" r="3.7" fill="#ff4040"/>
<circle cx="287.6" cy="154.9" r="3.7" fill="#ff4040"/>
<circle cx="313.9" cy="160.0" r="3.7" fill="#ff4040"/>
<circle cx="268.9" cy="163.7" r="3.7" fill="#ff4040"/>
<circle cx="275.1" cy="163.7" r="3.7" fill="#ff4040"/>
<circle cx="283.2" cy="163.0" r="3.7" fill="#ff4040"/>
<circle cx="270.4" cy="169.5" r="3.7" fill="#ff4040"/>
<circle cx="300.0" cy="168.8" r="3.7" fill="#ff4040"/>
<circle cx="298.9" cy="170.3" r="3.7" fill="#ff4040"/>
<circle cx="315.7" cy="175.4" r="3.7" fill="#ff4040"/>
<circle cx="281.7" cy="179.8" r="3.7" fill="#ff4040"/>
<circle cx="295.6" cy="179.8" r="3.7" fill="#ff4040"/>
<circle cx="271.5" cy="186.0" r="3.7" fill="#ff4040"/>
<circle cx="275.5" cy="190.4" r="3.7" fill="#ff4040"/>
<circle cx="311.3" cy="188.5" r="3.7" fill="#ff4040"/>
<circle cx="277.0" cy="196.9" r="3.7" fill="#ff4040"/>
<circle cx="269.7" cy="206.8" r="3.7" fill="#ff4040"/>
<circle cx="275.5" cy="205.3" r="3.7" fill="#ff4040"/>
<circle cx="342.7" cy="208.3" r="3.7" fill="#ff4040"/>
<circle cx="312.8" cy="210.8" r="3.7" fill="#ff4040"/>
<circle cx="305.5" cy="213.4" r="3.7" fill="#ff4040"/>
<circle cx="276.6" cy="219.0" r="3.7" fill="#ff4040"/>
<circle cx="287.0" cy="221.6" r="3.7" fill="#ff4040"/>
<circle cx="266.2" cy="225.0" r="3.7" fill="#ff4040"/>
<circle cx="277.5" cy="227.7" r="3.7" fill="#ff4040"/>
<circle cx="285.3" cy="226.0" r="3.7" fill="#ff4040"/>
<circle cx="265.4" cy="232.0" r="3.7" fill="#ff4040"/>
<circle cx="272.3" cy="232.9" r="3.7" fill="#ff4040"/>
<circle cx="279.2" cy="232.0" r="3.7" fill="#ff4040"/>
<circle cx="286.1" cy="235.5" r="3.7" fill="#ff4040"/>
<circle cx="298.3" cy="239.8" r="3.7" fill="#ff4040"/>
<circle cx="307.8" cy="238.0" r="3.7" fill="#ff4040"/>
<circle cx="310.4" cy="244.6" r="3.7" fill="#ff4040"/>
<circle cx="314.7" cy="251.0" r="3.7" fill="#ff4040"/>
<circle cx="326.0" cy="252.2" r="3.7" fill="#ff4040"/>
<circle cx="302.6" cy="252.8" r="3.7" fill="#ff4040"/>
<circle cx="295.7" cy="260.6" r="3.7" fill="#ff4040"/>
<circle cx="305.2" cy="262.3" r="3.7" fill="#ff4040"/>
<circle cx="318.1" cy="266.6" r="3.7" fill="#ff4040"/>
<circle cx="320.7" cy="274.4" r="3.7" fill="#ff4040"/>
<circle cx="324.2" cy="277.0" r="3.7" fill="#ff4040"/>
<circle cx="338.0" cy="277.9" r="3.7" fill="#ff4040"/>
<circle cx="301.7" cy="283.0" r="3.7" fill="#ff4040"/>
<circle cx="329.0" cy="287.4" r="3.7" fill="#ff4040"/>
<circle cx="315.6" cy="291.7" r="3.7" fill="#ff4040"/>
<circle cx="307.8" cy="299.5" r="3.7" fill="#ff4040"/>
<circle cx="300.0" cy="303.0" r="3.7" fill="#ff4040"/>
<circle cx="291.3" cy="271.0" r="3.7" fill="#ff4040"/>
<circle cx="296.5" cy="276.1" r="3.7" fill="#ff4040"/>
<circle cx="289.6" cy="245.8" r="3.7" fill="#ff4040"/>
<circle cx="296.5" cy="246.7" r="3.7" fill="#ff4040"/>
<circle cx="292.0" cy="241.0" r="3.7" fill="#ff4040"/>
<circle cx="283.0" cy="239.0" r="3.7" fill="#ff4040"/>
<circle cx="293.0" cy="254.0" r="3.7" fill="#ff4040"/>
<circle cx="290.0" cy="258.0" r="3.7" fill="#ff4040"/>
<circle cx="287.0" cy="265.0" r="3.7" fill="#ff4040"/>
<circle cx="298.0" cy="281.0" r="3.7" fill="#ff4040"/>
<circle cx="300.0" cy="288.0" r="3.7" fill="#ff4040"/>
<circle cx="299.0" cy="295.0" r="3.7" fill="#ff4040"/>
<circle cx="295.0" cy="300.0" r="3.7" fill="#ff4040"/>
<circle cx="289.0" cy="304.0" r="3.7" fill="#ff4040"/>
<circle cx="266.0" cy="221.0" r="3.7" fill="#ff4040"/>
<circle cx="266.9" cy="238.0" r="3.7" fill="#ff4040"/>
<circle cx="266.4" cy="243.0" r="3.7" fill="#ff4040"/>
<circle cx="266.7" cy="248.0" r="3.7" fill="#ff4040"/>
<circle cx="266.6" cy="253.0" r="3.7" fill="#ff4040"/>
<circle cx="266.0" cy="258.0" r="3.7" fill="#ff4040"/>
<circle cx="266.6" cy="263.0" r="3.7" fill="#ff4040"/>
<circle cx="266.8" cy="268.0" r="3.7" fill="#ff4040"/>
<circle cx="267.0" cy="273.0" r="3.7" fill="#ff4040"/>
<circle cx="265.9" cy="278.0" r="3.7" fill="#ff4040"/>
<circle cx="266.8" cy="283.0" r="3.7" fill="#ff4040"/>
<circle cx="266.8" cy="288.0" r="3.7" fill="#ff4040"/>
<circle cx="266.5" cy="293.0" r="3.7" fill="#ff4040"/>
<circle cx="266.7" cy="298.0" r="3.7" fill="#ff4040"/>
<circle cx="266.3" cy="303.0" r="3.7" fill="#ff4040"/>
<line x1="226.5" y1="37.9" x2="226.5" y2="416.7" stroke="#444" stroke-width="0.85" stroke-dasharray="1.4 1.4" fill="none"/>
<line x1="265.1" y1="37.9" x2="265.1" y2="416.7" stroke="#444" stroke-width="0.85" stroke-dasharray="1.4 1.4" fill="none"/>
<line x1="57.4" y1="306.0" x2="435.2" y2="306.0" stroke="#8a8a8a" stroke-width="1.0" stroke-dasharray="1.8 0.9" fill="none"/>
<circle cx="194.5" cy="281.2" r="3.9" fill="#0000ee" stroke="#000070" stroke-width="0.6"/>
<circle cx="207.7" cy="284.2" r="3.9" fill="#0000ee" stroke="#000070" stroke-width="0.6"/>
<circle cx="189.5" cy="287.5" r="3.9" fill="#0000ee" stroke="#000070" stroke-width="0.6"/>
<circle cx="181.4" cy="296.6" r="3.9" fill="#0000ee" stroke="#000070" stroke-width="0.6"/>
<text x="185.00" y="278.80" font-size="17.6" text-anchor="start" font-weight="bold" textLength="25.0" lengthAdjust="spacingAndGlyphs" stroke="#000" stroke-width="0.35">IL6</text>
<text x="138.00" y="297.00" font-size="17.6" text-anchor="start" font-weight="bold" textLength="55.3" lengthAdjust="spacingAndGlyphs" stroke="#000" stroke-width="0.35">CXCL1</text>
<text x="215.60" y="297.80" font-size="17.6" text-anchor="start" font-weight="bold" textLength="40.9" lengthAdjust="spacingAndGlyphs" stroke="#000" stroke-width="0.35">SELP</text>
<text x="149.40" y="317.20" font-size="17.6" text-anchor="start" font-weight="bold" textLength="55.5" lengthAdjust="spacingAndGlyphs" stroke="#000" stroke-width="0.35">CXCL8</text>
<text x="194.60" y="362.60" font-size="17.6" text-anchor="start" font-weight="bold" textLength="43.0" lengthAdjust="spacingAndGlyphs" stroke="#000" stroke-width="0.35">VWF</text>
<text x="280.60" y="357.50" font-size="17.6" text-anchor="start" font-weight="bold" textLength="75.0" lengthAdjust="spacingAndGlyphs" stroke="#000" stroke-width="0.35">ANGPT2</text>
<text x="184.90" y="396.80" font-size="17.6" text-anchor="start" font-weight="bold" textLength="63.0" lengthAdjust="spacingAndGlyphs" stroke="#000" stroke-width="0.35">IGFBP7</text>
<text x="199.00" y="417.00" font-size="17.6" text-anchor="start" font-weight="bold" textLength="96.6" lengthAdjust="spacingAndGlyphs" stroke="#000" stroke-width="0.35">CD63 CCL2</text>
<circle cx="235.5" cy="353.2" r="3.9" fill="#0000ee" stroke="#000070" stroke-width="0.6"/>
<circle cx="274.1" cy="344.5" r="3.9" fill="#0000ee" stroke="#000070" stroke-width="0.6"/>
<circle cx="243.6" cy="395.8" r="3.9" fill="#0000ee" stroke="#000070" stroke-width="0.6"/>
<polygon points="158.5,50 167,41.4 167,45.4 222.3,45.4 222.3,54.2 167,54.2 167,58.8" fill="#000"/>
<polygon points="337.4,50 328.5,41.4 328.5,45.4 273.1,45.4 273.1,54.2 328.5,54.2 328.5,58.8" fill="#000"/>
<rect x="57.4" y="37.9" width="377.8" height="378.8" fill="none" stroke="#000" stroke-width="1.7"/>
<line x1="52.3" y1="402.4" x2="57.4" y2="402.4" stroke="#000" stroke-width="1.2"/>
<text x="47.20" y="406.30" font-size="10.8" text-anchor="end">0</text>
<line x1="52.3" y1="328.4" x2="57.4" y2="328.4" stroke="#000" stroke-width="1.2"/>
<text x="47.20" y="332.30" font-size="10.8" text-anchor="end">1</text>
<line x1="52.3" y1="254.39999999999998" x2="57.4" y2="254.39999999999998" stroke="#000" stroke-width="1.2"/>
<text x="47.20" y="258.30" font-size="10.8" text-anchor="end">2</text>
<line x1="52.3" y1="180.39999999999998" x2="57.4" y2="180.39999999999998" stroke="#000" stroke-width="1.2"/>
<text x="47.20" y="184.30" font-size="10.8" text-anchor="end">3</text>
<line x1="52.3" y1="106.39999999999998" x2="57.4" y2="106.39999999999998" stroke="#000" stroke-width="1.2"/>
<text x="47.20" y="110.30" font-size="10.8" text-anchor="end">4</text>
<line x1="71.73" y1="416.7" x2="71.73" y2="421.5" stroke="#000" stroke-width="1.4"/>
<text x="71.73" y="434.90" font-size="10.8" text-anchor="middle">9</text>
<line x1="91.16" y1="416.7" x2="91.16" y2="421.5" stroke="#000" stroke-width="1.4"/>
<text x="91.16" y="434.90" font-size="10.8" text-anchor="middle">8</text>
<line x1="110.59" y1="416.7" x2="110.59" y2="421.5" stroke="#000" stroke-width="1.4"/>
<text x="110.59" y="434.90" font-size="10.8" text-anchor="middle">7</text>
<line x1="130.02" y1="416.7" x2="130.02" y2="421.5" stroke="#000" stroke-width="1.4"/>
<text x="130.02" y="434.90" font-size="10.8" text-anchor="middle">6</text>
<line x1="149.45" y1="416.7" x2="149.45" y2="421.5" stroke="#000" stroke-width="1.4"/>
<text x="149.45" y="434.90" font-size="10.8" text-anchor="middle">5</text>
<line x1="168.88" y1="416.7" x2="168.88" y2="421.5" stroke="#000" stroke-width="1.4"/>
<text x="168.88" y="434.90" font-size="10.8" text-anchor="middle">4</text>
<line x1="188.31" y1="416.7" x2="188.31" y2="421.5" stroke="#000" stroke-width="1.4"/>
<text x="188.31" y="434.90" font-size="10.8" text-anchor="middle">3</text>
<line x1="207.74" y1="416.7" x2="207.74" y2="421.5" stroke="#000" stroke-width="1.4"/>
<text x="207.74" y="434.90" font-size="10.8" text-anchor="middle">2</text>
<line x1="227.17" y1="416.7" x2="227.17" y2="421.5" stroke="#000" stroke-width="1.4"/>
<text x="227.17" y="434.90" font-size="10.8" text-anchor="middle">1</text>
<line x1="246.60" y1="416.7" x2="246.60" y2="421.5" stroke="#000" stroke-width="1.4"/>
<text x="246.60" y="434.90" font-size="10.8" text-anchor="middle">0</text>
<line x1="266.03" y1="416.7" x2="266.03" y2="421.5" stroke="#000" stroke-width="1.4"/>
<text x="266.03" y="434.90" font-size="10.8" text-anchor="middle">1</text>
<line x1="285.46" y1="416.7" x2="285.46" y2="421.5" stroke="#000" stroke-width="1.4"/>
<text x="285.46" y="434.90" font-size="10.8" text-anchor="middle">2</text>
<line x1="304.89" y1="416.7" x2="304.89" y2="421.5" stroke="#000" stroke-width="1.4"/>
<text x="304.89" y="434.90" font-size="10.8" text-anchor="middle">3</text>
<line x1="324.32" y1="416.7" x2="324.32" y2="421.5" stroke="#000" stroke-width="1.4"/>
<text x="324.32" y="434.90" font-size="10.8" text-anchor="middle">4</text>
<line x1="343.75" y1="416.7" x2="343.75" y2="421.5" stroke="#000" stroke-width="1.4"/>
<text x="343.75" y="434.90" font-size="10.8" text-anchor="middle">5</text>
<line x1="363.18" y1="416.7" x2="363.18" y2="421.5" stroke="#000" stroke-width="1.4"/>
<text x="363.18" y="434.90" font-size="10.8" text-anchor="middle">6</text>
<line x1="382.61" y1="416.7" x2="382.61" y2="421.5" stroke="#000" stroke-width="1.4"/>
<text x="382.61" y="434.90" font-size="10.8" text-anchor="middle">7</text>
<line x1="402.04" y1="416.7" x2="402.04" y2="421.5" stroke="#000" stroke-width="1.4"/>
<text x="402.04" y="434.90" font-size="10.8" text-anchor="middle">8</text>
<line x1="421.47" y1="416.7" x2="421.47" y2="421.5" stroke="#000" stroke-width="1.4"/>
<text x="421.47" y="434.90" font-size="10.8" text-anchor="middle">9</text>
<text x="184.90" y="456.20" font-size="14.2" text-anchor="start" textLength="122.2" lengthAdjust="spacingAndGlyphs" stroke="#000" stroke-width="0.3">Expression mean difference</text>
<text transform="translate(32.4,227.3) rotate(-90)" x="0" y="0" font-size="14.3" text-anchor="middle" textLength="69.4" lengthAdjust="spacingAndGlyphs" stroke="#000" stroke-width="0.3">−log10(pvalue)</text>
<text x="11.50" y="488.80" font-size="17" text-anchor="start" font-weight="bold" stroke="#000" stroke-width="0.5">B</text>
<rect x="77.95" y="527.02" width="25.45" height="98.18" fill="#c41430"/>
<line x1="90.68" y1="527.02" x2="90.68" y2="525.45" stroke="#c41430" stroke-width="1.5"/>
<line x1="83.58" y1="525.45" x2="97.78" y2="525.45" stroke="#c41430" stroke-width="1.5"/>
<rect x="128.10" y="521.91" width="25.50" height="103.29" fill="#105283"/>
<line x1="140.85" y1="521.91" x2="140.85" y2="517.82" stroke="#105283" stroke-width="1.5"/>
<line x1="133.75" y1="517.82" x2="147.95" y2="517.82" stroke="#105283" stroke-width="1.5"/>
<line x1="58.2" y1="501.00" x2="58.2" y2="625.20" stroke="#000" stroke-width="1.6"/>
<line x1="53.00" y1="625.2" x2="163.20" y2="625.2" stroke="#000" stroke-width="1.6"/>
<line x1="53.00" y1="625.20" x2="58.2" y2="625.20" stroke="#000" stroke-width="1.5"/>
<text x="48.00" y="629.35" font-size="11.7" text-anchor="end">0</text>
<line x1="53.00" y1="585.87" x2="58.2" y2="585.87" stroke="#000" stroke-width="1.5"/>
<text x="48.00" y="590.02" font-size="11.7" text-anchor="end">5</text>
<line x1="53.00" y1="546.53" x2="58.2" y2="546.53" stroke="#000" stroke-width="1.5"/>
<text x="48.00" y="550.68" font-size="11.7" text-anchor="end">10</text>
<line x1="53.00" y1="507.20" x2="58.2" y2="507.20" stroke="#000" stroke-width="1.5"/>
<text x="48.00" y="511.35" font-size="11.7" text-anchor="end">15</text>
<line x1="90.65" y1="625.2" x2="90.65" y2="629.60" stroke="#000" stroke-width="1.6"/>
<line x1="140.80" y1="625.2" x2="140.80" y2="629.60" stroke="#000" stroke-width="1.6"/>
<text x="90.80" y="643.80" font-size="11.8" text-anchor="middle" textLength="38.2" lengthAdjust="spacingAndGlyphs">Healthy</text>
<text x="140.80" y="643.80" font-size="11.8" text-anchor="middle" textLength="35.5" lengthAdjust="spacingAndGlyphs">Patient</text>
<text x="114.70" y="494.00" font-size="12" text-anchor="middle" font-weight="bold">VWF</text>
<text x="114.00" y="507.00" font-size="10.5" text-anchor="middle">Diff = −0.53; P = 0.21</text>
<text transform="translate(25.80,563.30) rotate(-90)" x="0" y="0" font-size="15.5" text-anchor="middle" textLength="79.7" lengthAdjust="spacingAndGlyphs" stroke="#000" stroke-width="0.3">Expression (TMM)</text>
<rect x="250.05" y="586.85" width="25.45" height="38.35" fill="#c41430"/>
<line x1="262.78" y1="586.85" x2="262.78" y2="577.71" stroke="#c41430" stroke-width="1.5"/>
<line x1="255.68" y1="577.71" x2="269.88" y2="577.71" stroke="#c41430" stroke-width="1.5"/>
<rect x="300.20" y="539.21" width="25.50" height="85.99" fill="#105283"/>
<line x1="312.95" y1="539.21" x2="312.95" y2="533.45" stroke="#105283" stroke-width="1.5"/>
<line x1="305.85" y1="533.45" x2="320.05" y2="533.45" stroke="#105283" stroke-width="1.5"/>
<line x1="230.3" y1="501.00" x2="230.3" y2="625.20" stroke="#000" stroke-width="1.6"/>
<line x1="225.10" y1="625.2" x2="335.30" y2="625.2" stroke="#000" stroke-width="1.6"/>
<line x1="225.10" y1="625.20" x2="230.3" y2="625.20" stroke="#000" stroke-width="1.5"/>
<text x="220.10" y="629.35" font-size="11.7" text-anchor="end">0</text>
<line x1="225.10" y1="595.70" x2="230.3" y2="595.70" stroke="#000" stroke-width="1.5"/>
<text x="220.10" y="599.85" font-size="11.7" text-anchor="end">2</text>
<line x1="225.10" y1="566.20" x2="230.3" y2="566.20" stroke="#000" stroke-width="1.5"/>
<text x="220.10" y="570.35" font-size="11.7" text-anchor="end">4</text>
<line x1="225.10" y1="536.70" x2="230.3" y2="536.70" stroke="#000" stroke-width="1.5"/>
<text x="220.10" y="540.85" font-size="11.7" text-anchor="end">6</text>
<line x1="225.10" y1="507.20" x2="230.3" y2="507.20" stroke="#000" stroke-width="1.5"/>
<text x="220.10" y="511.35" font-size="11.7" text-anchor="end">8</text>
<line x1="262.75" y1="625.2" x2="262.75" y2="629.60" stroke="#000" stroke-width="1.6"/>
<line x1="312.90" y1="625.2" x2="312.90" y2="629.60" stroke="#000" stroke-width="1.6"/>
<text x="262.90" y="643.80" font-size="11.8" text-anchor="middle" textLength="38.2" lengthAdjust="spacingAndGlyphs">Healthy</text>
<text x="312.90" y="643.80" font-size="11.8" text-anchor="middle" textLength="35.5" lengthAdjust="spacingAndGlyphs">Patient</text>
<text x="286.80" y="494.00" font-size="12" text-anchor="middle" font-weight="bold">CXCL8</text>
<text x="286.10" y="507.00" font-size="10.5" text-anchor="middle">Diff = −3.3; P = 0.03</text>
<text transform="translate(197.90,563.30) rotate(-90)" x="0" y="0" font-size="15.5" text-anchor="middle" textLength="79.7" lengthAdjust="spacingAndGlyphs" stroke="#000" stroke-width="0.3">Expression (TMM)</text>
<rect x="422.35" y="585.28" width="25.45" height="39.92" fill="#c41430"/>
<line x1="435.08" y1="585.28" x2="435.08" y2="574.46" stroke="#c41430" stroke-width="1.5"/>
<line x1="427.98" y1="574.46" x2="442.18" y2="574.46" stroke="#c41430" stroke-width="1.5"/>
<rect x="472.50" y="528.24" width="25.50" height="96.96" fill="#105283"/>
<line x1="485.25" y1="528.24" x2="485.25" y2="518.80" stroke="#105283" stroke-width="1.5"/>
<line x1="478.15" y1="518.80" x2="492.35" y2="518.80" stroke="#105283" stroke-width="1.5"/>
<line x1="402.6" y1="501.00" x2="402.6" y2="625.20" stroke="#000" stroke-width="1.6"/>
<line x1="397.40" y1="625.2" x2="507.60" y2="625.2" stroke="#000" stroke-width="1.6"/>
<line x1="397.40" y1="625.20" x2="402.6" y2="625.20" stroke="#000" stroke-width="1.5"/>
<text x="392.40" y="629.35" font-size="11.7" text-anchor="end">0</text>
<line x1="397.40" y1="585.87" x2="402.6" y2="585.87" stroke="#000" stroke-width="1.5"/>
<text x="392.40" y="590.02" font-size="11.7" text-anchor="end">2</text>
<line x1="397.40" y1="546.53" x2="402.6" y2="546.53" stroke="#000" stroke-width="1.5"/>
<text x="392.40" y="550.68" font-size="11.7" text-anchor="end">4</text>
<line x1="397.40" y1="507.20" x2="402.6" y2="507.20" stroke="#000" stroke-width="1.5"/>
<text x="392.40" y="511.35" font-size="11.7" text-anchor="end">6</text>
<line x1="435.05" y1="625.2" x2="435.05" y2="629.60" stroke="#000" stroke-width="1.6"/>
<line x1="485.20" y1="625.2" x2="485.20" y2="629.60" stroke="#000" stroke-width="1.6"/>
<text x="435.20" y="643.80" font-size="11.8" text-anchor="middle" textLength="38.2" lengthAdjust="spacingAndGlyphs">Healthy</text>
<text x="485.20" y="643.80" font-size="11.8" text-anchor="middle" textLength="35.5" lengthAdjust="spacingAndGlyphs">Patient</text>
<text x="459.10" y="494.00" font-size="12" text-anchor="middle" font-weight="bold">CXCL1</text>
<text x="458.40" y="507.00" font-size="10.5" text-anchor="middle">Diff = −2.9; P = 0.02</text>
<text transform="translate(370.20,563.30) rotate(-90)" x="0" y="0" font-size="15.5" text-anchor="middle" textLength="79.7" lengthAdjust="spacingAndGlyphs" stroke="#000" stroke-width="0.3">Expression (TMM)</text>
<rect x="77.95" y="795.44" width="25.45" height="8.26" fill="#c41430"/>
<line x1="90.68" y1="795.44" x2="90.68" y2="788.12" stroke="#c41430" stroke-width="1.5"/>
<line x1="83.58" y1="788.12" x2="97.78" y2="788.12" stroke="#c41430" stroke-width="1.5"/>
<rect x="128.10" y="733.37" width="25.50" height="70.33" fill="#105283"/>
<line x1="140.85" y1="733.37" x2="140.85" y2="711.90" stroke="#105283" stroke-width="1.5"/>
<line x1="133.75" y1="711.90" x2="147.95" y2="711.90" stroke="#105283" stroke-width="1.5"/>
<line x1="58.2" y1="679.50" x2="58.2" y2="803.70" stroke="#000" stroke-width="1.6"/>
<line x1="53.00" y1="803.7" x2="163.20" y2="803.7" stroke="#000" stroke-width="1.6"/>
<line x1="53.00" y1="803.70" x2="58.2" y2="803.70" stroke="#000" stroke-width="1.5"/>
<text x="48.00" y="807.85" font-size="11.7" text-anchor="end">0</text>
<line x1="53.00" y1="780.10" x2="58.2" y2="780.10" stroke="#000" stroke-width="1.5"/>
<text x="48.00" y="784.25" font-size="11.7" text-anchor="end">1</text>
<line x1="53.00" y1="756.50" x2="58.2" y2="756.50" stroke="#000" stroke-width="1.5"/>
<text x="48.00" y="760.65" font-size="11.7" text-anchor="end">2</text>
<line x1="53.00" y1="732.90" x2="58.2" y2="732.90" stroke="#000" stroke-width="1.5"/>
<text x="48.00" y="737.05" font-size="11.7" text-anchor="end">3</text>
<line x1="53.00" y1="709.30" x2="58.2" y2="709.30" stroke="#000" stroke-width="1.5"/>
<text x="48.00" y="713.45" font-size="11.7" text-anchor="end">4</text>
<line x1="53.00" y1="685.70" x2="58.2" y2="685.70" stroke="#000" stroke-width="1.5"/>
<text x="48.00" y="689.85" font-size="11.7" text-anchor="end">5</text>
<line x1="90.65" y1="803.7" x2="90.65" y2="808.10" stroke="#000" stroke-width="1.6"/>
<line x1="140.80" y1="803.7" x2="140.80" y2="808.10" stroke="#000" stroke-width="1.6"/>
<text x="90.80" y="822.30" font-size="11.8" text-anchor="middle" textLength="38.2" lengthAdjust="spacingAndGlyphs">Healthy</text>
<text x="140.80" y="822.30" font-size="11.8" text-anchor="middle" textLength="35.5" lengthAdjust="spacingAndGlyphs">Patient</text>
<text x="114.70" y="672.50" font-size="12" text-anchor="middle" font-weight="bold">IL6</text>
<text x="114.00" y="685.50" font-size="10.5" text-anchor="middle">Diff = −2.64; P = 0.02</text>
<text transform="translate(25.80,741.80) rotate(-90)" x="0" y="0" font-size="15.5" text-anchor="middle" textLength="79.7" lengthAdjust="spacingAndGlyphs" stroke="#000" stroke-width="0.3">Expression (TMM)</text>
<rect x="250.05" y="752.76" width="25.45" height="50.94" fill="#c41430"/>
<line x1="262.78" y1="752.76" x2="262.78" y2="745.49" stroke="#c41430" stroke-width="1.5"/>
<line x1="255.68" y1="745.49" x2="269.88" y2="745.49" stroke="#c41430" stroke-width="1.5"/>
<rect x="300.20" y="714.02" width="25.50" height="89.68" fill="#105283"/>
<line x1="312.95" y1="714.02" x2="312.95" y2="711.66" stroke="#105283" stroke-width="1.5"/>
<line x1="305.85" y1="711.66" x2="320.05" y2="711.66" stroke="#105283" stroke-width="1.5"/>
<line x1="230.3" y1="679.50" x2="230.3" y2="803.70" stroke="#000" stroke-width="1.6"/>
<line x1="225.10" y1="803.7" x2="335.30" y2="803.7" stroke="#000" stroke-width="1.6"/>
<line x1="225.10" y1="803.70" x2="230.3" y2="803.70" stroke="#000" stroke-width="1.5"/>
<text x="220.10" y="807.85" font-size="11.7" text-anchor="end">0</text>
<line x1="225.10" y1="764.37" x2="230.3" y2="764.37" stroke="#000" stroke-width="1.5"/>
<text x="220.10" y="768.52" font-size="11.7" text-anchor="end">2</text>
<line x1="225.10" y1="725.03" x2="230.3" y2="725.03" stroke="#000" stroke-width="1.5"/>
<text x="220.10" y="729.18" font-size="11.7" text-anchor="end">4</text>
<line x1="225.10" y1="685.70" x2="230.3" y2="685.70" stroke="#000" stroke-width="1.5"/>
<text x="220.10" y="689.85" font-size="11.7" text-anchor="end">6</text>
<line x1="262.75" y1="803.7" x2="262.75" y2="808.10" stroke="#000" stroke-width="1.6"/>
<line x1="312.90" y1="803.7" x2="312.90" y2="808.10" stroke="#000" stroke-width="1.6"/>
<text x="262.90" y="822.30" font-size="11.8" text-anchor="middle" textLength="38.2" lengthAdjust="spacingAndGlyphs">Healthy</text>
<text x="312.90" y="822.30" font-size="11.8" text-anchor="middle" textLength="35.5" lengthAdjust="spacingAndGlyphs">Patient</text>
<text x="286.80" y="672.50" font-size="12" text-anchor="middle" font-weight="bold">SELP</text>
<text x="286.10" y="685.50" font-size="10.5" text-anchor="middle">Diff = −1.97; P = 0.02</text>
<text transform="translate(197.90,741.80) rotate(-90)" x="0" y="0" font-size="15.5" text-anchor="middle" textLength="79.7" lengthAdjust="spacingAndGlyphs" stroke="#000" stroke-width="0.3">Expression (TMM)</text>
<rect x="422.35" y="731.17" width="25.45" height="72.53" fill="#c41430"/>
<line x1="435.08" y1="731.17" x2="435.08" y2="726.61" stroke="#c41430" stroke-width="1.5"/>
<line x1="427.98" y1="726.61" x2="442.18" y2="726.61" stroke="#c41430" stroke-width="1.5"/>
<rect x="472.50" y="742.10" width="25.50" height="61.60" fill="#105283"/>
<line x1="485.25" y1="742.10" x2="485.25" y2="740.53" stroke="#105283" stroke-width="1.5"/>
<line x1="478.15" y1="740.53" x2="492.35" y2="740.53" stroke="#105283" stroke-width="1.5"/>
<line x1="402.6" y1="679.50" x2="402.6" y2="803.70" stroke="#000" stroke-width="1.6"/>
<line x1="397.40" y1="803.7" x2="507.60" y2="803.7" stroke="#000" stroke-width="1.6"/>
<line x1="397.40" y1="803.70" x2="402.6" y2="803.70" stroke="#000" stroke-width="1.5"/>
<text x="392.40" y="807.85" font-size="11.7" text-anchor="end">0</text>
<line x1="397.40" y1="764.37" x2="402.6" y2="764.37" stroke="#000" stroke-width="1.5"/>
<text x="392.40" y="768.52" font-size="11.7" text-anchor="end">5</text>
<line x1="397.40" y1="725.03" x2="402.6" y2="725.03" stroke="#000" stroke-width="1.5"/>
<text x="392.40" y="729.18" font-size="11.7" text-anchor="end">10</text>
<line x1="397.40" y1="685.70" x2="402.6" y2="685.70" stroke="#000" stroke-width="1.5"/>
<text x="392.40" y="689.85" font-size="11.7" text-anchor="end">15</text>
<line x1="435.05" y1="803.7" x2="435.05" y2="808.10" stroke="#000" stroke-width="1.6"/>
<line x1="485.20" y1="803.7" x2="485.20" y2="808.10" stroke="#000" stroke-width="1.6"/>
<text x="435.20" y="822.30" font-size="11.8" text-anchor="middle" textLength="38.2" lengthAdjust="spacingAndGlyphs">Healthy</text>
<text x="485.20" y="822.30" font-size="11.8" text-anchor="middle" textLength="35.5" lengthAdjust="spacingAndGlyphs">Patient</text>
<text x="459.10" y="672.50" font-size="12" text-anchor="middle" font-weight="bold">ANGPT2</text>
<text x="458.40" y="685.50" font-size="10.5" text-anchor="middle">Diff = 1.44; P = 0.16</text>
<text transform="translate(370.20,741.80) rotate(-90)" x="0" y="0" font-size="15.5" text-anchor="middle" textLength="79.7" lengthAdjust="spacingAndGlyphs" stroke="#000" stroke-width="0.3">Expression (TMM)</text>
<rect x="77.95" y="896.05" width="25.45" height="85.85" fill="#c41430"/>
<line x1="90.68" y1="896.05" x2="90.68" y2="888.68" stroke="#c41430" stroke-width="1.5"/>
<line x1="83.58" y1="888.68" x2="97.78" y2="888.68" stroke="#c41430" stroke-width="1.5"/>
<rect x="128.10" y="892.51" width="25.50" height="89.38" fill="#105283"/>
<line x1="140.85" y1="892.51" x2="140.85" y2="886.47" stroke="#105283" stroke-width="1.5"/>
<line x1="133.75" y1="886.47" x2="147.95" y2="886.47" stroke="#105283" stroke-width="1.5"/>
<line x1="58.2" y1="857.70" x2="58.2" y2="981.90" stroke="#000" stroke-width="1.6"/>
<line x1="53.00" y1="981.9" x2="163.20" y2="981.9" stroke="#000" stroke-width="1.6"/>
<line x1="53.00" y1="981.90" x2="58.2" y2="981.90" stroke="#000" stroke-width="1.5"/>
<text x="48.00" y="986.05" font-size="11.7" text-anchor="end">0</text>
<line x1="53.00" y1="952.40" x2="58.2" y2="952.40" stroke="#000" stroke-width="1.5"/>
<text x="48.00" y="956.55" font-size="11.7" text-anchor="end">2</text>
<line x1="53.00" y1="922.90" x2="58.2" y2="922.90" stroke="#000" stroke-width="1.5"/>
<text x="48.00" y="927.05" font-size="11.7" text-anchor="end">4</text>
<line x1="53.00" y1="893.40" x2="58.2" y2="893.40" stroke="#000" stroke-width="1.5"/>
<text x="48.00" y="897.55" font-size="11.7" text-anchor="end">6</text>
<line x1="53.00" y1="863.90" x2="58.2" y2="863.90" stroke="#000" stroke-width="1.5"/>
<text x="48.00" y="868.05" font-size="11.7" text-anchor="end">8</text>
<line x1="90.65" y1="981.9" x2="90.65" y2="986.30" stroke="#000" stroke-width="1.6"/>
<line x1="140.80" y1="981.9" x2="140.80" y2="986.30" stroke="#000" stroke-width="1.6"/>
<text x="90.80" y="1000.50" font-size="11.8" text-anchor="middle" textLength="38.2" lengthAdjust="spacingAndGlyphs">Healthy</text>
<text x="140.80" y="1000.50" font-size="11.8" text-anchor="middle" textLength="35.5" lengthAdjust="spacingAndGlyphs">Patient</text>
<text x="114.70" y="850.70" font-size="12" text-anchor="middle" font-weight="bold">CCL2</text>
<text x="114.00" y="863.70" font-size="10.5" text-anchor="middle">Diff = −0.15; P = 0.84</text>
<text transform="translate(25.80,920.00) rotate(-90)" x="0" y="0" font-size="15.5" text-anchor="middle" textLength="79.7" lengthAdjust="spacingAndGlyphs" stroke="#000" stroke-width="0.3">Expression (TMM)</text>
<rect x="250.05" y="899.93" width="25.45" height="81.97" fill="#c41430"/>
<line x1="262.78" y1="899.93" x2="262.78" y2="898.51" stroke="#c41430" stroke-width="1.5"/>
<line x1="255.68" y1="898.51" x2="269.88" y2="898.51" stroke="#c41430" stroke-width="1.5"/>
<rect x="300.20" y="899.93" width="25.50" height="81.97" fill="#105283"/>
<line x1="312.95" y1="899.93" x2="312.95" y2="898.51" stroke="#105283" stroke-width="1.5"/>
<line x1="305.85" y1="898.51" x2="320.05" y2="898.51" stroke="#105283" stroke-width="1.5"/>
<line x1="230.3" y1="857.70" x2="230.3" y2="981.90" stroke="#000" stroke-width="1.6"/>
<line x1="225.10" y1="981.9" x2="335.30" y2="981.9" stroke="#000" stroke-width="1.6"/>
<line x1="225.10" y1="981.90" x2="230.3" y2="981.90" stroke="#000" stroke-width="1.5"/>
<text x="220.10" y="986.05" font-size="11.7" text-anchor="end">0</text>
<line x1="225.10" y1="942.57" x2="230.3" y2="942.57" stroke="#000" stroke-width="1.5"/>
<text x="220.10" y="946.72" font-size="11.7" text-anchor="end">5</text>
<line x1="225.10" y1="903.23" x2="230.3" y2="903.23" stroke="#000" stroke-width="1.5"/>
<text x="220.10" y="907.38" font-size="11.7" text-anchor="end">10</text>
<line x1="225.10" y1="863.90" x2="230.3" y2="863.90" stroke="#000" stroke-width="1.5"/>
<text x="220.10" y="868.05" font-size="11.7" text-anchor="end">15</text>
<line x1="262.75" y1="981.9" x2="262.75" y2="986.30" stroke="#000" stroke-width="1.6"/>
<line x1="312.90" y1="981.9" x2="312.90" y2="986.30" stroke="#000" stroke-width="1.6"/>
<text x="262.90" y="1000.50" font-size="11.8" text-anchor="middle" textLength="38.2" lengthAdjust="spacingAndGlyphs">Healthy</text>
<text x="312.90" y="1000.50" font-size="11.8" text-anchor="middle" textLength="35.5" lengthAdjust="spacingAndGlyphs">Patient</text>
<text x="286.80" y="850.70" font-size="12" text-anchor="middle" font-weight="bold">CD63</text>
<text x="286.10" y="863.70" font-size="10.5" text-anchor="middle">Diff = −0.05; P = 0.78</text>
<text transform="translate(197.90,920.00) rotate(-90)" x="0" y="0" font-size="15.5" text-anchor="middle" textLength="79.7" lengthAdjust="spacingAndGlyphs" stroke="#000" stroke-width="0.3">Expression (TMM)</text>
<rect x="422.35" y="898.47" width="25.45" height="83.43" fill="#c41430"/>
<line x1="435.08" y1="898.47" x2="435.08" y2="896.29" stroke="#c41430" stroke-width="1.5"/>
<line x1="427.98" y1="896.29" x2="442.18" y2="896.29" stroke="#c41430" stroke-width="1.5"/>
<rect x="472.50" y="897.47" width="25.50" height="84.43" fill="#105283"/>
<line x1="485.25" y1="897.47" x2="485.25" y2="895.76" stroke="#105283" stroke-width="1.5"/>
<line x1="478.15" y1="895.76" x2="492.35" y2="895.76" stroke="#105283" stroke-width="1.5"/>
<line x1="402.6" y1="857.70" x2="402.6" y2="981.90" stroke="#000" stroke-width="1.6"/>
<line x1="397.40" y1="981.9" x2="507.60" y2="981.9" stroke="#000" stroke-width="1.6"/>
<line x1="397.40" y1="981.90" x2="402.6" y2="981.90" stroke="#000" stroke-width="1.5"/>
<text x="392.40" y="986.05" font-size="11.7" text-anchor="end">0</text>
<line x1="397.40" y1="952.40" x2="402.6" y2="952.40" stroke="#000" stroke-width="1.5"/>
<text x="392.40" y="956.55" font-size="11.7" text-anchor="end">5</text>
<line x1="397.40" y1="922.90" x2="402.6" y2="922.90" stroke="#000" stroke-width="1.5"/>
<text x="392.40" y="927.05" font-size="11.7" text-anchor="end">10</text>
<line x1="397.40" y1="893.40" x2="402.6" y2="893.40" stroke="#000" stroke-width="1.5"/>
<text x="392.40" y="897.55" font-size="11.7" text-anchor="end">15</text>
<line x1="397.40" y1="863.90" x2="402.6" y2="863.90" stroke="#000" stroke-width="1.5"/>
<text x="392.40" y="868.05" font-size="11.7" text-anchor="end">20</text>
<line x1="435.05" y1="981.9" x2="435.05" y2="986.30" stroke="#000" stroke-width="1.6"/>
<line x1="485.20" y1="981.9" x2="485.20" y2="986.30" stroke="#000" stroke-width="1.6"/>
<text x="435.20" y="1000.50" font-size="11.8" text-anchor="middle" textLength="38.2" lengthAdjust="spacingAndGlyphs">Healthy</text>
<text x="485.20" y="1000.50" font-size="11.8" text-anchor="middle" textLength="35.5" lengthAdjust="spacingAndGlyphs">Patient</text>
<text x="459.10" y="850.70" font-size="12" text-anchor="middle" font-weight="bold">IGFBP7</text>
<text x="458.40" y="863.70" font-size="10.5" text-anchor="middle">Diff = −0.06; P = 0.82</text>
<text transform="translate(370.20,920.00) rotate(-90)" x="0" y="0" font-size="15.5" text-anchor="middle" textLength="79.7" lengthAdjust="spacingAndGlyphs" stroke="#000" stroke-width="0.3">Expression (TMM)</text>
<rect x="0" y="0" width="520" height="1.75" fill="#000"/>
<rect x="0" y="0" width="1.8" height="1011" fill="#000"/>
<rect x="518.2" y="0" width="1.8" height="1011" fill="#000"/>
<rect x="0" y="1008.9" width="520" height="2.1" fill="#000"/>
</svg></body></html>
